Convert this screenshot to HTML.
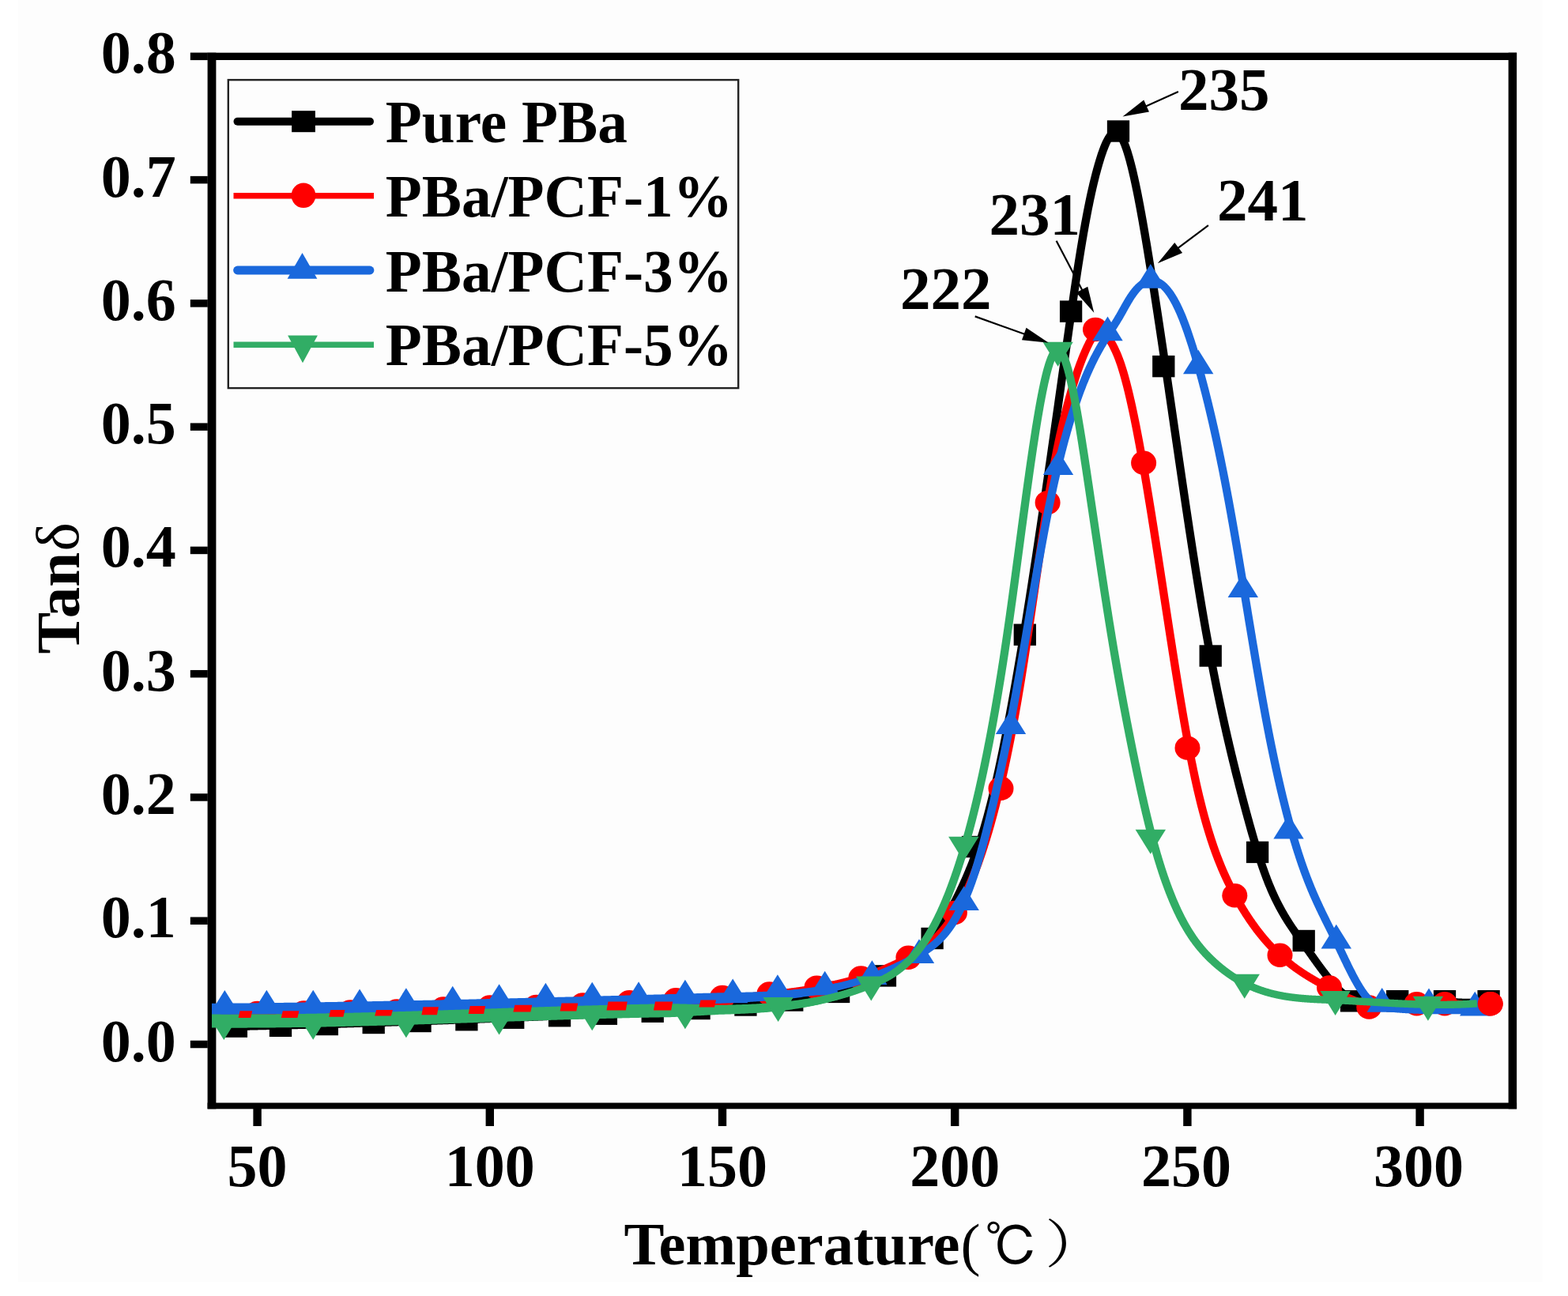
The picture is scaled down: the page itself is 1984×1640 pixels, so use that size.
<!DOCTYPE html>
<html><head><meta charset="utf-8"><style>
html,body{margin:0;padding:0;background:#fff;width:1984px;height:1640px;overflow:hidden}
svg{display:block}
text{font-family:"Liberation Serif",serif;font-weight:bold;fill:#000}
.tk text{font-size:76px}
.b{font-size:75.3px}
.a{font-size:77px}
.t{font-size:76.5px}
.n{font-weight:normal}
</style></head><body>
<svg width="1984" height="1640" viewBox="0 0 1984 1640">
<rect width="1984" height="1640" fill="#fff"/>
<rect x="23" y="0" width="1929" height="1622" fill="#fdfdfd"/>
<rect x="262.6" y="66.7" width="1656.5" height="9.3" fill="#000"/><rect x="262.6" y="1395.5" width="1656.5" height="7.8" fill="#000"/><rect x="262.6" y="66.7" width="10.8" height="1336.6" fill="#000"/><rect x="1908.6" y="66.7" width="10.5" height="1336.6" fill="#000"/>
<defs><clipPath id="pc"><rect x="268" y="71.4" width="1645.8" height="1328.1"/></clipPath></defs>
<g id="plot" clip-path="url(#pc)">
<g transform="scale(1.1,1)"><path d="M259.09,1299.59 L259.55,1299.58 L260.00,1299.57 L260.45,1299.56 L260.91,1299.55 L261.36,1299.53 L261.82,1299.52 L262.27,1299.51 L262.73,1299.50 L263.18,1299.49 L263.64,1299.48 L264.09,1299.47 L264.55,1299.46 L265.00,1299.45 L265.45,1299.44 L265.91,1299.43 L266.36,1299.42 L266.82,1299.41 L267.27,1299.40 L267.73,1299.39 L268.18,1299.38 L268.64,1299.37 L269.09,1299.35 L269.55,1299.34 L270.00,1299.33 L270.45,1299.32 L270.91,1299.31 L271.36,1299.30 L271.82,1299.29 L272.27,1299.28 L272.73,1299.27 L273.18,1299.26 L273.64,1299.25 L274.09,1299.24 L274.55,1299.22 L275.00,1299.21 L275.45,1299.20 L275.91,1299.19 L276.36,1299.18 L276.82,1299.17 L277.27,1299.16 L277.73,1299.15 L278.18,1299.14 L278.64,1299.13 L279.09,1299.12 L279.55,1299.10 L280.00,1299.09 L280.45,1299.08 L280.91,1299.07 L281.36,1299.06 L281.82,1299.05 L282.27,1299.04 L282.73,1299.03 L283.18,1299.02 L283.64,1299.00 L284.09,1298.99 L284.55,1298.98 L285.00,1298.97 L285.45,1298.96 L285.91,1298.95 L286.36,1298.94 L286.82,1298.93 L287.27,1298.91 L287.73,1298.90 L288.18,1298.89 L288.64,1298.88 L289.09,1298.87 L289.55,1298.86 L290.00,1298.85 L290.45,1298.83 L290.91,1298.82 L291.36,1298.81 L291.82,1298.80 L292.27,1298.79 L292.73,1298.78 L293.18,1298.77 L293.64,1298.75 L294.09,1298.74 L294.55,1298.73 L295.00,1298.72 L295.45,1298.71 L295.91,1298.70 L296.36,1298.68 L296.82,1298.67 L297.27,1298.66 L297.73,1298.65 L298.18,1298.64 L298.64,1298.63 L299.09,1298.61 L299.55,1298.60 L300.00,1298.59 L300.45,1298.58 L300.91,1298.57 L301.36,1298.56 L301.82,1298.54 L302.27,1298.53 L302.73,1298.52 L303.18,1298.51 L303.64,1298.50 L304.09,1298.49 L304.55,1298.47 L305.00,1298.46 L305.45,1298.45 L305.91,1298.44 L306.36,1298.43 L306.82,1298.41 L307.27,1298.40 L307.73,1298.39 L308.18,1298.38 L308.64,1298.37 L309.09,1298.35 L309.55,1298.34 L310.00,1298.33 L310.45,1298.32 L310.91,1298.31 L311.36,1298.29 L311.82,1298.28 L312.27,1298.27 L312.73,1298.26 L313.18,1298.25 L313.64,1298.23 L314.09,1298.22 L314.55,1298.21 L315.00,1298.20 L315.45,1298.18 L315.91,1298.17 L316.36,1298.16 L316.82,1298.15 L317.27,1298.14 L317.73,1298.12 L318.18,1298.11 L318.64,1298.10 L319.09,1298.09 L319.55,1298.07 L320.00,1298.06 L320.45,1298.05 L320.91,1298.04 L321.36,1298.02 L321.82,1298.01 L322.27,1298.00 L322.73,1297.99 L323.18,1297.97 L323.64,1297.96 L324.09,1297.95 L324.55,1297.94 L325.00,1297.92 L325.45,1297.91 L325.91,1297.90 L326.36,1297.89 L326.82,1297.87 L327.27,1297.86 L327.73,1297.85 L328.18,1297.84 L328.64,1297.82 L329.09,1297.81 L329.55,1297.80 L330.00,1297.79 L330.45,1297.77 L330.91,1297.76 L331.36,1297.75 L331.82,1297.73 L332.27,1297.72 L332.73,1297.71 L333.18,1297.70 L333.64,1297.68 L334.09,1297.67 L334.55,1297.66 L335.00,1297.64 L335.45,1297.63 L335.91,1297.62 L336.36,1297.61 L336.82,1297.59 L337.27,1297.58 L337.73,1297.57 L338.18,1297.55 L338.64,1297.54 L339.09,1297.53 L339.55,1297.52 L340.00,1297.50 L340.45,1297.49 L340.91,1297.48 L341.36,1297.46 L341.82,1297.45 L342.27,1297.44 L342.73,1297.42 L343.18,1297.41 L343.64,1297.40 L344.09,1297.38 L344.55,1297.37 L345.00,1297.36 L345.45,1297.35 L345.91,1297.33 L346.36,1297.32 L346.82,1297.31 L347.27,1297.29 L347.73,1297.28 L348.18,1297.27 L348.64,1297.25 L349.09,1297.24 L349.55,1297.23 L350.00,1297.21 L350.45,1297.20 L350.91,1297.19 L351.36,1297.17 L351.82,1297.16 L352.27,1297.15 L352.73,1297.13 L353.18,1297.12 L353.64,1297.11 L354.09,1297.09 L354.55,1297.08 L355.00,1297.06 L355.45,1297.05 L355.91,1297.04 L356.36,1297.02 L356.82,1297.01 L357.27,1297.00 L357.73,1296.98 L358.18,1296.97 L358.64,1296.96 L359.09,1296.94 L359.55,1296.93 L360.00,1296.92 L360.45,1296.90 L360.91,1296.89 L361.36,1296.87 L361.82,1296.86 L362.27,1296.85 L362.73,1296.83 L363.18,1296.82 L363.64,1296.81 L364.09,1296.79 L364.55,1296.78 L365.00,1296.76 L365.45,1296.75 L365.91,1296.74 L366.36,1296.72 L366.82,1296.71 L367.27,1296.70 L367.73,1296.68 L368.18,1296.67 L368.64,1296.65 L369.09,1296.64 L369.55,1296.63 L370.00,1296.61 L370.45,1296.60 L370.91,1296.58 L371.36,1296.57 L371.82,1296.56 L372.27,1296.54 L372.73,1296.53 L373.18,1296.51 L373.64,1296.50 L374.09,1296.49 L374.55,1296.47 L375.00,1296.46 L375.45,1296.44 L375.91,1296.43 L376.36,1296.41 L376.82,1296.40 L377.27,1296.39 L377.73,1296.37 L378.18,1296.36 L378.64,1296.34 L379.09,1296.33 L379.55,1296.32 L380.00,1296.30 L380.45,1296.29 L380.91,1296.27 L381.36,1296.26 L381.82,1296.24 L382.27,1296.23 L382.73,1296.22 L383.18,1296.20 L383.64,1296.19 L384.09,1296.17 L384.55,1296.16 L385.00,1296.14 L385.45,1296.13 L385.91,1296.11 L386.36,1296.10 L386.82,1296.09 L387.27,1296.07 L387.73,1296.06 L388.18,1296.04 L388.64,1296.03 L389.09,1296.01 L389.55,1296.00 L390.00,1295.98 L390.45,1295.97 L390.91,1295.95 L391.36,1295.94 L391.82,1295.92 L392.27,1295.91 L392.73,1295.90 L393.18,1295.88 L393.64,1295.87 L394.09,1295.85 L394.55,1295.84 L395.00,1295.82 L395.45,1295.81 L395.91,1295.79 L396.36,1295.78 L396.82,1295.76 L397.27,1295.75 L397.73,1295.73 L398.18,1295.72 L398.64,1295.70 L399.09,1295.69 L399.55,1295.67 L400.00,1295.66 L400.45,1295.64 L400.91,1295.63 L401.36,1295.61 L401.82,1295.60 L402.27,1295.58 L402.73,1295.57 L403.18,1295.55 L403.64,1295.54 L404.09,1295.52 L404.55,1295.51 L405.00,1295.49 L405.45,1295.48 L405.91,1295.46 L406.36,1295.45 L406.82,1295.43 L407.27,1295.42 L407.73,1295.40 L408.18,1295.39 L408.64,1295.37 L409.09,1295.36 L409.55,1295.34 L410.00,1295.33 L410.45,1295.31 L410.91,1295.30 L411.36,1295.28 L411.82,1295.27 L412.27,1295.25 L412.73,1295.24 L413.18,1295.22 L413.64,1295.21 L414.09,1295.19 L414.55,1295.17 L415.00,1295.16 L415.45,1295.14 L415.91,1295.13 L416.36,1295.11 L416.82,1295.10 L417.27,1295.08 L417.73,1295.07 L418.18,1295.05 L418.64,1295.04 L419.09,1295.02 L419.55,1295.01 L420.00,1294.99 L420.45,1294.97 L420.91,1294.96 L421.36,1294.94 L421.82,1294.93 L422.27,1294.91 L422.73,1294.90 L423.18,1294.88 L423.64,1294.87 L424.09,1294.85 L424.55,1294.83 L425.00,1294.82 L425.45,1294.80 L425.91,1294.79 L426.36,1294.77 L426.82,1294.76 L427.27,1294.74 L427.73,1294.72 L428.18,1294.71 L428.64,1294.69 L429.09,1294.68 L429.55,1294.66 L430.00,1294.65 L430.45,1294.63 L430.91,1294.61 L431.36,1294.60 L431.82,1294.58 L432.27,1294.57 L432.73,1294.55 L433.18,1294.53 L433.64,1294.52 L434.09,1294.50 L434.55,1294.49 L435.00,1294.47 L435.45,1294.45 L435.91,1294.44 L436.36,1294.42 L436.82,1294.41 L437.27,1294.39 L437.73,1294.37 L438.18,1294.36 L438.64,1294.34 L439.09,1294.33 L439.55,1294.31 L440.00,1294.29 L440.45,1294.28 L440.91,1294.26 L441.36,1294.25 L441.82,1294.23 L442.27,1294.21 L442.73,1294.20 L443.18,1294.18 L443.64,1294.16 L444.09,1294.15 L444.55,1294.13 L445.00,1294.12 L445.45,1294.10 L445.91,1294.08 L446.36,1294.07 L446.82,1294.05 L447.27,1294.03 L447.73,1294.02 L448.18,1294.00 L448.64,1293.98 L449.09,1293.97 L449.55,1293.95 L450.00,1293.94 L450.45,1293.92 L450.91,1293.90 L451.36,1293.89 L451.82,1293.87 L452.27,1293.85 L452.73,1293.84 L453.18,1293.82 L453.64,1293.80 L454.09,1293.79 L454.55,1293.77 L455.00,1293.75 L455.45,1293.74 L455.91,1293.72 L456.36,1293.70 L456.82,1293.69 L457.27,1293.67 L457.73,1293.65 L458.18,1293.64 L458.64,1293.62 L459.09,1293.60 L459.55,1293.59 L460.00,1293.57 L460.45,1293.55 L460.91,1293.54 L461.36,1293.52 L461.82,1293.50 L462.27,1293.49 L462.73,1293.47 L463.18,1293.45 L463.64,1293.44 L464.09,1293.42 L464.55,1293.40 L465.00,1293.39 L465.45,1293.37 L465.91,1293.35 L466.36,1293.34 L466.82,1293.32 L467.27,1293.30 L467.73,1293.28 L468.18,1293.27 L468.64,1293.25 L469.09,1293.23 L469.55,1293.22 L470.00,1293.20 L470.45,1293.18 L470.91,1293.17 L471.36,1293.15 L471.82,1293.13 L472.27,1293.11 L472.73,1293.10 L473.18,1293.08 L473.64,1293.06 L474.09,1293.05 L474.55,1293.03 L475.00,1293.01 L475.45,1292.99 L475.91,1292.98 L476.36,1292.96 L476.82,1292.94 L477.27,1292.93 L477.73,1292.91 L478.18,1292.89 L478.64,1292.87 L479.09,1292.86 L479.55,1292.84 L480.00,1292.82 L480.45,1292.80 L480.91,1292.79 L481.36,1292.77 L481.82,1292.75 L482.27,1292.74 L482.73,1292.72 L483.18,1292.70 L483.64,1292.68 L484.09,1292.67 L484.55,1292.65 L485.00,1292.63 L485.45,1292.61 L485.91,1292.60 L486.36,1292.58 L486.82,1292.56 L487.27,1292.54 L487.73,1292.53 L488.18,1292.51 L488.64,1292.49 L489.09,1292.47 L489.55,1292.46 L490.00,1292.44 L490.45,1292.42 L490.91,1292.40 L491.36,1292.38 L491.82,1292.37 L492.27,1292.35 L492.73,1292.33 L493.18,1292.31 L493.64,1292.30 L494.09,1292.28 L494.55,1292.26 L495.00,1292.24 L495.45,1292.23 L495.91,1292.21 L496.36,1292.19 L496.82,1292.17 L497.27,1292.15 L497.73,1292.14 L498.18,1292.12 L498.64,1292.10 L499.09,1292.08 L499.55,1292.06 L500.00,1292.05 L500.45,1292.03 L500.91,1292.01 L501.36,1291.99 L501.82,1291.98 L502.27,1291.96 L502.73,1291.94 L503.18,1291.92 L503.64,1291.90 L504.09,1291.89 L504.55,1291.87 L505.00,1291.85 L505.45,1291.83 L505.91,1291.81 L506.36,1291.79 L506.82,1291.78 L507.27,1291.76 L507.73,1291.74 L508.18,1291.72 L508.64,1291.70 L509.09,1291.69 L509.55,1291.67 L510.00,1291.65 L510.45,1291.63 L510.91,1291.61 L511.36,1291.60 L511.82,1291.58 L512.27,1291.56 L512.73,1291.54 L513.18,1291.52 L513.64,1291.50 L514.09,1291.49 L514.55,1291.47 L515.00,1291.45 L515.45,1291.43 L515.91,1291.41 L516.36,1291.39 L516.82,1291.38 L517.27,1291.36 L517.73,1291.34 L518.18,1291.32 L518.64,1291.30 L519.09,1291.28 L519.55,1291.26 L520.00,1291.25 L520.45,1291.23 L520.91,1291.21 L521.36,1291.19 L521.82,1291.17 L522.27,1291.15 L522.73,1291.14 L523.18,1291.12 L523.64,1291.10 L524.09,1291.08 L524.55,1291.06 L525.00,1291.04 L525.45,1291.02 L525.91,1291.00 L526.36,1290.99 L526.82,1290.97 L527.27,1290.95 L527.73,1290.93 L528.18,1290.91 L528.64,1290.89 L529.09,1290.87 L529.55,1290.86 L530.00,1290.84 L530.45,1290.82 L530.91,1290.80 L531.36,1290.78 L531.82,1290.76 L532.27,1290.74 L532.73,1290.72 L533.18,1290.70 L533.64,1290.69 L534.09,1290.67 L534.55,1290.65 L535.00,1290.63 L535.45,1290.61 L535.91,1290.59 L536.36,1290.57 L536.82,1290.55 L537.27,1290.53 L537.73,1290.52 L538.18,1290.50 L538.64,1290.48 L539.09,1290.46 L539.55,1290.44 L540.00,1290.42 L540.45,1290.40 L540.91,1290.38 L541.36,1290.36 L541.82,1290.34 L542.27,1290.32 L542.73,1290.31 L543.18,1290.29 L543.64,1290.27 L544.09,1290.25 L544.55,1290.23 L545.00,1290.21 L545.45,1290.19 L545.91,1290.17 L546.36,1290.15 L546.82,1290.13 L547.27,1290.11 L547.73,1290.09 L548.18,1290.07 L548.64,1290.06 L549.09,1290.04 L549.55,1290.02 L550.00,1290.00 L550.45,1289.98 L550.91,1289.96 L551.36,1289.94 L551.82,1289.92 L552.27,1289.90 L552.73,1289.88 L553.18,1289.86 L553.64,1289.84 L554.09,1289.82 L554.55,1289.80 L555.00,1289.78 L555.45,1289.76 L555.91,1289.75 L556.36,1289.73 L556.82,1289.71 L557.27,1289.69 L557.73,1289.67 L558.18,1289.65 L558.64,1289.63 L559.09,1289.61 L559.55,1289.59 L560.00,1289.57 L560.45,1289.55 L560.91,1289.53 L561.36,1289.51 L561.82,1289.49 L562.27,1289.47 L562.73,1289.45 L563.18,1289.43 L563.64,1289.41 L564.09,1289.39 L564.55,1289.37 L565.00,1289.35 L565.45,1289.33 L565.91,1289.31 L566.36,1289.29 L566.82,1289.27 L567.27,1289.25 L567.73,1289.23 L568.18,1289.21 L568.64,1289.19 L569.09,1289.17 L569.55,1289.15 L570.00,1289.13 L570.45,1289.11 L570.91,1289.09 L571.36,1289.07 L571.82,1289.05 L572.27,1289.03 L572.73,1289.01 L573.18,1288.99 L573.64,1288.97 L574.09,1288.95 L574.55,1288.93 L575.00,1288.91 L575.45,1288.89 L575.91,1288.87 L576.36,1288.85 L576.82,1288.83 L577.27,1288.81 L577.73,1288.79 L578.18,1288.77 L578.64,1288.75 L579.09,1288.73 L579.55,1288.71 L580.00,1288.69 L580.45,1288.67 L580.91,1288.65 L581.36,1288.63 L581.82,1288.61 L582.27,1288.59 L582.73,1288.57 L583.18,1288.55 L583.64,1288.53 L584.09,1288.51 L584.55,1288.49 L585.00,1288.47 L585.45,1288.45 L585.91,1288.43 L586.36,1288.41 L586.82,1288.39 L587.27,1288.37 L587.73,1288.35 L588.18,1288.33 L588.64,1288.31 L589.09,1288.29 L589.55,1288.27 L590.00,1288.25 L590.45,1288.23 L590.91,1288.20 L591.36,1288.18 L591.82,1288.16 L592.27,1288.14 L592.73,1288.12 L593.18,1288.10 L593.64,1288.08 L594.09,1288.06 L594.55,1288.04 L595.00,1288.02 L595.45,1288.00 L595.91,1287.98 L596.36,1287.96 L596.82,1287.94 L597.27,1287.92 L597.73,1287.90 L598.18,1287.88 L598.64,1287.85 L599.09,1287.83 L599.55,1287.81 L600.00,1287.79 L600.45,1287.77 L600.91,1287.75 L601.36,1287.73 L601.82,1287.71 L602.27,1287.69 L602.73,1287.67 L603.18,1287.65 L603.64,1287.63 L604.09,1287.61 L604.55,1287.58 L605.00,1287.56 L605.45,1287.54 L605.91,1287.52 L606.36,1287.50 L606.82,1287.48 L607.27,1287.46 L607.73,1287.44 L608.18,1287.42 L608.64,1287.40 L609.09,1287.37 L609.55,1287.35 L610.00,1287.33 L610.45,1287.31 L610.91,1287.29 L611.36,1287.27 L611.82,1287.25 L612.27,1287.23 L612.73,1287.21 L613.18,1287.19 L613.64,1287.16 L614.09,1287.14 L614.55,1287.12 L615.00,1287.10 L615.45,1287.08 L615.91,1287.06 L616.36,1287.04 L616.82,1287.02 L617.27,1286.99 L617.73,1286.97 L618.18,1286.95 L618.64,1286.93 L619.09,1286.91 L619.55,1286.89 L620.00,1286.87 L620.45,1286.85 L620.91,1286.82 L621.36,1286.80 L621.82,1286.78 L622.27,1286.76 L622.73,1286.74 L623.18,1286.72 L623.64,1286.70 L624.09,1286.68 L624.55,1286.65 L625.00,1286.63 L625.45,1286.61 L625.91,1286.59 L626.36,1286.57 L626.82,1286.55 L627.27,1286.53 L627.73,1286.50 L628.18,1286.48 L628.64,1286.46 L629.09,1286.44 L629.55,1286.42 L630.00,1286.40 L630.45,1286.37 L630.91,1286.35 L631.36,1286.33 L631.82,1286.31 L632.27,1286.29 L632.73,1286.27 L633.18,1286.24 L633.64,1286.22 L634.09,1286.20 L634.55,1286.18 L635.00,1286.16 L635.45,1286.14 L635.91,1286.11 L636.36,1286.09 L636.82,1286.07 L637.27,1286.05 L637.73,1286.03 L638.18,1286.01 L638.64,1285.98 L639.09,1285.96 L639.55,1285.94 L640.00,1285.92 L640.45,1285.90 L640.91,1285.87 L641.36,1285.85 L641.82,1285.83 L642.27,1285.81 L642.73,1285.79 L643.18,1285.77 L643.64,1285.74 L644.09,1285.72 L644.55,1285.70 L645.00,1285.68 L645.45,1285.66 L645.91,1285.63 L646.36,1285.61 L646.82,1285.59 L647.27,1285.57 L647.73,1285.55 L648.18,1285.52 L648.64,1285.50 L649.09,1285.48 L649.55,1285.46 L650.00,1285.44 L650.45,1285.41 L650.91,1285.39 L651.36,1285.37 L651.82,1285.35 L652.27,1285.32 L652.73,1285.30 L653.18,1285.28 L653.64,1285.26 L654.09,1285.24 L654.55,1285.21 L655.00,1285.19 L655.45,1285.17 L655.91,1285.15 L656.36,1285.12 L656.82,1285.10 L657.27,1285.08 L657.73,1285.06 L658.18,1285.04 L658.64,1285.01 L659.09,1284.99 L659.55,1284.97 L660.00,1284.95 L660.45,1284.92 L660.91,1284.90 L661.36,1284.88 L661.82,1284.86 L662.27,1284.83 L662.73,1284.81 L663.18,1284.79 L663.64,1284.77 L664.09,1284.74 L664.55,1284.72 L665.00,1284.70 L665.45,1284.68 L665.91,1284.65 L666.36,1284.63 L666.82,1284.61 L667.27,1284.59 L667.73,1284.56 L668.18,1284.54 L668.64,1284.52 L669.09,1284.50 L669.55,1284.47 L670.00,1284.45 L670.45,1284.43 L670.91,1284.41 L671.36,1284.38 L671.82,1284.36 L672.27,1284.34 L672.73,1284.32 L673.18,1284.29 L673.64,1284.27 L674.09,1284.25 L674.55,1284.22 L675.00,1284.20 L675.45,1284.18 L675.91,1284.16 L676.36,1284.13 L676.82,1284.11 L677.27,1284.09 L677.73,1284.06 L678.18,1284.04 L678.64,1284.02 L679.09,1284.00 L679.55,1283.97 L680.00,1283.95 L680.45,1283.93 L680.91,1283.90 L681.36,1283.88 L681.82,1283.86 L682.27,1283.84 L682.73,1283.81 L683.18,1283.79 L683.64,1283.77 L684.09,1283.74 L684.55,1283.72 L685.00,1283.70 L685.45,1283.67 L685.91,1283.65 L686.36,1283.63 L686.82,1283.61 L687.27,1283.58 L687.73,1283.56 L688.18,1283.54 L688.64,1283.51 L689.09,1283.49 L689.55,1283.47 L690.00,1283.44 L690.45,1283.42 L690.91,1283.40 L691.36,1283.37 L691.82,1283.35 L692.27,1283.33 L692.73,1283.30 L693.18,1283.28 L693.64,1283.26 L694.09,1283.23 L694.55,1283.21 L695.00,1283.19 L695.45,1283.16 L695.91,1283.14 L696.36,1283.12 L696.82,1283.09 L697.27,1283.07 L697.73,1283.05 L698.18,1283.02 L698.64,1283.00 L699.09,1282.98 L699.55,1282.95 L700.00,1282.93 L700.45,1282.91 L700.91,1282.88 L701.36,1282.86 L701.82,1282.84 L702.27,1282.81 L702.73,1282.79 L703.18,1282.77 L703.64,1282.74 L704.09,1282.72 L704.55,1282.70 L705.00,1282.67 L705.45,1282.65 L705.91,1282.63 L706.36,1282.60 L706.82,1282.58 L707.27,1282.55 L707.73,1282.53 L708.18,1282.51 L708.64,1282.48 L709.09,1282.46 L709.55,1282.44 L710.00,1282.41 L710.45,1282.39 L710.91,1282.36 L711.36,1282.34 L711.82,1282.32 L712.27,1282.29 L712.73,1282.27 L713.18,1282.25 L713.64,1282.22 L714.09,1282.20 L714.55,1282.17 L715.00,1282.15 L715.45,1282.13 L715.91,1282.10 L716.36,1282.08 L716.82,1282.05 L717.27,1282.03 L717.73,1282.00 L718.18,1281.98 L718.64,1281.96 L719.09,1281.93 L719.55,1281.91 L720.00,1281.88 L720.45,1281.86 L720.91,1281.83 L721.36,1281.81 L721.82,1281.79 L722.27,1281.76 L722.73,1281.74 L723.18,1281.71 L723.64,1281.69 L724.09,1281.66 L724.55,1281.64 L725.00,1281.61 L725.45,1281.59 L725.91,1281.57 L726.36,1281.54 L726.82,1281.52 L727.27,1281.49 L727.73,1281.47 L728.18,1281.44 L728.64,1281.42 L729.09,1281.39 L729.55,1281.37 L730.00,1281.34 L730.45,1281.32 L730.91,1281.29 L731.36,1281.27 L731.82,1281.24 L732.27,1281.22 L732.73,1281.19 L733.18,1281.17 L733.64,1281.14 L734.09,1281.12 L734.55,1281.09 L735.00,1281.07 L735.45,1281.04 L735.91,1281.01 L736.36,1280.99 L736.82,1280.96 L737.27,1280.94 L737.73,1280.91 L738.18,1280.89 L738.64,1280.86 L739.09,1280.84 L739.55,1280.81 L740.00,1280.78 L740.45,1280.76 L740.91,1280.73 L741.36,1280.71 L741.82,1280.68 L742.27,1280.66 L742.73,1280.63 L743.18,1280.60 L743.64,1280.58 L744.09,1280.55 L744.55,1280.52 L745.00,1280.50 L745.45,1280.47 L745.91,1280.45 L746.36,1280.42 L746.82,1280.39 L747.27,1280.37 L747.73,1280.34 L748.18,1280.31 L748.64,1280.29 L749.09,1280.26 L749.55,1280.23 L750.00,1280.21 L750.45,1280.18 L750.91,1280.15 L751.36,1280.13 L751.82,1280.10 L752.27,1280.07 L752.73,1280.05 L753.18,1280.02 L753.64,1279.99 L754.09,1279.97 L754.55,1279.94 L755.00,1279.91 L755.45,1279.88 L755.91,1279.86 L756.36,1279.83 L756.82,1279.80 L757.27,1279.77 L757.73,1279.75 L758.18,1279.72 L758.64,1279.69 L759.09,1279.66 L759.55,1279.64 L760.00,1279.61 L760.45,1279.58 L760.91,1279.55 L761.36,1279.53 L761.82,1279.50 L762.27,1279.47 L762.73,1279.44 L763.18,1279.41 L763.64,1279.39 L764.09,1279.36 L764.55,1279.33 L765.00,1279.30 L765.45,1279.27 L765.91,1279.24 L766.36,1279.22 L766.82,1279.19 L767.27,1279.16 L767.73,1279.13 L768.18,1279.10 L768.64,1279.07 L769.09,1279.04 L769.55,1279.01 L770.00,1278.99 L770.45,1278.96 L770.91,1278.93 L771.36,1278.90 L771.82,1278.87 L772.27,1278.84 L772.73,1278.81 L773.18,1278.78 L773.64,1278.75 L774.09,1278.72 L774.55,1278.69 L775.00,1278.66 L775.45,1278.63 L775.91,1278.60 L776.36,1278.57 L776.82,1278.54 L777.27,1278.51 L777.73,1278.48 L778.18,1278.45 L778.64,1278.42 L779.09,1278.39 L779.55,1278.36 L780.00,1278.33 L780.45,1278.30 L780.91,1278.27 L781.36,1278.24 L781.82,1278.21 L782.27,1278.18 L782.73,1278.15 L783.18,1278.12 L783.64,1278.09 L784.09,1278.06 L784.55,1278.03 L785.00,1278.00 L785.45,1277.96 L785.91,1277.93 L786.36,1277.90 L786.82,1277.87 L787.27,1277.84 L787.73,1277.81 L788.18,1277.78 L788.64,1277.75 L789.09,1277.71 L789.55,1277.68 L790.00,1277.65 L790.45,1277.62 L790.91,1277.59 L791.36,1277.55 L791.82,1277.52 L792.27,1277.49 L792.73,1277.46 L793.18,1277.43 L793.64,1277.39 L794.09,1277.36 L794.55,1277.33 L795.00,1277.30 L795.45,1277.26 L795.91,1277.23 L796.36,1277.20 L796.82,1277.16 L797.27,1277.13 L797.73,1277.10 L798.18,1277.07 L798.64,1277.03 L799.09,1277.00 L799.55,1276.97 L800.00,1276.93 L800.45,1276.90 L800.91,1276.87 L801.36,1276.83 L801.82,1276.80 L802.27,1276.76 L802.73,1276.73 L803.18,1276.70 L803.64,1276.66 L804.09,1276.63 L804.55,1276.59 L805.00,1276.56 L805.45,1276.52 L805.91,1276.49 L806.36,1276.46 L806.82,1276.42 L807.27,1276.39 L807.73,1276.35 L808.18,1276.32 L808.64,1276.28 L809.09,1276.25 L809.55,1276.21 L810.00,1276.18 L810.45,1276.14 L810.91,1276.11 L811.36,1276.07 L811.82,1276.03 L812.27,1276.00 L812.73,1275.96 L813.18,1275.93 L813.64,1275.89 L814.09,1275.86 L814.55,1275.82 L815.00,1275.78 L815.45,1275.75 L815.91,1275.71 L816.36,1275.67 L816.82,1275.64 L817.27,1275.60 L817.73,1275.57 L818.18,1275.53 L818.64,1275.49 L819.09,1275.45 L819.55,1275.42 L820.00,1275.38 L820.45,1275.34 L820.91,1275.31 L821.36,1275.27 L821.82,1275.23 L822.27,1275.19 L822.73,1275.16 L823.18,1275.12 L823.64,1275.08 L824.09,1275.04 L824.55,1275.00 L825.00,1274.97 L825.45,1274.93 L825.91,1274.89 L826.36,1274.85 L826.82,1274.81 L827.27,1274.77 L827.73,1274.74 L828.18,1274.70 L828.64,1274.66 L829.09,1274.62 L829.55,1274.58 L830.00,1274.54 L830.45,1274.50 L830.91,1274.46 L831.36,1274.42 L831.82,1274.38 L832.27,1274.34 L832.73,1274.30 L833.18,1274.26 L833.64,1274.22 L834.09,1274.18 L834.55,1274.14 L835.00,1274.10 L835.45,1274.06 L835.91,1274.02 L836.36,1273.98 L836.82,1273.94 L837.27,1273.90 L837.73,1273.86 L838.18,1273.82 L838.64,1273.78 L839.09,1273.74 L839.55,1273.69 L840.00,1273.65 L840.45,1273.61 L840.91,1273.57 L841.36,1273.53 L841.82,1273.49 L842.27,1273.44 L842.73,1273.40 L843.18,1273.36 L843.64,1273.32 L844.09,1273.28 L844.55,1273.23 L845.00,1273.19 L845.45,1273.15 L845.91,1273.11 L846.36,1273.06 L846.82,1273.02 L847.27,1272.98 L847.73,1272.93 L848.18,1272.89 L848.64,1272.85 L849.09,1272.80 L849.55,1272.76 L850.00,1272.72 L850.45,1272.67 L850.91,1272.63 L851.36,1272.58 L851.82,1272.54 L852.27,1272.50 L852.73,1272.45 L853.18,1272.41 L853.64,1272.36 L854.09,1272.32 L854.55,1272.27 L855.00,1272.23 L855.45,1272.18 L855.91,1272.14 L856.36,1272.09 L856.82,1272.05 L857.27,1272.00 L857.73,1271.96 L858.18,1271.91 L858.64,1271.86 L859.09,1271.82 L859.55,1271.77 L860.00,1271.73 L860.45,1271.68 L860.91,1271.63 L861.36,1271.59 L861.82,1271.54 L862.27,1271.49 L862.73,1271.45 L863.18,1271.40 L863.64,1271.35 L864.09,1271.31 L864.55,1271.26 L865.00,1271.21 L865.45,1271.16 L865.91,1271.12 L866.36,1271.07 L866.82,1271.02 L867.27,1270.97 L867.73,1270.92 L868.18,1270.87 L868.64,1270.83 L869.09,1270.78 L869.55,1270.73 L870.00,1270.68 L870.45,1270.63 L870.91,1270.58 L871.36,1270.53 L871.82,1270.48 L872.27,1270.43 L872.73,1270.38 L873.18,1270.33 L873.64,1270.28 L874.09,1270.24 L874.55,1270.18 L875.00,1270.13 L875.45,1270.08 L875.91,1270.03 L876.36,1269.98 L876.82,1269.93 L877.27,1269.88 L877.73,1269.83 L878.18,1269.78 L878.64,1269.73 L879.09,1269.68 L879.55,1269.63 L880.00,1269.57 L880.45,1269.52 L880.91,1269.47 L881.36,1269.42 L881.82,1269.37 L882.27,1269.31 L882.73,1269.26 L883.18,1269.21 L883.64,1269.16 L884.09,1269.10 L884.55,1269.05 L885.00,1269.00 L885.45,1268.95 L885.91,1268.89 L886.36,1268.84 L886.82,1268.78 L887.27,1268.73 L887.73,1268.68 L888.18,1268.62 L888.64,1268.57 L889.09,1268.52 L889.55,1268.46 L890.00,1268.41 L890.45,1268.35 L890.91,1268.30 L891.36,1268.24 L891.82,1268.19 L892.27,1268.13 L892.73,1268.08 L893.18,1268.02 L893.64,1267.97 L894.09,1267.91 L894.55,1267.85 L895.00,1267.80 L895.45,1267.74 L895.91,1267.69 L896.36,1267.63 L896.82,1267.57 L897.27,1267.52 L897.73,1267.46 L898.18,1267.40 L898.64,1267.34 L899.09,1267.29 L899.55,1267.23 L900.00,1267.17 L900.45,1267.12 L900.91,1267.06 L901.36,1267.00 L901.82,1266.94 L902.27,1266.88 L902.73,1266.82 L903.18,1266.77 L903.64,1266.71 L904.09,1266.65 L904.55,1266.59 L905.00,1266.53 L905.45,1266.47 L905.91,1266.41 L906.36,1266.35 L906.82,1266.29 L907.27,1266.23 L907.73,1266.17 L908.18,1266.11 L908.64,1266.05 L909.09,1265.99 L909.55,1265.93 L910.00,1265.87 L910.45,1265.81 L910.91,1265.75 L911.36,1265.69 L911.82,1265.63 L912.27,1265.56 L912.73,1265.50 L913.18,1265.44 L913.64,1265.38 L914.09,1265.32 L914.55,1265.25 L915.00,1265.19 L915.45,1265.13 L915.91,1265.07 L916.36,1265.00 L916.82,1264.94 L917.27,1264.88 L917.73,1264.81 L918.18,1264.75 L918.64,1264.68 L919.09,1264.62 L919.55,1264.56 L920.00,1264.49 L920.45,1264.42 L920.91,1264.36 L921.36,1264.29 L921.82,1264.23 L922.27,1264.16 L922.73,1264.09 L923.18,1264.03 L923.64,1263.96 L924.09,1263.89 L924.55,1263.82 L925.00,1263.76 L925.45,1263.69 L925.91,1263.62 L926.36,1263.55 L926.82,1263.48 L927.27,1263.41 L927.73,1263.34 L928.18,1263.27 L928.64,1263.20 L929.09,1263.13 L929.55,1263.06 L930.00,1262.98 L930.45,1262.91 L930.91,1262.84 L931.36,1262.76 L931.82,1262.69 L932.27,1262.62 L932.73,1262.54 L933.18,1262.47 L933.64,1262.39 L934.09,1262.32 L934.55,1262.24 L935.00,1262.16 L935.45,1262.09 L935.91,1262.01 L936.36,1261.93 L936.82,1261.85 L937.27,1261.77 L937.73,1261.69 L938.18,1261.61 L938.64,1261.53 L939.09,1261.45 L939.55,1261.37 L940.00,1261.29 L940.45,1261.21 L940.91,1261.12 L941.36,1261.04 L941.82,1260.96 L942.27,1260.87 L942.73,1260.79 L943.18,1260.70 L943.64,1260.62 L944.09,1260.53 L944.55,1260.44 L945.00,1260.35 L945.45,1260.27 L945.91,1260.18 L946.36,1260.09 L946.82,1260.00 L947.27,1259.91 L947.73,1259.81 L948.18,1259.72 L948.64,1259.63 L949.09,1259.54 L949.55,1259.44 L950.00,1259.35 L950.45,1259.25 L950.91,1259.16 L951.36,1259.06 L951.82,1258.96 L952.27,1258.87 L952.73,1258.77 L953.18,1258.67 L953.64,1258.57 L954.09,1258.47 L954.55,1258.37 L955.00,1258.27 L955.45,1258.16 L955.91,1258.06 L956.36,1257.96 L956.82,1257.85 L957.27,1257.75 L957.73,1257.64 L958.18,1257.53 L958.64,1257.43 L959.09,1257.32 L959.55,1257.21 L960.00,1257.10 L960.45,1256.99 L960.91,1256.88 L961.36,1256.76 L961.82,1256.65 L962.27,1256.54 L962.73,1256.42 L963.18,1256.31 L963.64,1256.19 L964.09,1256.08 L964.55,1255.96 L965.00,1255.84 L965.45,1255.72 L965.91,1255.60 L966.36,1255.48 L966.82,1255.36 L967.27,1255.23 L967.73,1255.11 L968.18,1254.99 L968.64,1254.86 L969.09,1254.73 L969.55,1254.61 L970.00,1254.48 L970.45,1254.35 L970.91,1254.22 L971.36,1254.09 L971.82,1253.96 L972.27,1253.83 L972.73,1253.69 L973.18,1253.56 L973.64,1253.42 L974.09,1253.29 L974.55,1253.15 L975.00,1253.01 L975.45,1252.87 L975.91,1252.73 L976.36,1252.59 L976.82,1252.45 L977.27,1252.31 L977.73,1252.16 L978.18,1252.02 L978.64,1251.87 L979.09,1251.73 L979.55,1251.58 L980.00,1251.43 L980.45,1251.28 L980.91,1251.13 L981.36,1250.98 L981.82,1250.82 L982.27,1250.67 L982.73,1250.52 L983.18,1250.36 L983.64,1250.20 L984.09,1250.04 L984.55,1249.88 L985.00,1249.72 L985.45,1249.56 L985.91,1249.40 L986.36,1249.24 L986.82,1249.07 L987.27,1248.91 L987.73,1248.74 L988.18,1248.57 L988.64,1248.40 L989.09,1248.23 L989.55,1248.06 L990.00,1247.89 L990.45,1247.71 L990.91,1247.54 L991.36,1247.36 L991.82,1247.19 L992.27,1247.01 L992.73,1246.83 L993.18,1246.65 L993.64,1246.47 L994.09,1246.28 L994.55,1246.10 L995.00,1245.91 L995.45,1245.73 L995.91,1245.54 L996.36,1245.35 L996.82,1245.16 L997.27,1244.97 L997.73,1244.78 L998.18,1244.58 L998.64,1244.39 L999.09,1244.19 L999.55,1243.99 L1000.00,1243.80 L1000.45,1243.60 L1000.91,1243.39 L1001.36,1243.19 L1001.82,1242.99 L1002.27,1242.78 L1002.73,1242.58 L1003.18,1242.37 L1003.64,1242.16 L1004.09,1241.95 L1004.55,1241.74 L1005.00,1241.52 L1005.45,1241.31 L1005.91,1241.09 L1006.36,1240.88 L1006.82,1240.66 L1007.27,1240.44 L1007.73,1240.22 L1008.18,1239.99 L1008.64,1239.77 L1009.09,1239.54 L1009.55,1239.32 L1010.00,1239.09 L1010.45,1238.86 L1010.91,1238.63 L1011.36,1238.40 L1011.82,1238.16 L1012.27,1237.93 L1012.73,1237.69 L1013.18,1237.45 L1013.64,1237.21 L1014.09,1236.97 L1014.55,1236.73 L1015.00,1236.49 L1015.45,1236.24 L1015.91,1236.00 L1016.36,1235.75 L1016.82,1235.50 L1017.27,1235.25 L1017.73,1234.99 L1018.18,1234.74 L1018.64,1234.48 L1019.09,1234.23 L1019.55,1233.97 L1020.00,1233.71 L1020.45,1233.45 L1020.91,1233.18 L1021.36,1232.92 L1021.82,1232.65 L1022.27,1232.38 L1022.73,1232.11 L1023.18,1231.84 L1023.64,1231.57 L1024.09,1231.29 L1024.55,1231.01 L1025.00,1230.73 L1025.45,1230.45 L1025.91,1230.17 L1026.36,1229.88 L1026.82,1229.60 L1027.27,1229.31 L1027.73,1229.02 L1028.18,1228.72 L1028.64,1228.43 L1029.09,1228.13 L1029.55,1227.83 L1030.00,1227.53 L1030.45,1227.22 L1030.91,1226.92 L1031.36,1226.61 L1031.82,1226.30 L1032.27,1225.98 L1032.73,1225.67 L1033.18,1225.35 L1033.64,1225.03 L1034.09,1224.71 L1034.55,1224.38 L1035.00,1224.05 L1035.45,1223.72 L1035.91,1223.39 L1036.36,1223.05 L1036.82,1222.71 L1037.27,1222.37 L1037.73,1222.03 L1038.18,1221.68 L1038.64,1221.33 L1039.09,1220.98 L1039.55,1220.63 L1040.00,1220.27 L1040.45,1219.91 L1040.91,1219.55 L1041.36,1219.18 L1041.82,1218.81 L1042.27,1218.44 L1042.73,1218.06 L1043.18,1217.69 L1043.64,1217.31 L1044.09,1216.92 L1044.55,1216.53 L1045.00,1216.14 L1045.45,1215.75 L1045.91,1215.35 L1046.36,1214.95 L1046.82,1214.55 L1047.27,1214.14 L1047.73,1213.74 L1048.18,1213.32 L1048.64,1212.91 L1049.09,1212.49 L1049.55,1212.06 L1050.00,1211.64 L1050.45,1211.21 L1050.91,1210.77 L1051.36,1210.34 L1051.82,1209.90 L1052.27,1209.45 L1052.73,1209.00 L1053.18,1208.55 L1053.64,1208.10 L1054.09,1207.64 L1054.55,1207.18 L1055.00,1206.71 L1055.45,1206.24 L1055.91,1205.77 L1056.36,1205.29 L1056.82,1204.81 L1057.27,1204.33 L1057.73,1203.84 L1058.18,1203.34 L1058.64,1202.85 L1059.09,1202.35 L1059.55,1201.84 L1060.00,1201.33 L1060.45,1200.82 L1060.91,1200.30 L1061.36,1199.78 L1061.82,1199.26 L1062.27,1198.73 L1062.73,1198.19 L1063.18,1197.65 L1063.64,1197.11 L1064.09,1196.56 L1064.55,1196.01 L1065.00,1195.46 L1065.45,1194.90 L1065.91,1194.34 L1066.36,1193.77 L1066.82,1193.19 L1067.27,1192.62 L1067.73,1192.03 L1068.18,1191.45 L1068.64,1190.86 L1069.09,1190.26 L1069.55,1189.66 L1070.00,1189.06 L1070.45,1188.45 L1070.91,1187.83 L1071.36,1187.21 L1071.82,1186.59 L1072.27,1185.96 L1072.73,1185.33 L1073.18,1184.69 L1073.64,1184.05 L1074.09,1183.40 L1074.55,1182.74 L1075.00,1182.09 L1075.45,1181.42 L1075.91,1180.75 L1076.36,1180.08 L1076.82,1179.40 L1077.27,1178.72 L1077.73,1178.03 L1078.18,1177.34 L1078.64,1176.64 L1079.09,1175.94 L1079.55,1175.23 L1080.00,1174.51 L1080.45,1173.79 L1080.91,1173.07 L1081.36,1172.34 L1081.82,1171.60 L1082.27,1170.86 L1082.73,1170.11 L1083.18,1169.36 L1083.64,1168.60 L1084.09,1167.84 L1084.55,1167.07 L1085.00,1166.30 L1085.45,1165.52 L1085.91,1164.73 L1086.36,1163.94 L1086.82,1163.14 L1087.27,1162.34 L1087.73,1161.53 L1088.18,1160.72 L1088.64,1159.90 L1089.09,1159.07 L1089.55,1158.24 L1090.00,1157.40 L1090.45,1156.56 L1090.91,1155.71 L1091.36,1154.85 L1091.82,1153.99 L1092.27,1153.12 L1092.73,1152.25 L1093.18,1151.37 L1093.64,1150.49 L1094.09,1149.59 L1094.55,1148.70 L1095.00,1147.79 L1095.45,1146.88 L1095.91,1145.96 L1096.36,1145.04 L1096.82,1144.11 L1097.27,1143.18 L1097.73,1142.23 L1098.18,1141.29 L1098.64,1140.33 L1099.09,1139.37 L1099.55,1138.40 L1100.00,1137.43 L1100.45,1136.45 L1100.91,1135.46 L1101.36,1134.47 L1101.82,1133.46 L1102.27,1132.46 L1102.73,1131.44 L1103.18,1130.42 L1103.64,1129.40 L1104.09,1128.36 L1104.55,1127.32 L1105.00,1126.27 L1105.45,1125.22 L1105.91,1124.16 L1106.36,1123.09 L1106.82,1122.01 L1107.27,1120.93 L1107.73,1119.84 L1108.18,1118.75 L1108.64,1117.64 L1109.09,1116.53 L1109.55,1115.42 L1110.00,1114.29 L1110.45,1113.16 L1110.91,1112.02 L1111.36,1110.88 L1111.82,1109.72 L1112.27,1108.56 L1112.73,1107.39 L1113.18,1106.22 L1113.64,1105.04 L1114.09,1103.85 L1114.55,1102.65 L1115.00,1101.44 L1115.45,1100.23 L1115.91,1099.01 L1116.36,1097.78 L1116.82,1096.53 L1117.27,1095.28 L1117.73,1094.03 L1118.18,1092.76 L1118.64,1091.48 L1119.09,1090.19 L1119.55,1088.89 L1120.00,1087.58 L1120.45,1086.26 L1120.91,1084.92 L1121.36,1083.58 L1121.82,1082.22 L1122.27,1080.85 L1122.73,1079.47 L1123.18,1078.08 L1123.64,1076.68 L1124.09,1075.26 L1124.55,1073.83 L1125.00,1072.38 L1125.45,1070.92 L1125.91,1069.45 L1126.36,1067.96 L1126.82,1066.46 L1127.27,1064.94 L1127.73,1063.41 L1128.18,1061.86 L1128.64,1060.30 L1129.09,1058.73 L1129.55,1057.13 L1130.00,1055.52 L1130.45,1053.89 L1130.91,1052.25 L1131.36,1050.59 L1131.82,1048.91 L1132.27,1047.22 L1132.73,1045.51 L1133.18,1043.78 L1133.64,1042.03 L1134.09,1040.27 L1134.55,1038.48 L1135.00,1036.68 L1135.45,1034.87 L1135.91,1033.03 L1136.36,1031.18 L1136.82,1029.31 L1137.27,1027.43 L1137.73,1025.53 L1138.18,1023.61 L1138.64,1021.68 L1139.09,1019.73 L1139.55,1017.76 L1140.00,1015.77 L1140.45,1013.77 L1140.91,1011.76 L1141.36,1009.73 L1141.82,1007.68 L1142.27,1005.61 L1142.73,1003.53 L1143.18,1001.44 L1143.64,999.33 L1144.09,997.20 L1144.55,995.06 L1145.00,992.90 L1145.45,990.73 L1145.91,988.54 L1146.36,986.33 L1146.82,984.11 L1147.27,981.88 L1147.73,979.63 L1148.18,977.37 L1148.64,975.09 L1149.09,972.80 L1149.55,970.49 L1150.00,968.17 L1150.45,965.83 L1150.91,963.48 L1151.36,961.12 L1151.82,958.74 L1152.27,956.35 L1152.73,953.94 L1153.18,951.52 L1153.64,949.09 L1154.09,946.64 L1154.55,944.18 L1155.00,941.70 L1155.45,939.21 L1155.91,936.71 L1156.36,934.20 L1156.82,931.67 L1157.27,929.13 L1157.73,926.57 L1158.18,924.01 L1158.64,921.43 L1159.09,918.83 L1159.55,916.23 L1160.00,913.61 L1160.45,910.98 L1160.91,908.34 L1161.36,905.68 L1161.82,903.01 L1162.27,900.33 L1162.73,897.64 L1163.18,894.94 L1163.64,892.22 L1164.09,889.49 L1164.55,886.75 L1165.00,884.00 L1165.45,881.24 L1165.91,878.47 L1166.36,875.68 L1166.82,872.88 L1167.27,870.08 L1167.73,867.26 L1168.18,864.43 L1168.64,861.59 L1169.09,858.73 L1169.55,855.87 L1170.00,853.00 L1170.45,850.11 L1170.91,847.22 L1171.36,844.31 L1171.82,841.40 L1172.27,838.47 L1172.73,835.53 L1173.18,832.59 L1173.64,829.63 L1174.09,826.66 L1174.55,823.69 L1175.00,820.70 L1175.45,817.71 L1175.91,814.70 L1176.36,811.69 L1176.82,808.66 L1177.27,805.63 L1177.73,802.59 L1178.18,799.53 L1178.64,796.47 L1179.09,793.40 L1179.55,790.32 L1180.00,787.24 L1180.45,784.14 L1180.91,781.03 L1181.36,777.92 L1181.82,774.80 L1182.27,771.67 L1182.73,768.53 L1183.18,765.38 L1183.64,762.22 L1184.09,759.06 L1184.55,755.89 L1185.00,752.71 L1185.45,749.52 L1185.91,746.32 L1186.36,743.12 L1186.82,739.91 L1187.27,736.69 L1187.73,733.47 L1188.18,730.23 L1188.64,726.99 L1189.09,723.75 L1189.55,720.49 L1190.00,717.23 L1190.45,713.96 L1190.91,710.69 L1191.36,707.41 L1191.82,704.12 L1192.27,700.82 L1192.73,697.52 L1193.18,694.21 L1193.64,690.90 L1194.09,687.58 L1194.55,684.25 L1195.00,680.92 L1195.45,677.58 L1195.91,674.24 L1196.36,670.89 L1196.82,667.53 L1197.27,664.17 L1197.73,660.80 L1198.18,657.43 L1198.64,654.05 L1199.09,650.67 L1199.55,647.28 L1200.00,643.89 L1200.45,640.49 L1200.91,637.09 L1201.36,633.68 L1201.82,630.27 L1202.27,626.85 L1202.73,623.43 L1203.18,620.00 L1203.64,616.57 L1204.09,613.13 L1204.55,609.69 L1205.00,606.25 L1205.45,602.80 L1205.91,599.35 L1206.36,595.89 L1206.82,592.43 L1207.27,588.97 L1207.73,585.50 L1208.18,582.03 L1208.64,578.56 L1209.09,575.08 L1209.55,571.60 L1210.00,568.12 L1210.45,564.63 L1210.91,561.14 L1211.36,557.64 L1211.82,554.15 L1212.27,550.65 L1212.73,547.15 L1213.18,543.64 L1213.64,540.13 L1214.09,536.63 L1214.55,533.11 L1215.00,529.60 L1215.45,526.08 L1215.91,522.56 L1216.36,519.04 L1216.82,515.52 L1217.27,512.00 L1217.73,508.47 L1218.18,504.94 L1218.64,501.41 L1219.09,497.88 L1219.55,494.35 L1220.00,490.81 L1220.45,487.28 L1220.91,483.74 L1221.36,480.20 L1221.82,476.67 L1222.27,473.13 L1222.73,469.59 L1223.18,466.04 L1223.64,462.50 L1224.09,458.96 L1224.55,455.42 L1225.00,451.87 L1225.45,448.33 L1225.91,444.78 L1226.36,441.24 L1226.82,437.70 L1227.27,434.15 L1227.73,430.61 L1228.18,427.07 L1228.64,423.53 L1229.09,419.99 L1229.55,416.46 L1230.00,412.93 L1230.45,409.41 L1230.91,405.89 L1231.36,402.38 L1231.82,398.87 L1232.27,395.38 L1232.73,391.89 L1233.18,388.42 L1233.64,384.95 L1234.09,381.49 L1234.55,378.05 L1235.00,374.62 L1235.45,371.20 L1235.91,367.80 L1236.36,364.41 L1236.82,361.04 L1237.27,357.68 L1237.73,354.34 L1238.18,351.02 L1238.64,347.72 L1239.09,344.44 L1239.55,341.18 L1240.00,337.94 L1240.45,334.72 L1240.91,331.52 L1241.36,328.35 L1241.82,325.20 L1242.27,322.07 L1242.73,318.97 L1243.18,315.90 L1243.64,312.85 L1244.09,309.83 L1244.55,306.84 L1245.00,303.87 L1245.45,300.93 L1245.91,298.02 L1246.36,295.13 L1246.82,292.27 L1247.27,289.44 L1247.73,286.64 L1248.18,283.87 L1248.64,281.13 L1249.09,278.42 L1249.55,275.74 L1250.00,273.09 L1250.45,270.46 L1250.91,267.87 L1251.36,265.31 L1251.82,262.78 L1252.27,260.29 L1252.73,257.82 L1253.18,255.39 L1253.64,252.99 L1254.09,250.62 L1254.55,248.28 L1255.00,245.98 L1255.45,243.71 L1255.91,241.48 L1256.36,239.27 L1256.82,237.10 L1257.27,234.96 L1257.73,232.85 L1258.18,230.77 L1258.64,228.72 L1259.09,226.70 L1259.55,224.71 L1260.00,222.75 L1260.45,220.81 L1260.91,218.91 L1261.36,217.04 L1261.82,215.19 L1262.27,213.37 L1262.73,211.58 L1263.18,209.81 L1263.64,208.07 L1264.09,206.36 L1264.55,204.68 L1265.00,203.02 L1265.45,201.40 L1265.91,199.81 L1266.36,198.24 L1266.82,196.71 L1267.27,195.21 L1267.73,193.74 L1268.18,192.30 L1268.64,190.90 L1269.09,189.53 L1269.55,188.20 L1270.00,186.90 L1270.45,185.64 L1270.91,184.41 L1271.36,183.23 L1271.82,182.08 L1272.27,180.96 L1272.73,179.89 L1273.18,178.86 L1273.64,177.86 L1274.09,176.91 L1274.55,176.00 L1275.00,175.13 L1275.45,174.31 L1275.91,173.52 L1276.36,172.78 L1276.82,172.09 L1277.27,171.44 L1277.73,170.84 L1278.18,170.28 L1278.64,169.77 L1279.09,169.30 L1279.55,168.89 L1280.00,168.52 L1280.45,168.20 L1280.91,167.93 L1281.36,167.72 L1281.82,167.55 L1282.27,167.43 L1282.73,167.37 L1283.18,167.36 L1283.64,167.41 L1284.09,167.50 L1284.55,167.66 L1285.00,167.86 L1285.45,168.13 L1285.91,168.45 L1286.36,168.82 L1286.82,169.26 L1287.27,169.75 L1287.73,170.30 L1288.18,170.90 L1288.64,171.56 L1289.09,172.27 L1289.55,173.04 L1290.00,173.86 L1290.45,174.74 L1290.91,175.66 L1291.36,176.64 L1291.82,177.67 L1292.27,178.75 L1292.73,179.88 L1293.18,181.06 L1293.64,182.28 L1294.09,183.56 L1294.55,184.88 L1295.00,186.25 L1295.45,187.67 L1295.91,189.13 L1296.36,190.64 L1296.82,192.19 L1297.27,193.79 L1297.73,195.43 L1298.18,197.11 L1298.64,198.83 L1299.09,200.60 L1299.55,202.40 L1300.00,204.25 L1300.45,206.13 L1300.91,208.06 L1301.36,210.02 L1301.82,212.03 L1302.27,214.07 L1302.73,216.14 L1303.18,218.25 L1303.64,220.40 L1304.09,222.58 L1304.55,224.80 L1305.00,227.05 L1305.45,229.34 L1305.91,231.65 L1306.36,234.00 L1306.82,236.38 L1307.27,238.79 L1307.73,241.23 L1308.18,243.70 L1308.64,246.20 L1309.09,248.73 L1309.55,251.28 L1310.00,253.87 L1310.45,256.48 L1310.91,259.11 L1311.36,261.77 L1311.82,264.46 L1312.27,267.17 L1312.73,269.90 L1313.18,272.66 L1313.64,275.44 L1314.09,278.24 L1314.55,281.06 L1315.00,283.90 L1315.45,286.76 L1315.91,289.65 L1316.36,292.55 L1316.82,295.46 L1317.27,298.40 L1317.73,301.36 L1318.18,304.33 L1318.64,307.31 L1319.09,310.31 L1319.55,313.33 L1320.00,316.36 L1320.45,319.40 L1320.91,322.46 L1321.36,325.53 L1321.82,328.61 L1322.27,331.70 L1322.73,334.80 L1323.18,337.91 L1323.64,341.04 L1324.09,344.18 L1324.55,347.32 L1325.00,350.48 L1325.45,353.65 L1325.91,356.82 L1326.36,360.01 L1326.82,363.21 L1327.27,366.41 L1327.73,369.63 L1328.18,372.85 L1328.64,376.09 L1329.09,379.33 L1329.55,382.58 L1330.00,385.84 L1330.45,389.11 L1330.91,392.38 L1331.36,395.67 L1331.82,398.96 L1332.27,402.26 L1332.73,405.56 L1333.18,408.88 L1333.64,412.20 L1334.09,415.52 L1334.55,418.85 L1335.00,422.19 L1335.45,425.54 L1335.91,428.89 L1336.36,432.25 L1336.82,435.61 L1337.27,438.98 L1337.73,442.35 L1338.18,445.73 L1338.64,449.11 L1339.09,452.50 L1339.55,455.89 L1340.00,459.29 L1340.45,462.69 L1340.91,466.09 L1341.36,469.50 L1341.82,472.91 L1342.27,476.32 L1342.73,479.74 L1343.18,483.16 L1343.64,486.59 L1344.09,490.01 L1344.55,493.44 L1345.00,496.87 L1345.45,500.30 L1345.91,503.74 L1346.36,507.17 L1346.82,510.61 L1347.27,514.05 L1347.73,517.49 L1348.18,520.93 L1348.64,524.37 L1349.09,527.81 L1349.55,531.25 L1350.00,534.69 L1350.45,538.14 L1350.91,541.58 L1351.36,545.02 L1351.82,548.46 L1352.27,551.90 L1352.73,555.34 L1353.18,558.78 L1353.64,562.21 L1354.09,565.65 L1354.55,569.08 L1355.00,572.51 L1355.45,575.94 L1355.91,579.37 L1356.36,582.79 L1356.82,586.21 L1357.27,589.63 L1357.73,593.05 L1358.18,596.46 L1358.64,599.87 L1359.09,603.27 L1359.55,606.67 L1360.00,610.07 L1360.45,613.46 L1360.91,616.85 L1361.36,620.24 L1361.82,623.62 L1362.27,626.99 L1362.73,630.36 L1363.18,633.72 L1363.64,637.08 L1364.09,640.43 L1364.55,643.78 L1365.00,647.12 L1365.45,650.46 L1365.91,653.78 L1366.36,657.11 L1366.82,660.42 L1367.27,663.73 L1367.73,667.03 L1368.18,670.32 L1368.64,673.61 L1369.09,676.89 L1369.55,680.16 L1370.00,683.42 L1370.45,686.67 L1370.91,689.92 L1371.36,693.15 L1371.82,696.38 L1372.27,699.60 L1372.73,702.81 L1373.18,706.01 L1373.64,709.20 L1374.09,712.38 L1374.55,715.55 L1375.00,718.71 L1375.45,721.86 L1375.91,725.00 L1376.36,728.12 L1376.82,731.24 L1377.27,734.35 L1377.73,737.44 L1378.18,740.53 L1378.64,743.60 L1379.09,746.66 L1379.55,749.71 L1380.00,752.74 L1380.45,755.76 L1380.91,758.77 L1381.36,761.77 L1381.82,764.76 L1382.27,767.73 L1382.73,770.69 L1383.18,773.63 L1383.64,776.56 L1384.09,779.48 L1384.55,782.38 L1385.00,785.27 L1385.45,788.14 L1385.91,791.00 L1386.36,793.85 L1386.82,796.68 L1387.27,799.49 L1387.73,802.29 L1388.18,805.08 L1388.64,807.85 L1389.09,810.61 L1389.55,813.35 L1390.00,816.08 L1390.45,818.80 L1390.91,821.50 L1391.36,824.19 L1391.82,826.86 L1392.27,829.52 L1392.73,832.17 L1393.18,834.80 L1393.64,837.43 L1394.09,840.03 L1394.55,842.63 L1395.00,845.21 L1395.45,847.78 L1395.91,850.34 L1396.36,852.88 L1396.82,855.41 L1397.27,857.93 L1397.73,860.44 L1398.18,862.93 L1398.64,865.42 L1399.09,867.89 L1399.55,870.35 L1400.00,872.79 L1400.45,875.23 L1400.91,877.65 L1401.36,880.06 L1401.82,882.46 L1402.27,884.85 L1402.73,887.23 L1403.18,889.60 L1403.64,891.96 L1404.09,894.30 L1404.55,896.64 L1405.00,898.96 L1405.45,901.27 L1405.91,903.58 L1406.36,905.87 L1406.82,908.15 L1407.27,910.42 L1407.73,912.69 L1408.18,914.94 L1408.64,917.18 L1409.09,919.41 L1409.55,921.64 L1410.00,923.85 L1410.45,926.05 L1410.91,928.25 L1411.36,930.43 L1411.82,932.61 L1412.27,934.78 L1412.73,936.93 L1413.18,939.08 L1413.64,941.22 L1414.09,943.36 L1414.55,945.48 L1415.00,947.59 L1415.45,949.70 L1415.91,951.80 L1416.36,953.89 L1416.82,955.97 L1417.27,958.05 L1417.73,960.11 L1418.18,962.17 L1418.64,964.22 L1419.09,966.26 L1419.55,968.30 L1420.00,970.33 L1420.45,972.35 L1420.91,974.37 L1421.36,976.37 L1421.82,978.37 L1422.27,980.37 L1422.73,982.35 L1423.18,984.33 L1423.64,986.31 L1424.09,988.27 L1424.55,990.24 L1425.00,992.19 L1425.45,994.14 L1425.91,996.08 L1426.36,998.02 L1426.82,999.95 L1427.27,1001.87 L1427.73,1003.79 L1428.18,1005.71 L1428.64,1007.62 L1429.09,1009.52 L1429.55,1011.42 L1430.00,1013.31 L1430.45,1015.20 L1430.91,1017.08 L1431.36,1018.96 L1431.82,1020.83 L1432.27,1022.70 L1432.73,1024.56 L1433.18,1026.42 L1433.64,1028.27 L1434.09,1030.11 L1434.55,1031.95 L1435.00,1033.79 L1435.45,1035.61 L1435.91,1037.43 L1436.36,1039.24 L1436.82,1041.05 L1437.27,1042.85 L1437.73,1044.64 L1438.18,1046.42 L1438.64,1048.20 L1439.09,1049.97 L1439.55,1051.73 L1440.00,1053.48 L1440.45,1055.22 L1440.91,1056.95 L1441.36,1058.68 L1441.82,1060.40 L1442.27,1062.10 L1442.73,1063.80 L1443.18,1065.49 L1443.64,1067.17 L1444.09,1068.84 L1444.55,1070.50 L1445.00,1072.15 L1445.45,1073.79 L1445.91,1075.42 L1446.36,1077.03 L1446.82,1078.64 L1447.27,1080.24 L1447.73,1081.82 L1448.18,1083.39 L1448.64,1084.96 L1449.09,1086.51 L1449.55,1088.04 L1450.00,1089.57 L1450.45,1091.08 L1450.91,1092.58 L1451.36,1094.07 L1451.82,1095.55 L1452.27,1097.01 L1452.73,1098.46 L1453.18,1099.90 L1453.64,1101.32 L1454.09,1102.73 L1454.55,1104.12 L1455.00,1105.50 L1455.45,1106.87 L1455.91,1108.22 L1456.36,1109.56 L1456.82,1110.89 L1457.27,1112.20 L1457.73,1113.49 L1458.18,1114.78 L1458.64,1116.04 L1459.09,1117.30 L1459.55,1118.54 L1460.00,1119.77 L1460.45,1120.99 L1460.91,1122.19 L1461.36,1123.38 L1461.82,1124.56 L1462.27,1125.73 L1462.73,1126.88 L1463.18,1128.02 L1463.64,1129.15 L1464.09,1130.27 L1464.55,1131.38 L1465.00,1132.47 L1465.45,1133.56 L1465.91,1134.63 L1466.36,1135.70 L1466.82,1136.75 L1467.27,1137.79 L1467.73,1138.82 L1468.18,1139.84 L1468.64,1140.85 L1469.09,1141.85 L1469.55,1142.84 L1470.00,1143.83 L1470.45,1144.80 L1470.91,1145.76 L1471.36,1146.71 L1471.82,1147.66 L1472.27,1148.60 L1472.73,1149.52 L1473.18,1150.44 L1473.64,1151.35 L1474.09,1152.26 L1474.55,1153.15 L1475.00,1154.04 L1475.45,1154.92 L1475.91,1155.79 L1476.36,1156.65 L1476.82,1157.51 L1477.27,1158.36 L1477.73,1159.20 L1478.18,1160.04 L1478.64,1160.87 L1479.09,1161.69 L1479.55,1162.51 L1480.00,1163.32 L1480.45,1164.12 L1480.91,1164.92 L1481.36,1165.72 L1481.82,1166.50 L1482.27,1167.29 L1482.73,1168.06 L1483.18,1168.84 L1483.64,1169.61 L1484.09,1170.37 L1484.55,1171.13 L1485.00,1171.88 L1485.45,1172.63 L1485.91,1173.38 L1486.36,1174.12 L1486.82,1174.86 L1487.27,1175.59 L1487.73,1176.33 L1488.18,1177.05 L1488.64,1177.78 L1489.09,1178.50 L1489.55,1179.22 L1490.00,1179.94 L1490.45,1180.65 L1490.91,1181.37 L1491.36,1182.08 L1491.82,1182.79 L1492.27,1183.49 L1492.73,1184.20 L1493.18,1184.90 L1493.64,1185.60 L1494.09,1186.30 L1494.55,1187.00 L1495.00,1187.70 L1495.45,1188.40 L1495.91,1189.10 L1496.36,1189.80 L1496.82,1190.49 L1497.27,1191.19 L1497.73,1191.89 L1498.18,1192.59 L1498.64,1193.28 L1499.09,1193.98 L1499.55,1194.68 L1500.00,1195.38 L1500.45,1196.08 L1500.91,1196.78 L1501.36,1197.49 L1501.82,1198.19 L1502.27,1198.90 L1502.73,1199.60 L1503.18,1200.30 L1503.64,1201.01 L1504.09,1201.72 L1504.55,1202.42 L1505.00,1203.13 L1505.45,1203.83 L1505.91,1204.54 L1506.36,1205.25 L1506.82,1205.95 L1507.27,1206.66 L1507.73,1207.37 L1508.18,1208.07 L1508.64,1208.78 L1509.09,1209.48 L1509.55,1210.18 L1510.00,1210.89 L1510.45,1211.59 L1510.91,1212.29 L1511.36,1212.99 L1511.82,1213.69 L1512.27,1214.39 L1512.73,1215.09 L1513.18,1215.79 L1513.64,1216.48 L1514.09,1217.18 L1514.55,1217.87 L1515.00,1218.56 L1515.45,1219.25 L1515.91,1219.94 L1516.36,1220.63 L1516.82,1221.31 L1517.27,1221.99 L1517.73,1222.68 L1518.18,1223.35 L1518.64,1224.03 L1519.09,1224.71 L1519.55,1225.38 L1520.00,1226.05 L1520.45,1226.72 L1520.91,1227.38 L1521.36,1228.05 L1521.82,1228.71 L1522.27,1229.37 L1522.73,1230.02 L1523.18,1230.68 L1523.64,1231.33 L1524.09,1231.97 L1524.55,1232.62 L1525.00,1233.26 L1525.45,1233.89 L1525.91,1234.53 L1526.36,1235.16 L1526.82,1235.79 L1527.27,1236.41 L1527.73,1237.03 L1528.18,1237.65 L1528.64,1238.26 L1529.09,1238.87 L1529.55,1239.48 L1530.00,1240.08 L1530.45,1240.68 L1530.91,1241.28 L1531.36,1241.87 L1531.82,1242.45 L1532.27,1243.03 L1532.73,1243.61 L1533.18,1244.18 L1533.64,1244.75 L1534.09,1245.32 L1534.55,1245.88 L1535.00,1246.43 L1535.45,1246.98 L1535.91,1247.52 L1536.36,1248.07 L1536.82,1248.60 L1537.27,1249.13 L1537.73,1249.65 L1538.18,1250.17 L1538.64,1250.69 L1539.09,1251.20 L1539.55,1251.70 L1540.00,1252.20 L1540.45,1252.69 L1540.91,1253.18 L1541.36,1253.66 L1541.82,1254.14 L1542.27,1254.60 L1542.73,1255.07 L1543.18,1255.53 L1543.64,1255.98 L1544.09,1256.42 L1544.55,1256.86 L1545.00,1257.29 L1545.45,1257.72 L1545.91,1258.14 L1546.36,1258.55 L1546.82,1258.96 L1547.27,1259.36 L1547.73,1259.75 L1548.18,1260.14 L1548.64,1260.52 L1549.09,1260.89 L1549.55,1261.25 L1550.00,1261.61 L1550.45,1261.96 L1550.91,1262.31 L1551.36,1262.64 L1551.82,1262.97 L1552.27,1263.29 L1552.73,1263.61 L1553.18,1263.91 L1553.64,1264.21 L1554.09,1264.50 L1554.55,1264.78 L1555.00,1265.06 L1555.45,1265.33 L1555.91,1265.58 L1556.36,1265.84 L1556.82,1266.08 L1557.27,1266.32 L1557.73,1266.55 L1558.18,1266.77 L1558.64,1266.98 L1559.09,1267.19 L1559.55,1267.39 L1560.00,1267.58 L1560.45,1267.77 L1560.91,1267.95 L1561.36,1268.12 L1561.82,1268.28 L1562.27,1268.44 L1562.73,1268.60 L1563.18,1268.74 L1563.64,1268.88 L1564.09,1269.02 L1564.55,1269.14 L1565.00,1269.26 L1565.45,1269.38 L1565.91,1269.49 L1566.36,1269.59 L1566.82,1269.69 L1567.27,1269.78 L1567.73,1269.87 L1568.18,1269.95 L1568.64,1270.03 L1569.09,1270.10 L1569.55,1270.16 L1570.00,1270.22 L1570.45,1270.28 L1570.91,1270.33 L1571.36,1270.38 L1571.82,1270.42 L1572.27,1270.45 L1572.73,1270.48 L1573.18,1270.51 L1573.64,1270.53 L1574.09,1270.55 L1574.55,1270.56 L1575.00,1270.57 L1575.45,1270.58 L1575.91,1270.58 L1576.36,1270.58 L1576.82,1270.57 L1577.27,1270.56 L1577.73,1270.55 L1578.18,1270.53 L1578.64,1270.51 L1579.09,1270.49 L1579.55,1270.46 L1580.00,1270.43 L1580.45,1270.39 L1580.91,1270.36 L1581.36,1270.32 L1581.82,1270.27 L1582.27,1270.23 L1582.73,1270.18 L1583.18,1270.13 L1583.64,1270.07 L1584.09,1270.02 L1584.55,1269.96 L1585.00,1269.90 L1585.45,1269.84 L1585.91,1269.77 L1586.36,1269.70 L1586.82,1269.63 L1587.27,1269.56 L1587.73,1269.49 L1588.18,1269.42 L1588.64,1269.34 L1589.09,1269.26 L1589.55,1269.18 L1590.00,1269.10 L1590.45,1269.02 L1590.91,1268.94 L1591.36,1268.85 L1591.82,1268.77 L1592.27,1268.68 L1592.73,1268.59 L1593.18,1268.51 L1593.64,1268.42 L1594.09,1268.33 L1594.55,1268.24 L1595.00,1268.15 L1595.45,1268.06 L1595.91,1267.97 L1596.36,1267.88 L1596.82,1267.79 L1597.27,1267.70 L1597.73,1267.61 L1598.18,1267.52 L1598.64,1267.42 L1599.09,1267.34 L1599.55,1267.25 L1600.00,1267.16 L1600.45,1267.07 L1600.91,1266.98 L1601.36,1266.89 L1601.82,1266.81 L1602.27,1266.72 L1602.73,1266.64 L1603.18,1266.56 L1603.64,1266.47 L1604.09,1266.39 L1604.55,1266.31 L1605.00,1266.24 L1605.45,1266.16 L1605.91,1266.09 L1606.36,1266.01 L1606.82,1265.94 L1607.27,1265.87 L1607.73,1265.81 L1608.18,1265.74 L1608.64,1265.68 L1609.09,1265.62 L1609.55,1265.56 L1610.00,1265.50 L1610.45,1265.45 L1610.91,1265.39 L1611.36,1265.34 L1611.82,1265.29 L1612.27,1265.24 L1612.73,1265.20 L1613.18,1265.15 L1613.64,1265.11 L1614.09,1265.07 L1614.55,1265.03 L1615.00,1264.99 L1615.45,1264.96 L1615.91,1264.92 L1616.36,1264.89 L1616.82,1264.86 L1617.27,1264.83 L1617.73,1264.80 L1618.18,1264.78 L1618.64,1264.75 L1619.09,1264.73 L1619.55,1264.71 L1620.00,1264.69 L1620.45,1264.67 L1620.91,1264.66 L1621.36,1264.64 L1621.82,1264.63 L1622.27,1264.62 L1622.73,1264.61 L1623.18,1264.60 L1623.64,1264.59 L1624.09,1264.58 L1624.55,1264.58 L1625.00,1264.57 L1625.45,1264.57 L1625.91,1264.57 L1626.36,1264.57 L1626.82,1264.57 L1627.27,1264.57 L1627.73,1264.57 L1628.18,1264.58 L1628.64,1264.58 L1629.09,1264.59 L1629.55,1264.60 L1630.00,1264.61 L1630.45,1264.62 L1630.91,1264.63 L1631.36,1264.64 L1631.82,1264.66 L1632.27,1264.67 L1632.73,1264.69 L1633.18,1264.70 L1633.64,1264.72 L1634.09,1264.74 L1634.55,1264.76 L1635.00,1264.78 L1635.45,1264.80 L1635.91,1264.82 L1636.36,1264.84 L1636.82,1264.87 L1637.27,1264.89 L1637.73,1264.92 L1638.18,1264.94 L1638.64,1264.97 L1639.09,1265.00 L1639.55,1265.03 L1640.00,1265.06 L1640.45,1265.09 L1640.91,1265.12 L1641.36,1265.15 L1641.82,1265.18 L1642.27,1265.21 L1642.73,1265.25 L1643.18,1265.28 L1643.64,1265.31 L1644.09,1265.35 L1644.55,1265.38 L1645.00,1265.42 L1645.45,1265.46 L1645.91,1265.49 L1646.36,1265.53 L1646.82,1265.57 L1647.27,1265.60 L1647.73,1265.64 L1648.18,1265.68 L1648.64,1265.72 L1649.09,1265.76 L1649.55,1265.80 L1650.00,1265.84 L1650.45,1265.88 L1650.91,1265.92 L1651.36,1265.96 L1651.82,1266.00 L1652.27,1266.05 L1652.73,1266.09 L1653.18,1266.13 L1653.64,1266.17 L1654.09,1266.21 L1654.55,1266.26 L1655.00,1266.30 L1655.45,1266.34 L1655.91,1266.38 L1656.36,1266.43 L1656.82,1266.47 L1657.27,1266.51 L1657.73,1266.55 L1658.18,1266.60 L1658.64,1266.64 L1659.09,1266.68 L1659.55,1266.72 L1660.00,1266.77 L1660.45,1266.81 L1660.91,1266.85 L1661.36,1266.89 L1661.82,1266.93 L1662.27,1266.98 L1662.73,1267.02 L1663.18,1267.06 L1663.64,1267.10 L1664.09,1267.14 L1664.55,1267.18 L1665.00,1267.22 L1665.45,1267.26 L1665.91,1267.30 L1666.36,1267.34 L1666.82,1267.38 L1667.27,1267.42 L1667.73,1267.45 L1668.18,1267.49 L1668.64,1267.53 L1669.09,1267.57 L1669.55,1267.60 L1670.00,1267.64 L1670.45,1267.67 L1670.91,1267.71 L1671.36,1267.74 L1671.82,1267.77 L1672.27,1267.81 L1672.73,1267.84 L1673.18,1267.87 L1673.64,1267.90 L1674.09,1267.93 L1674.55,1267.96 L1675.00,1267.99 L1675.45,1268.02 L1675.91,1268.05 L1676.36,1268.07 L1676.82,1268.10 L1677.27,1268.12 L1677.73,1268.15 L1678.18,1268.17 L1678.64,1268.20 L1679.09,1268.22 L1679.55,1268.24 L1680.00,1268.26 L1680.45,1268.28 L1680.91,1268.30 L1681.36,1268.31 L1681.82,1268.33 L1682.27,1268.34 L1682.73,1268.36 L1683.18,1268.37 L1683.64,1268.38 L1684.09,1268.40 L1684.55,1268.41 L1685.00,1268.41 L1685.45,1268.42 L1685.91,1268.43 L1686.36,1268.43 L1686.82,1268.44 L1687.27,1268.44 L1687.73,1268.44 L1688.18,1268.45 L1688.64,1268.44 L1689.09,1268.44 L1689.55,1268.44 L1690.00,1268.44 L1690.45,1268.43 L1690.91,1268.42 L1691.36,1268.41 L1691.82,1268.40 L1692.27,1268.39 L1692.73,1268.38 L1693.18,1268.37 L1693.64,1268.35 L1694.09,1268.33 L1694.55,1268.32 L1695.00,1268.30 L1695.45,1268.27 L1695.91,1268.25 L1696.36,1268.23 L1696.82,1268.20 L1697.27,1268.17 L1697.73,1268.14 L1698.18,1268.11 L1698.64,1268.08 L1699.09,1268.05 L1699.55,1268.01 L1700.00,1267.97 L1700.45,1267.93 L1700.91,1267.89 L1701.36,1267.85 L1701.82,1267.80 L1702.27,1267.76 L1702.73,1267.71 L1703.18,1267.66 L1703.64,1267.61 L1704.09,1267.55 L1704.55,1267.50 L1705.00,1267.44 L1705.45,1267.38 L1705.91,1267.32 L1706.36,1267.26 L1706.82,1267.19 L1707.27,1267.12 L1707.73,1267.05 L1708.18,1266.98 L1708.64,1266.91 L1709.09,1266.83 L1709.55,1266.75 L1710.00,1266.67 L1710.45,1266.59 L1710.91,1266.51 L1711.36,1266.42 L1711.82,1266.33 L1712.27,1266.24 L1712.73,1266.15" fill="none" stroke="#000000" stroke-width="9.4" stroke-linejoin="round" stroke-linecap="butt"/></g>
<rect x="284.75" y="1285.40" width="28.3" height="27.4" fill="#000"/>
<rect x="340.87" y="1284.60" width="28.3" height="27.4" fill="#000"/>
<rect x="399.71" y="1282.80" width="28.3" height="27.4" fill="#000"/>
<rect x="458.55" y="1280.80" width="28.3" height="27.4" fill="#000"/>
<rect x="517.39" y="1278.80" width="28.3" height="27.4" fill="#000"/>
<rect x="576.23" y="1277.00" width="28.3" height="27.4" fill="#000"/>
<rect x="635.07" y="1274.50" width="28.3" height="27.4" fill="#000"/>
<rect x="693.91" y="1272.00" width="28.3" height="27.4" fill="#000"/>
<rect x="752.75" y="1269.50" width="28.3" height="27.4" fill="#000"/>
<rect x="811.59" y="1266.50" width="28.3" height="27.4" fill="#000"/>
<rect x="870.43" y="1262.80" width="28.3" height="27.4" fill="#000"/>
<rect x="929.27" y="1258.30" width="28.3" height="27.4" fill="#000"/>
<rect x="988.11" y="1252.30" width="28.3" height="27.4" fill="#000"/>
<rect x="1046.95" y="1241.70" width="28.3" height="27.4" fill="#000"/>
<rect x="1105.79" y="1221.20" width="28.3" height="27.4" fill="#000"/>
<rect x="1165.45" y="1173.80" width="28.3" height="27.4" fill="#000"/>
<rect x="1216.85" y="1057.80" width="28.3" height="27.4" fill="#000"/>
<rect x="1282.65" y="789.50" width="28.3" height="27.4" fill="#000"/>
<rect x="1340.95" y="380.40" width="28.3" height="27.4" fill="#000"/>
<rect x="1400.85" y="152.30" width="28.3" height="27.4" fill="#000"/>
<rect x="1458.15" y="449.90" width="28.3" height="27.4" fill="#000"/>
<rect x="1517.55" y="816.30" width="28.3" height="27.4" fill="#000"/>
<rect x="1576.95" y="1064.70" width="28.3" height="27.4" fill="#000"/>
<rect x="1635.55" y="1176.80" width="28.3" height="27.4" fill="#000"/>
<rect x="1695.85" y="1253.10" width="28.3" height="27.4" fill="#000"/>
<rect x="1754.05" y="1253.00" width="28.3" height="27.4" fill="#000"/>
<rect x="1813.85" y="1253.00" width="28.3" height="27.4" fill="#000"/>
<rect x="1869.45" y="1253.00" width="28.3" height="27.4" fill="#000"/>
<g transform="scale(1.1,1)"><path d="M243.64,1285.04 L244.09,1285.03 L244.55,1285.02 L245.00,1285.01 L245.45,1285.00 L245.91,1284.99 L246.36,1284.98 L246.82,1284.97 L247.27,1284.96 L247.73,1284.95 L248.18,1284.95 L248.64,1284.94 L249.09,1284.93 L249.55,1284.92 L250.00,1284.91 L250.45,1284.90 L250.91,1284.89 L251.36,1284.88 L251.82,1284.87 L252.27,1284.86 L252.73,1284.85 L253.18,1284.84 L253.64,1284.83 L254.09,1284.82 L254.55,1284.81 L255.00,1284.80 L255.45,1284.79 L255.91,1284.79 L256.36,1284.78 L256.82,1284.77 L257.27,1284.76 L257.73,1284.75 L258.18,1284.74 L258.64,1284.73 L259.09,1284.72 L259.55,1284.71 L260.00,1284.70 L260.45,1284.69 L260.91,1284.68 L261.36,1284.68 L261.82,1284.67 L262.27,1284.66 L262.73,1284.65 L263.18,1284.64 L263.64,1284.63 L264.09,1284.62 L264.55,1284.61 L265.00,1284.60 L265.45,1284.59 L265.91,1284.59 L266.36,1284.58 L266.82,1284.57 L267.27,1284.56 L267.73,1284.55 L268.18,1284.54 L268.64,1284.53 L269.09,1284.52 L269.55,1284.51 L270.00,1284.51 L270.45,1284.50 L270.91,1284.49 L271.36,1284.48 L271.82,1284.47 L272.27,1284.46 L272.73,1284.45 L273.18,1284.44 L273.64,1284.44 L274.09,1284.43 L274.55,1284.42 L275.00,1284.41 L275.45,1284.40 L275.91,1284.39 L276.36,1284.38 L276.82,1284.37 L277.27,1284.37 L277.73,1284.36 L278.18,1284.35 L278.64,1284.34 L279.09,1284.33 L279.55,1284.32 L280.00,1284.31 L280.45,1284.31 L280.91,1284.30 L281.36,1284.29 L281.82,1284.28 L282.27,1284.27 L282.73,1284.26 L283.18,1284.26 L283.64,1284.25 L284.09,1284.24 L284.55,1284.23 L285.00,1284.22 L285.45,1284.21 L285.91,1284.21 L286.36,1284.20 L286.82,1284.19 L287.27,1284.18 L287.73,1284.17 L288.18,1284.16 L288.64,1284.16 L289.09,1284.15 L289.55,1284.14 L290.00,1284.13 L290.45,1284.12 L290.91,1284.11 L291.36,1284.11 L291.82,1284.10 L292.27,1284.09 L292.73,1284.08 L293.18,1284.07 L293.64,1284.06 L294.09,1284.06 L294.55,1284.05 L295.00,1284.04 L295.45,1284.03 L295.91,1284.02 L296.36,1284.02 L296.82,1284.01 L297.27,1284.00 L297.73,1283.99 L298.18,1283.98 L298.64,1283.98 L299.09,1283.97 L299.55,1283.96 L300.00,1283.95 L300.45,1283.94 L300.91,1283.94 L301.36,1283.93 L301.82,1283.92 L302.27,1283.91 L302.73,1283.90 L303.18,1283.90 L303.64,1283.89 L304.09,1283.88 L304.55,1283.87 L305.00,1283.86 L305.45,1283.86 L305.91,1283.85 L306.36,1283.84 L306.82,1283.83 L307.27,1283.82 L307.73,1283.82 L308.18,1283.81 L308.64,1283.80 L309.09,1283.79 L309.55,1283.79 L310.00,1283.78 L310.45,1283.77 L310.91,1283.76 L311.36,1283.75 L311.82,1283.75 L312.27,1283.74 L312.73,1283.73 L313.18,1283.72 L313.64,1283.71 L314.09,1283.71 L314.55,1283.70 L315.00,1283.69 L315.45,1283.68 L315.91,1283.68 L316.36,1283.67 L316.82,1283.66 L317.27,1283.65 L317.73,1283.65 L318.18,1283.64 L318.64,1283.63 L319.09,1283.62 L319.55,1283.61 L320.00,1283.61 L320.45,1283.60 L320.91,1283.59 L321.36,1283.58 L321.82,1283.58 L322.27,1283.57 L322.73,1283.56 L323.18,1283.55 L323.64,1283.55 L324.09,1283.54 L324.55,1283.53 L325.00,1283.52 L325.45,1283.52 L325.91,1283.51 L326.36,1283.50 L326.82,1283.49 L327.27,1283.49 L327.73,1283.48 L328.18,1283.47 L328.64,1283.46 L329.09,1283.46 L329.55,1283.45 L330.00,1283.44 L330.45,1283.43 L330.91,1283.43 L331.36,1283.42 L331.82,1283.41 L332.27,1283.40 L332.73,1283.40 L333.18,1283.39 L333.64,1283.38 L334.09,1283.37 L334.55,1283.37 L335.00,1283.36 L335.45,1283.35 L335.91,1283.34 L336.36,1283.34 L336.82,1283.33 L337.27,1283.32 L337.73,1283.31 L338.18,1283.31 L338.64,1283.30 L339.09,1283.29 L339.55,1283.28 L340.00,1283.28 L340.45,1283.27 L340.91,1283.26 L341.36,1283.25 L341.82,1283.25 L342.27,1283.24 L342.73,1283.23 L343.18,1283.22 L343.64,1283.22 L344.09,1283.21 L344.55,1283.20 L345.00,1283.19 L345.45,1283.19 L345.91,1283.18 L346.36,1283.17 L346.82,1283.17 L347.27,1283.16 L347.73,1283.15 L348.18,1283.14 L348.64,1283.14 L349.09,1283.13 L349.55,1283.12 L350.00,1283.11 L350.45,1283.11 L350.91,1283.10 L351.36,1283.09 L351.82,1283.08 L352.27,1283.08 L352.73,1283.07 L353.18,1283.06 L353.64,1283.06 L354.09,1283.05 L354.55,1283.04 L355.00,1283.03 L355.45,1283.03 L355.91,1283.02 L356.36,1283.01 L356.82,1283.00 L357.27,1283.00 L357.73,1282.99 L358.18,1282.98 L358.64,1282.97 L359.09,1282.97 L359.55,1282.96 L360.00,1282.95 L360.45,1282.95 L360.91,1282.94 L361.36,1282.93 L361.82,1282.92 L362.27,1282.92 L362.73,1282.91 L363.18,1282.90 L363.64,1282.89 L364.09,1282.89 L364.55,1282.88 L365.00,1282.87 L365.45,1282.87 L365.91,1282.86 L366.36,1282.85 L366.82,1282.84 L367.27,1282.84 L367.73,1282.83 L368.18,1282.82 L368.64,1282.81 L369.09,1282.81 L369.55,1282.80 L370.00,1282.79 L370.45,1282.79 L370.91,1282.78 L371.36,1282.77 L371.82,1282.76 L372.27,1282.76 L372.73,1282.75 L373.18,1282.74 L373.64,1282.73 L374.09,1282.73 L374.55,1282.72 L375.00,1282.71 L375.45,1282.71 L375.91,1282.70 L376.36,1282.69 L376.82,1282.68 L377.27,1282.68 L377.73,1282.67 L378.18,1282.66 L378.64,1282.65 L379.09,1282.65 L379.55,1282.64 L380.00,1282.63 L380.45,1282.63 L380.91,1282.62 L381.36,1282.61 L381.82,1282.60 L382.27,1282.60 L382.73,1282.59 L383.18,1282.58 L383.64,1282.57 L384.09,1282.57 L384.55,1282.56 L385.00,1282.55 L385.45,1282.55 L385.91,1282.54 L386.36,1282.53 L386.82,1282.52 L387.27,1282.52 L387.73,1282.51 L388.18,1282.50 L388.64,1282.49 L389.09,1282.49 L389.55,1282.48 L390.00,1282.47 L390.45,1282.46 L390.91,1282.46 L391.36,1282.45 L391.82,1282.44 L392.27,1282.44 L392.73,1282.43 L393.18,1282.42 L393.64,1282.41 L394.09,1282.41 L394.55,1282.40 L395.00,1282.39 L395.45,1282.38 L395.91,1282.38 L396.36,1282.37 L396.82,1282.36 L397.27,1282.35 L397.73,1282.35 L398.18,1282.34 L398.64,1282.33 L399.09,1282.32 L399.55,1282.32 L400.00,1282.31 L400.45,1282.30 L400.91,1282.29 L401.36,1282.29 L401.82,1282.28 L402.27,1282.27 L402.73,1282.27 L403.18,1282.26 L403.64,1282.25 L404.09,1282.24 L404.55,1282.24 L405.00,1282.23 L405.45,1282.22 L405.91,1282.21 L406.36,1282.21 L406.82,1282.20 L407.27,1282.19 L407.73,1282.18 L408.18,1282.18 L408.64,1282.17 L409.09,1282.16 L409.55,1282.15 L410.00,1282.15 L410.45,1282.14 L410.91,1282.13 L411.36,1282.12 L411.82,1282.12 L412.27,1282.11 L412.73,1282.10 L413.18,1282.09 L413.64,1282.09 L414.09,1282.08 L414.55,1282.07 L415.00,1282.06 L415.45,1282.05 L415.91,1282.05 L416.36,1282.04 L416.82,1282.03 L417.27,1282.02 L417.73,1282.02 L418.18,1282.01 L418.64,1282.00 L419.09,1281.99 L419.55,1281.99 L420.00,1281.98 L420.45,1281.97 L420.91,1281.96 L421.36,1281.96 L421.82,1281.95 L422.27,1281.94 L422.73,1281.93 L423.18,1281.92 L423.64,1281.92 L424.09,1281.91 L424.55,1281.90 L425.00,1281.89 L425.45,1281.89 L425.91,1281.88 L426.36,1281.87 L426.82,1281.86 L427.27,1281.86 L427.73,1281.85 L428.18,1281.84 L428.64,1281.83 L429.09,1281.82 L429.55,1281.82 L430.00,1281.81 L430.45,1281.80 L430.91,1281.79 L431.36,1281.78 L431.82,1281.78 L432.27,1281.77 L432.73,1281.76 L433.18,1281.75 L433.64,1281.75 L434.09,1281.74 L434.55,1281.73 L435.00,1281.72 L435.45,1281.71 L435.91,1281.71 L436.36,1281.70 L436.82,1281.69 L437.27,1281.68 L437.73,1281.67 L438.18,1281.67 L438.64,1281.66 L439.09,1281.65 L439.55,1281.64 L440.00,1281.63 L440.45,1281.63 L440.91,1281.62 L441.36,1281.61 L441.82,1281.60 L442.27,1281.59 L442.73,1281.59 L443.18,1281.58 L443.64,1281.57 L444.09,1281.56 L444.55,1281.55 L445.00,1281.55 L445.45,1281.54 L445.91,1281.53 L446.36,1281.52 L446.82,1281.51 L447.27,1281.50 L447.73,1281.50 L448.18,1281.49 L448.64,1281.48 L449.09,1281.47 L449.55,1281.46 L450.00,1281.46 L450.45,1281.45 L450.91,1281.44 L451.36,1281.43 L451.82,1281.42 L452.27,1281.41 L452.73,1281.41 L453.18,1281.40 L453.64,1281.39 L454.09,1281.38 L454.55,1281.37 L455.00,1281.36 L455.45,1281.36 L455.91,1281.35 L456.36,1281.34 L456.82,1281.33 L457.27,1281.32 L457.73,1281.31 L458.18,1281.30 L458.64,1281.30 L459.09,1281.29 L459.55,1281.28 L460.00,1281.27 L460.45,1281.26 L460.91,1281.25 L461.36,1281.24 L461.82,1281.24 L462.27,1281.23 L462.73,1281.22 L463.18,1281.21 L463.64,1281.20 L464.09,1281.19 L464.55,1281.18 L465.00,1281.18 L465.45,1281.17 L465.91,1281.16 L466.36,1281.15 L466.82,1281.14 L467.27,1281.13 L467.73,1281.12 L468.18,1281.12 L468.64,1281.11 L469.09,1281.10 L469.55,1281.09 L470.00,1281.08 L470.45,1281.07 L470.91,1281.06 L471.36,1281.05 L471.82,1281.04 L472.27,1281.04 L472.73,1281.03 L473.18,1281.02 L473.64,1281.01 L474.09,1281.00 L474.55,1280.99 L475.00,1280.98 L475.45,1280.97 L475.91,1280.96 L476.36,1280.96 L476.82,1280.95 L477.27,1280.94 L477.73,1280.93 L478.18,1280.92 L478.64,1280.91 L479.09,1280.90 L479.55,1280.89 L480.00,1280.88 L480.45,1280.87 L480.91,1280.86 L481.36,1280.86 L481.82,1280.85 L482.27,1280.84 L482.73,1280.83 L483.18,1280.82 L483.64,1280.81 L484.09,1280.80 L484.55,1280.79 L485.00,1280.78 L485.45,1280.77 L485.91,1280.76 L486.36,1280.75 L486.82,1280.74 L487.27,1280.73 L487.73,1280.73 L488.18,1280.72 L488.64,1280.71 L489.09,1280.70 L489.55,1280.69 L490.00,1280.68 L490.45,1280.67 L490.91,1280.66 L491.36,1280.65 L491.82,1280.64 L492.27,1280.63 L492.73,1280.62 L493.18,1280.61 L493.64,1280.60 L494.09,1280.59 L494.55,1280.58 L495.00,1280.57 L495.45,1280.56 L495.91,1280.55 L496.36,1280.54 L496.82,1280.53 L497.27,1280.52 L497.73,1280.51 L498.18,1280.50 L498.64,1280.49 L499.09,1280.49 L499.55,1280.48 L500.00,1280.47 L500.45,1280.46 L500.91,1280.45 L501.36,1280.44 L501.82,1280.43 L502.27,1280.42 L502.73,1280.41 L503.18,1280.40 L503.64,1280.39 L504.09,1280.38 L504.55,1280.37 L505.00,1280.36 L505.45,1280.35 L505.91,1280.34 L506.36,1280.33 L506.82,1280.32 L507.27,1280.31 L507.73,1280.29 L508.18,1280.28 L508.64,1280.27 L509.09,1280.26 L509.55,1280.25 L510.00,1280.24 L510.45,1280.23 L510.91,1280.22 L511.36,1280.21 L511.82,1280.20 L512.27,1280.19 L512.73,1280.18 L513.18,1280.17 L513.64,1280.16 L514.09,1280.15 L514.55,1280.14 L515.00,1280.13 L515.45,1280.12 L515.91,1280.11 L516.36,1280.10 L516.82,1280.09 L517.27,1280.08 L517.73,1280.07 L518.18,1280.06 L518.64,1280.04 L519.09,1280.03 L519.55,1280.02 L520.00,1280.01 L520.45,1280.00 L520.91,1279.99 L521.36,1279.98 L521.82,1279.97 L522.27,1279.96 L522.73,1279.95 L523.18,1279.94 L523.64,1279.93 L524.09,1279.92 L524.55,1279.90 L525.00,1279.89 L525.45,1279.88 L525.91,1279.87 L526.36,1279.86 L526.82,1279.85 L527.27,1279.84 L527.73,1279.83 L528.18,1279.82 L528.64,1279.81 L529.09,1279.79 L529.55,1279.78 L530.00,1279.77 L530.45,1279.76 L530.91,1279.75 L531.36,1279.74 L531.82,1279.73 L532.27,1279.72 L532.73,1279.70 L533.18,1279.69 L533.64,1279.68 L534.09,1279.67 L534.55,1279.66 L535.00,1279.65 L535.45,1279.64 L535.91,1279.62 L536.36,1279.61 L536.82,1279.60 L537.27,1279.59 L537.73,1279.58 L538.18,1279.57 L538.64,1279.55 L539.09,1279.54 L539.55,1279.53 L540.00,1279.52 L540.45,1279.51 L540.91,1279.50 L541.36,1279.48 L541.82,1279.47 L542.27,1279.46 L542.73,1279.45 L543.18,1279.44 L543.64,1279.43 L544.09,1279.41 L544.55,1279.40 L545.00,1279.39 L545.45,1279.38 L545.91,1279.37 L546.36,1279.35 L546.82,1279.34 L547.27,1279.33 L547.73,1279.32 L548.18,1279.30 L548.64,1279.29 L549.09,1279.28 L549.55,1279.27 L550.00,1279.26 L550.45,1279.24 L550.91,1279.23 L551.36,1279.22 L551.82,1279.21 L552.27,1279.19 L552.73,1279.18 L553.18,1279.17 L553.64,1279.16 L554.09,1279.14 L554.55,1279.13 L555.00,1279.12 L555.45,1279.11 L555.91,1279.09 L556.36,1279.08 L556.82,1279.07 L557.27,1279.06 L557.73,1279.04 L558.18,1279.03 L558.64,1279.02 L559.09,1279.01 L559.55,1278.99 L560.00,1278.98 L560.45,1278.97 L560.91,1278.95 L561.36,1278.94 L561.82,1278.93 L562.27,1278.92 L562.73,1278.90 L563.18,1278.89 L563.64,1278.88 L564.09,1278.86 L564.55,1278.85 L565.00,1278.84 L565.45,1278.82 L565.91,1278.81 L566.36,1278.80 L566.82,1278.79 L567.27,1278.77 L567.73,1278.76 L568.18,1278.75 L568.64,1278.73 L569.09,1278.72 L569.55,1278.71 L570.00,1278.69 L570.45,1278.68 L570.91,1278.67 L571.36,1278.65 L571.82,1278.64 L572.27,1278.62 L572.73,1278.61 L573.18,1278.60 L573.64,1278.58 L574.09,1278.57 L574.55,1278.56 L575.00,1278.54 L575.45,1278.53 L575.91,1278.52 L576.36,1278.50 L576.82,1278.49 L577.27,1278.47 L577.73,1278.46 L578.18,1278.45 L578.64,1278.43 L579.09,1278.42 L579.55,1278.40 L580.00,1278.39 L580.45,1278.38 L580.91,1278.36 L581.36,1278.35 L581.82,1278.33 L582.27,1278.32 L582.73,1278.31 L583.18,1278.29 L583.64,1278.28 L584.09,1278.26 L584.55,1278.25 L585.00,1278.23 L585.45,1278.22 L585.91,1278.21 L586.36,1278.19 L586.82,1278.18 L587.27,1278.16 L587.73,1278.15 L588.18,1278.13 L588.64,1278.12 L589.09,1278.10 L589.55,1278.09 L590.00,1278.07 L590.45,1278.06 L590.91,1278.04 L591.36,1278.03 L591.82,1278.02 L592.27,1278.00 L592.73,1277.99 L593.18,1277.97 L593.64,1277.96 L594.09,1277.94 L594.55,1277.93 L595.00,1277.91 L595.45,1277.90 L595.91,1277.88 L596.36,1277.87 L596.82,1277.85 L597.27,1277.84 L597.73,1277.82 L598.18,1277.80 L598.64,1277.79 L599.09,1277.77 L599.55,1277.76 L600.00,1277.74 L600.45,1277.73 L600.91,1277.71 L601.36,1277.70 L601.82,1277.68 L602.27,1277.67 L602.73,1277.65 L603.18,1277.63 L603.64,1277.62 L604.09,1277.60 L604.55,1277.59 L605.00,1277.57 L605.45,1277.56 L605.91,1277.54 L606.36,1277.52 L606.82,1277.51 L607.27,1277.49 L607.73,1277.48 L608.18,1277.46 L608.64,1277.45 L609.09,1277.43 L609.55,1277.41 L610.00,1277.40 L610.45,1277.38 L610.91,1277.36 L611.36,1277.35 L611.82,1277.33 L612.27,1277.32 L612.73,1277.30 L613.18,1277.28 L613.64,1277.27 L614.09,1277.25 L614.55,1277.23 L615.00,1277.22 L615.45,1277.20 L615.91,1277.18 L616.36,1277.17 L616.82,1277.15 L617.27,1277.13 L617.73,1277.12 L618.18,1277.10 L618.64,1277.08 L619.09,1277.07 L619.55,1277.05 L620.00,1277.03 L620.45,1277.02 L620.91,1277.00 L621.36,1276.98 L621.82,1276.97 L622.27,1276.95 L622.73,1276.93 L623.18,1276.92 L623.64,1276.90 L624.09,1276.88 L624.55,1276.86 L625.00,1276.85 L625.45,1276.83 L625.91,1276.81 L626.36,1276.79 L626.82,1276.78 L627.27,1276.76 L627.73,1276.74 L628.18,1276.73 L628.64,1276.71 L629.09,1276.69 L629.55,1276.67 L630.00,1276.65 L630.45,1276.64 L630.91,1276.62 L631.36,1276.60 L631.82,1276.58 L632.27,1276.57 L632.73,1276.55 L633.18,1276.53 L633.64,1276.51 L634.09,1276.49 L634.55,1276.48 L635.00,1276.46 L635.45,1276.44 L635.91,1276.42 L636.36,1276.40 L636.82,1276.39 L637.27,1276.37 L637.73,1276.35 L638.18,1276.33 L638.64,1276.31 L639.09,1276.29 L639.55,1276.28 L640.00,1276.26 L640.45,1276.24 L640.91,1276.22 L641.36,1276.20 L641.82,1276.18 L642.27,1276.17 L642.73,1276.15 L643.18,1276.13 L643.64,1276.11 L644.09,1276.09 L644.55,1276.07 L645.00,1276.05 L645.45,1276.03 L645.91,1276.01 L646.36,1276.00 L646.82,1275.98 L647.27,1275.96 L647.73,1275.94 L648.18,1275.92 L648.64,1275.90 L649.09,1275.88 L649.55,1275.86 L650.00,1275.84 L650.45,1275.82 L650.91,1275.80 L651.36,1275.78 L651.82,1275.77 L652.27,1275.75 L652.73,1275.73 L653.18,1275.71 L653.64,1275.69 L654.09,1275.67 L654.55,1275.65 L655.00,1275.63 L655.45,1275.61 L655.91,1275.59 L656.36,1275.57 L656.82,1275.55 L657.27,1275.53 L657.73,1275.51 L658.18,1275.49 L658.64,1275.47 L659.09,1275.45 L659.55,1275.43 L660.00,1275.41 L660.45,1275.39 L660.91,1275.37 L661.36,1275.35 L661.82,1275.33 L662.27,1275.31 L662.73,1275.29 L663.18,1275.27 L663.64,1275.25 L664.09,1275.23 L664.55,1275.20 L665.00,1275.18 L665.45,1275.16 L665.91,1275.14 L666.36,1275.12 L666.82,1275.10 L667.27,1275.08 L667.73,1275.06 L668.18,1275.04 L668.64,1275.02 L669.09,1275.00 L669.55,1274.98 L670.00,1274.95 L670.45,1274.93 L670.91,1274.91 L671.36,1274.89 L671.82,1274.87 L672.27,1274.85 L672.73,1274.83 L673.18,1274.81 L673.64,1274.78 L674.09,1274.76 L674.55,1274.74 L675.00,1274.72 L675.45,1274.70 L675.91,1274.68 L676.36,1274.66 L676.82,1274.63 L677.27,1274.61 L677.73,1274.59 L678.18,1274.57 L678.64,1274.55 L679.09,1274.52 L679.55,1274.50 L680.00,1274.48 L680.45,1274.46 L680.91,1274.44 L681.36,1274.41 L681.82,1274.39 L682.27,1274.37 L682.73,1274.35 L683.18,1274.33 L683.64,1274.30 L684.09,1274.28 L684.55,1274.26 L685.00,1274.24 L685.45,1274.21 L685.91,1274.19 L686.36,1274.17 L686.82,1274.15 L687.27,1274.12 L687.73,1274.10 L688.18,1274.08 L688.64,1274.05 L689.09,1274.03 L689.55,1274.01 L690.00,1273.99 L690.45,1273.96 L690.91,1273.94 L691.36,1273.92 L691.82,1273.89 L692.27,1273.87 L692.73,1273.85 L693.18,1273.82 L693.64,1273.80 L694.09,1273.78 L694.55,1273.75 L695.00,1273.73 L695.45,1273.71 L695.91,1273.68 L696.36,1273.66 L696.82,1273.64 L697.27,1273.61 L697.73,1273.59 L698.18,1273.56 L698.64,1273.54 L699.09,1273.52 L699.55,1273.49 L700.00,1273.47 L700.45,1273.45 L700.91,1273.42 L701.36,1273.40 L701.82,1273.37 L702.27,1273.35 L702.73,1273.32 L703.18,1273.30 L703.64,1273.28 L704.09,1273.25 L704.55,1273.23 L705.00,1273.20 L705.45,1273.18 L705.91,1273.15 L706.36,1273.13 L706.82,1273.10 L707.27,1273.08 L707.73,1273.05 L708.18,1273.03 L708.64,1273.01 L709.09,1272.98 L709.55,1272.96 L710.00,1272.93 L710.45,1272.91 L710.91,1272.88 L711.36,1272.86 L711.82,1272.83 L712.27,1272.80 L712.73,1272.78 L713.18,1272.75 L713.64,1272.73 L714.09,1272.70 L714.55,1272.68 L715.00,1272.65 L715.45,1272.63 L715.91,1272.60 L716.36,1272.58 L716.82,1272.55 L717.27,1272.52 L717.73,1272.50 L718.18,1272.47 L718.64,1272.45 L719.09,1272.42 L719.55,1272.39 L720.00,1272.37 L720.45,1272.34 L720.91,1272.32 L721.36,1272.29 L721.82,1272.26 L722.27,1272.24 L722.73,1272.21 L723.18,1272.19 L723.64,1272.16 L724.09,1272.13 L724.55,1272.11 L725.00,1272.08 L725.45,1272.05 L725.91,1272.03 L726.36,1272.00 L726.82,1271.97 L727.27,1271.95 L727.73,1271.92 L728.18,1271.89 L728.64,1271.86 L729.09,1271.84 L729.55,1271.81 L730.00,1271.78 L730.45,1271.76 L730.91,1271.73 L731.36,1271.70 L731.82,1271.67 L732.27,1271.65 L732.73,1271.62 L733.18,1271.59 L733.64,1271.56 L734.09,1271.54 L734.55,1271.51 L735.00,1271.48 L735.45,1271.45 L735.91,1271.43 L736.36,1271.40 L736.82,1271.37 L737.27,1271.34 L737.73,1271.31 L738.18,1271.29 L738.64,1271.26 L739.09,1271.23 L739.55,1271.20 L740.00,1271.17 L740.45,1271.15 L740.91,1271.12 L741.36,1271.09 L741.82,1271.06 L742.27,1271.03 L742.73,1271.00 L743.18,1270.97 L743.64,1270.95 L744.09,1270.92 L744.55,1270.89 L745.00,1270.86 L745.45,1270.83 L745.91,1270.80 L746.36,1270.77 L746.82,1270.74 L747.27,1270.71 L747.73,1270.68 L748.18,1270.65 L748.64,1270.63 L749.09,1270.60 L749.55,1270.57 L750.00,1270.54 L750.45,1270.51 L750.91,1270.48 L751.36,1270.45 L751.82,1270.42 L752.27,1270.39 L752.73,1270.36 L753.18,1270.33 L753.64,1270.30 L754.09,1270.27 L754.55,1270.24 L755.00,1270.21 L755.45,1270.18 L755.91,1270.15 L756.36,1270.12 L756.82,1270.09 L757.27,1270.06 L757.73,1270.03 L758.18,1270.00 L758.64,1269.96 L759.09,1269.93 L759.55,1269.90 L760.00,1269.87 L760.45,1269.84 L760.91,1269.81 L761.36,1269.78 L761.82,1269.75 L762.27,1269.72 L762.73,1269.69 L763.18,1269.65 L763.64,1269.62 L764.09,1269.59 L764.55,1269.56 L765.00,1269.53 L765.45,1269.50 L765.91,1269.47 L766.36,1269.43 L766.82,1269.40 L767.27,1269.37 L767.73,1269.34 L768.18,1269.31 L768.64,1269.27 L769.09,1269.24 L769.55,1269.21 L770.00,1269.18 L770.45,1269.14 L770.91,1269.11 L771.36,1269.08 L771.82,1269.05 L772.27,1269.01 L772.73,1268.98 L773.18,1268.95 L773.64,1268.92 L774.09,1268.88 L774.55,1268.85 L775.00,1268.82 L775.45,1268.78 L775.91,1268.75 L776.36,1268.72 L776.82,1268.68 L777.27,1268.65 L777.73,1268.62 L778.18,1268.58 L778.64,1268.55 L779.09,1268.52 L779.55,1268.48 L780.00,1268.45 L780.45,1268.42 L780.91,1268.38 L781.36,1268.35 L781.82,1268.31 L782.27,1268.28 L782.73,1268.25 L783.18,1268.21 L783.64,1268.18 L784.09,1268.14 L784.55,1268.11 L785.00,1268.07 L785.45,1268.04 L785.91,1268.00 L786.36,1267.97 L786.82,1267.93 L787.27,1267.90 L787.73,1267.86 L788.18,1267.83 L788.64,1267.79 L789.09,1267.76 L789.55,1267.72 L790.00,1267.69 L790.45,1267.65 L790.91,1267.62 L791.36,1267.58 L791.82,1267.55 L792.27,1267.51 L792.73,1267.47 L793.18,1267.44 L793.64,1267.40 L794.09,1267.37 L794.55,1267.33 L795.00,1267.29 L795.45,1267.26 L795.91,1267.22 L796.36,1267.19 L796.82,1267.15 L797.27,1267.11 L797.73,1267.08 L798.18,1267.04 L798.64,1267.00 L799.09,1266.97 L799.55,1266.93 L800.00,1266.89 L800.45,1266.85 L800.91,1266.82 L801.36,1266.78 L801.82,1266.74 L802.27,1266.71 L802.73,1266.67 L803.18,1266.63 L803.64,1266.59 L804.09,1266.55 L804.55,1266.52 L805.00,1266.48 L805.45,1266.44 L805.91,1266.40 L806.36,1266.37 L806.82,1266.33 L807.27,1266.29 L807.73,1266.25 L808.18,1266.21 L808.64,1266.17 L809.09,1266.13 L809.55,1266.10 L810.00,1266.06 L810.45,1266.02 L810.91,1265.98 L811.36,1265.94 L811.82,1265.90 L812.27,1265.86 L812.73,1265.82 L813.18,1265.78 L813.64,1265.74 L814.09,1265.70 L814.55,1265.66 L815.00,1265.63 L815.45,1265.59 L815.91,1265.55 L816.36,1265.51 L816.82,1265.47 L817.27,1265.43 L817.73,1265.39 L818.18,1265.34 L818.64,1265.30 L819.09,1265.26 L819.55,1265.22 L820.00,1265.18 L820.45,1265.14 L820.91,1265.10 L821.36,1265.06 L821.82,1265.02 L822.27,1264.98 L822.73,1264.94 L823.18,1264.90 L823.64,1264.85 L824.09,1264.81 L824.55,1264.77 L825.00,1264.73 L825.45,1264.69 L825.91,1264.65 L826.36,1264.61 L826.82,1264.56 L827.27,1264.52 L827.73,1264.48 L828.18,1264.44 L828.64,1264.39 L829.09,1264.35 L829.55,1264.31 L830.00,1264.27 L830.45,1264.22 L830.91,1264.18 L831.36,1264.14 L831.82,1264.10 L832.27,1264.05 L832.73,1264.01 L833.18,1263.97 L833.64,1263.92 L834.09,1263.88 L834.55,1263.84 L835.00,1263.79 L835.45,1263.75 L835.91,1263.71 L836.36,1263.66 L836.82,1263.62 L837.27,1263.57 L837.73,1263.53 L838.18,1263.49 L838.64,1263.44 L839.09,1263.40 L839.55,1263.35 L840.00,1263.31 L840.45,1263.26 L840.91,1263.22 L841.36,1263.17 L841.82,1263.13 L842.27,1263.08 L842.73,1263.04 L843.18,1262.99 L843.64,1262.95 L844.09,1262.90 L844.55,1262.86 L845.00,1262.81 L845.45,1262.77 L845.91,1262.72 L846.36,1262.67 L846.82,1262.63 L847.27,1262.58 L847.73,1262.54 L848.18,1262.49 L848.64,1262.44 L849.09,1262.40 L849.55,1262.35 L850.00,1262.30 L850.45,1262.26 L850.91,1262.21 L851.36,1262.16 L851.82,1262.12 L852.27,1262.07 L852.73,1262.02 L853.18,1261.98 L853.64,1261.93 L854.09,1261.88 L854.55,1261.83 L855.00,1261.78 L855.45,1261.74 L855.91,1261.69 L856.36,1261.64 L856.82,1261.59 L857.27,1261.54 L857.73,1261.50 L858.18,1261.45 L858.64,1261.40 L859.09,1261.35 L859.55,1261.30 L860.00,1261.25 L860.45,1261.20 L860.91,1261.16 L861.36,1261.11 L861.82,1261.06 L862.27,1261.01 L862.73,1260.96 L863.18,1260.91 L863.64,1260.86 L864.09,1260.81 L864.55,1260.76 L865.00,1260.71 L865.45,1260.66 L865.91,1260.61 L866.36,1260.56 L866.82,1260.51 L867.27,1260.46 L867.73,1260.41 L868.18,1260.36 L868.64,1260.31 L869.09,1260.26 L869.55,1260.20 L870.00,1260.15 L870.45,1260.10 L870.91,1260.05 L871.36,1260.00 L871.82,1259.95 L872.27,1259.90 L872.73,1259.84 L873.18,1259.79 L873.64,1259.74 L874.09,1259.69 L874.55,1259.64 L875.00,1259.58 L875.45,1259.53 L875.91,1259.48 L876.36,1259.43 L876.82,1259.37 L877.27,1259.32 L877.73,1259.27 L878.18,1259.22 L878.64,1259.16 L879.09,1259.11 L879.55,1259.06 L880.00,1259.00 L880.45,1258.95 L880.91,1258.90 L881.36,1258.84 L881.82,1258.79 L882.27,1258.73 L882.73,1258.68 L883.18,1258.63 L883.64,1258.57 L884.09,1258.52 L884.55,1258.46 L885.00,1258.41 L885.45,1258.35 L885.91,1258.30 L886.36,1258.24 L886.82,1258.19 L887.27,1258.13 L887.73,1258.08 L888.18,1258.02 L888.64,1257.97 L889.09,1257.91 L889.55,1257.85 L890.00,1257.80 L890.45,1257.74 L890.91,1257.69 L891.36,1257.63 L891.82,1257.57 L892.27,1257.52 L892.73,1257.46 L893.18,1257.40 L893.64,1257.35 L894.09,1257.29 L894.55,1257.23 L895.00,1257.17 L895.45,1257.11 L895.91,1257.06 L896.36,1257.00 L896.82,1256.94 L897.27,1256.88 L897.73,1256.82 L898.18,1256.76 L898.64,1256.70 L899.09,1256.64 L899.55,1256.59 L900.00,1256.53 L900.45,1256.47 L900.91,1256.41 L901.36,1256.34 L901.82,1256.28 L902.27,1256.22 L902.73,1256.16 L903.18,1256.10 L903.64,1256.04 L904.09,1255.98 L904.55,1255.92 L905.00,1255.85 L905.45,1255.79 L905.91,1255.73 L906.36,1255.67 L906.82,1255.60 L907.27,1255.54 L907.73,1255.48 L908.18,1255.41 L908.64,1255.35 L909.09,1255.28 L909.55,1255.22 L910.00,1255.15 L910.45,1255.09 L910.91,1255.02 L911.36,1254.96 L911.82,1254.89 L912.27,1254.82 L912.73,1254.76 L913.18,1254.69 L913.64,1254.62 L914.09,1254.56 L914.55,1254.49 L915.00,1254.42 L915.45,1254.35 L915.91,1254.28 L916.36,1254.21 L916.82,1254.14 L917.27,1254.07 L917.73,1254.00 L918.18,1253.93 L918.64,1253.86 L919.09,1253.79 L919.55,1253.72 L920.00,1253.65 L920.45,1253.58 L920.91,1253.51 L921.36,1253.43 L921.82,1253.36 L922.27,1253.29 L922.73,1253.21 L923.18,1253.14 L923.64,1253.07 L924.09,1252.99 L924.55,1252.92 L925.00,1252.84 L925.45,1252.76 L925.91,1252.69 L926.36,1252.61 L926.82,1252.54 L927.27,1252.46 L927.73,1252.38 L928.18,1252.30 L928.64,1252.22 L929.09,1252.15 L929.55,1252.07 L930.00,1251.99 L930.45,1251.91 L930.91,1251.83 L931.36,1251.75 L931.82,1251.67 L932.27,1251.58 L932.73,1251.50 L933.18,1251.42 L933.64,1251.34 L934.09,1251.25 L934.55,1251.17 L935.00,1251.09 L935.45,1251.00 L935.91,1250.92 L936.36,1250.83 L936.82,1250.75 L937.27,1250.66 L937.73,1250.57 L938.18,1250.49 L938.64,1250.40 L939.09,1250.31 L939.55,1250.22 L940.00,1250.13 L940.45,1250.04 L940.91,1249.95 L941.36,1249.86 L941.82,1249.77 L942.27,1249.68 L942.73,1249.59 L943.18,1249.50 L943.64,1249.41 L944.09,1249.31 L944.55,1249.22 L945.00,1249.12 L945.45,1249.03 L945.91,1248.94 L946.36,1248.84 L946.82,1248.74 L947.27,1248.65 L947.73,1248.55 L948.18,1248.45 L948.64,1248.35 L949.09,1248.26 L949.55,1248.16 L950.00,1248.06 L950.45,1247.96 L950.91,1247.86 L951.36,1247.76 L951.82,1247.65 L952.27,1247.55 L952.73,1247.45 L953.18,1247.35 L953.64,1247.24 L954.09,1247.14 L954.55,1247.03 L955.00,1246.93 L955.45,1246.82 L955.91,1246.71 L956.36,1246.61 L956.82,1246.50 L957.27,1246.39 L957.73,1246.28 L958.18,1246.17 L958.64,1246.06 L959.09,1245.95 L959.55,1245.84 L960.00,1245.73 L960.45,1245.62 L960.91,1245.50 L961.36,1245.39 L961.82,1245.28 L962.27,1245.16 L962.73,1245.05 L963.18,1244.93 L963.64,1244.81 L964.09,1244.70 L964.55,1244.58 L965.00,1244.46 L965.45,1244.34 L965.91,1244.22 L966.36,1244.10 L966.82,1243.98 L967.27,1243.86 L967.73,1243.74 L968.18,1243.62 L968.64,1243.49 L969.09,1243.37 L969.55,1243.24 L970.00,1243.12 L970.45,1242.99 L970.91,1242.87 L971.36,1242.74 L971.82,1242.61 L972.27,1242.48 L972.73,1242.35 L973.18,1242.22 L973.64,1242.09 L974.09,1241.96 L974.55,1241.83 L975.00,1241.70 L975.45,1241.57 L975.91,1241.43 L976.36,1241.30 L976.82,1241.16 L977.27,1241.03 L977.73,1240.89 L978.18,1240.75 L978.64,1240.61 L979.09,1240.48 L979.55,1240.34 L980.00,1240.20 L980.45,1240.06 L980.91,1239.91 L981.36,1239.77 L981.82,1239.63 L982.27,1239.48 L982.73,1239.34 L983.18,1239.20 L983.64,1239.05 L984.09,1238.90 L984.55,1238.76 L985.00,1238.61 L985.45,1238.46 L985.91,1238.31 L986.36,1238.16 L986.82,1238.01 L987.27,1237.86 L987.73,1237.70 L988.18,1237.55 L988.64,1237.40 L989.09,1237.24 L989.55,1237.09 L990.00,1236.93 L990.45,1236.77 L990.91,1236.61 L991.36,1236.45 L991.82,1236.30 L992.27,1236.14 L992.73,1235.97 L993.18,1235.81 L993.64,1235.65 L994.09,1235.49 L994.55,1235.32 L995.00,1235.16 L995.45,1234.99 L995.91,1234.82 L996.36,1234.66 L996.82,1234.49 L997.27,1234.32 L997.73,1234.15 L998.18,1233.98 L998.64,1233.81 L999.09,1233.63 L999.55,1233.46 L1000.00,1233.29 L1000.45,1233.11 L1000.91,1232.94 L1001.36,1232.76 L1001.82,1232.58 L1002.27,1232.40 L1002.73,1232.23 L1003.18,1232.05 L1003.64,1231.86 L1004.09,1231.68 L1004.55,1231.50 L1005.00,1231.32 L1005.45,1231.13 L1005.91,1230.95 L1006.36,1230.76 L1006.82,1230.57 L1007.27,1230.39 L1007.73,1230.20 L1008.18,1230.01 L1008.64,1229.82 L1009.09,1229.63 L1009.55,1229.43 L1010.00,1229.24 L1010.45,1229.05 L1010.91,1228.85 L1011.36,1228.66 L1011.82,1228.46 L1012.27,1228.26 L1012.73,1228.06 L1013.18,1227.86 L1013.64,1227.66 L1014.09,1227.46 L1014.55,1227.26 L1015.00,1227.06 L1015.45,1226.85 L1015.91,1226.65 L1016.36,1226.44 L1016.82,1226.23 L1017.27,1226.03 L1017.73,1225.82 L1018.18,1225.61 L1018.64,1225.40 L1019.09,1225.19 L1019.55,1224.97 L1020.00,1224.76 L1020.45,1224.54 L1020.91,1224.33 L1021.36,1224.11 L1021.82,1223.90 L1022.27,1223.68 L1022.73,1223.46 L1023.18,1223.24 L1023.64,1223.02 L1024.09,1222.79 L1024.55,1222.57 L1025.00,1222.35 L1025.45,1222.12 L1025.91,1221.89 L1026.36,1221.67 L1026.82,1221.44 L1027.27,1221.21 L1027.73,1220.98 L1028.18,1220.75 L1028.64,1220.52 L1029.09,1220.28 L1029.55,1220.05 L1030.00,1219.81 L1030.45,1219.58 L1030.91,1219.34 L1031.36,1219.10 L1031.82,1218.86 L1032.27,1218.62 L1032.73,1218.38 L1033.18,1218.14 L1033.64,1217.89 L1034.09,1217.65 L1034.55,1217.40 L1035.00,1217.15 L1035.45,1216.91 L1035.91,1216.66 L1036.36,1216.41 L1036.82,1216.16 L1037.27,1215.90 L1037.73,1215.65 L1038.18,1215.40 L1038.64,1215.14 L1039.09,1214.88 L1039.55,1214.63 L1040.00,1214.37 L1040.45,1214.11 L1040.91,1213.85 L1041.36,1213.59 L1041.82,1213.32 L1042.27,1213.06 L1042.73,1212.79 L1043.18,1212.53 L1043.64,1212.26 L1044.09,1211.99 L1044.55,1211.72 L1045.00,1211.45 L1045.45,1211.18 L1045.91,1210.91 L1046.36,1210.63 L1046.82,1210.36 L1047.27,1210.08 L1047.73,1209.80 L1048.18,1209.52 L1048.64,1209.24 L1049.09,1208.96 L1049.55,1208.67 L1050.00,1208.38 L1050.45,1208.10 L1050.91,1207.81 L1051.36,1207.51 L1051.82,1207.22 L1052.27,1206.92 L1052.73,1206.63 L1053.18,1206.33 L1053.64,1206.02 L1054.09,1205.72 L1054.55,1205.41 L1055.00,1205.10 L1055.45,1204.79 L1055.91,1204.48 L1056.36,1204.16 L1056.82,1203.84 L1057.27,1203.52 L1057.73,1203.19 L1058.18,1202.87 L1058.64,1202.54 L1059.09,1202.20 L1059.55,1201.87 L1060.00,1201.53 L1060.45,1201.18 L1060.91,1200.84 L1061.36,1200.49 L1061.82,1200.14 L1062.27,1199.78 L1062.73,1199.43 L1063.18,1199.06 L1063.64,1198.70 L1064.09,1198.33 L1064.55,1197.96 L1065.00,1197.58 L1065.45,1197.20 L1065.91,1196.82 L1066.36,1196.43 L1066.82,1196.04 L1067.27,1195.64 L1067.73,1195.24 L1068.18,1194.84 L1068.64,1194.43 L1069.09,1194.02 L1069.55,1193.60 L1070.00,1193.18 L1070.45,1192.76 L1070.91,1192.33 L1071.36,1191.89 L1071.82,1191.46 L1072.27,1191.01 L1072.73,1190.57 L1073.18,1190.11 L1073.64,1189.66 L1074.09,1189.19 L1074.55,1188.73 L1075.00,1188.26 L1075.45,1187.78 L1075.91,1187.30 L1076.36,1186.81 L1076.82,1186.32 L1077.27,1185.82 L1077.73,1185.32 L1078.18,1184.81 L1078.64,1184.30 L1079.09,1183.78 L1079.55,1183.25 L1080.00,1182.72 L1080.45,1182.19 L1080.91,1181.64 L1081.36,1181.10 L1081.82,1180.54 L1082.27,1179.98 L1082.73,1179.42 L1083.18,1178.85 L1083.64,1178.27 L1084.09,1177.69 L1084.55,1177.10 L1085.00,1176.50 L1085.45,1175.90 L1085.91,1175.29 L1086.36,1174.68 L1086.82,1174.06 L1087.27,1173.43 L1087.73,1172.79 L1088.18,1172.15 L1088.64,1171.50 L1089.09,1170.85 L1089.55,1170.19 L1090.00,1169.52 L1090.45,1168.84 L1090.91,1168.16 L1091.36,1167.47 L1091.82,1166.78 L1092.27,1166.07 L1092.73,1165.36 L1093.18,1164.64 L1093.64,1163.92 L1094.09,1163.18 L1094.55,1162.44 L1095.00,1161.69 L1095.45,1160.94 L1095.91,1160.18 L1096.36,1159.40 L1096.82,1158.63 L1097.27,1157.84 L1097.73,1157.04 L1098.18,1156.24 L1098.64,1155.43 L1099.09,1154.61 L1099.55,1153.78 L1100.00,1152.95 L1100.45,1152.11 L1100.91,1151.25 L1101.36,1150.39 L1101.82,1149.53 L1102.27,1148.65 L1102.73,1147.76 L1103.18,1146.87 L1103.64,1145.97 L1104.09,1145.05 L1104.55,1144.13 L1105.00,1143.20 L1105.45,1142.27 L1105.91,1141.32 L1106.36,1140.36 L1106.82,1139.40 L1107.27,1138.42 L1107.73,1137.44 L1108.18,1136.45 L1108.64,1135.45 L1109.09,1134.43 L1109.55,1133.41 L1110.00,1132.38 L1110.45,1131.34 L1110.91,1130.29 L1111.36,1129.23 L1111.82,1128.16 L1112.27,1127.09 L1112.73,1126.00 L1113.18,1124.90 L1113.64,1123.79 L1114.09,1122.67 L1114.55,1121.54 L1115.00,1120.40 L1115.45,1119.26 L1115.91,1118.10 L1116.36,1116.93 L1116.82,1115.75 L1117.27,1114.56 L1117.73,1113.36 L1118.18,1112.14 L1118.64,1110.92 L1119.09,1109.69 L1119.55,1108.45 L1120.00,1107.19 L1120.45,1105.93 L1120.91,1104.65 L1121.36,1103.37 L1121.82,1102.07 L1122.27,1100.76 L1122.73,1099.44 L1123.18,1098.11 L1123.64,1096.76 L1124.09,1095.41 L1124.55,1094.05 L1125.00,1092.67 L1125.45,1091.28 L1125.91,1089.88 L1126.36,1088.47 L1126.82,1087.05 L1127.27,1085.61 L1127.73,1084.17 L1128.18,1082.71 L1128.64,1081.24 L1129.09,1079.75 L1129.55,1078.26 L1130.00,1076.75 L1130.45,1075.24 L1130.91,1073.70 L1131.36,1072.16 L1131.82,1070.61 L1132.27,1069.04 L1132.73,1067.46 L1133.18,1065.87 L1133.64,1064.26 L1134.09,1062.64 L1134.55,1061.01 L1135.00,1059.37 L1135.45,1057.71 L1135.91,1056.04 L1136.36,1054.36 L1136.82,1052.67 L1137.27,1050.96 L1137.73,1049.24 L1138.18,1047.51 L1138.64,1045.76 L1139.09,1044.00 L1139.55,1042.22 L1140.00,1040.44 L1140.45,1038.64 L1140.91,1036.82 L1141.36,1035.00 L1141.82,1033.15 L1142.27,1031.30 L1142.73,1029.43 L1143.18,1027.55 L1143.64,1025.65 L1144.09,1023.74 L1144.55,1021.82 L1145.00,1019.88 L1145.45,1017.93 L1145.91,1015.96 L1146.36,1013.98 L1146.82,1011.99 L1147.27,1009.98 L1147.73,1007.95 L1148.18,1005.92 L1148.64,1003.86 L1149.09,1001.80 L1149.55,999.71 L1150.00,997.62 L1150.45,995.51 L1150.91,993.38 L1151.36,991.24 L1151.82,989.08 L1152.27,986.91 L1152.73,984.73 L1153.18,982.53 L1153.64,980.31 L1154.09,978.08 L1154.55,975.83 L1155.00,973.57 L1155.45,971.29 L1155.91,968.99 L1156.36,966.68 L1156.82,964.35 L1157.27,962.00 L1157.73,959.64 L1158.18,957.26 L1158.64,954.87 L1159.09,952.46 L1159.55,950.02 L1160.00,947.58 L1160.45,945.11 L1160.91,942.63 L1161.36,940.13 L1161.82,937.61 L1162.27,935.07 L1162.73,932.52 L1163.18,929.95 L1163.64,927.35 L1164.09,924.74 L1164.55,922.12 L1165.00,919.47 L1165.45,916.80 L1165.91,914.12 L1166.36,911.41 L1166.82,908.68 L1167.27,905.94 L1167.73,903.18 L1168.18,900.39 L1168.64,897.59 L1169.09,894.76 L1169.55,891.92 L1170.00,889.05 L1170.45,886.17 L1170.91,883.26 L1171.36,880.34 L1171.82,877.39 L1172.27,874.42 L1172.73,871.43 L1173.18,868.42 L1173.64,865.38 L1174.09,862.33 L1174.55,859.26 L1175.00,856.16 L1175.45,853.05 L1175.91,849.92 L1176.36,846.77 L1176.82,843.60 L1177.27,840.42 L1177.73,837.22 L1178.18,834.00 L1178.64,830.77 L1179.09,827.52 L1179.55,824.26 L1180.00,820.99 L1180.45,817.70 L1180.91,814.40 L1181.36,811.09 L1181.82,807.77 L1182.27,804.44 L1182.73,801.10 L1183.18,797.74 L1183.64,794.38 L1184.09,791.02 L1184.55,787.64 L1185.00,784.26 L1185.45,780.87 L1185.91,777.47 L1186.36,774.07 L1186.82,770.66 L1187.27,767.25 L1187.73,763.84 L1188.18,760.42 L1188.64,757.00 L1189.09,753.58 L1189.55,750.16 L1190.00,746.74 L1190.45,743.31 L1190.91,739.89 L1191.36,736.47 L1191.82,733.05 L1192.27,729.63 L1192.73,726.22 L1193.18,722.80 L1193.64,719.40 L1194.09,715.99 L1194.55,712.59 L1195.00,709.20 L1195.45,705.81 L1195.91,702.43 L1196.36,699.06 L1196.82,695.70 L1197.27,692.34 L1197.73,688.99 L1198.18,685.65 L1198.64,682.33 L1199.09,679.01 L1199.55,675.70 L1200.00,672.41 L1200.45,669.13 L1200.91,665.86 L1201.36,662.61 L1201.82,659.37 L1202.27,656.14 L1202.73,652.94 L1203.18,649.74 L1203.64,646.57 L1204.09,643.41 L1204.55,640.26 L1205.00,637.14 L1205.45,634.04 L1205.91,630.95 L1206.36,627.89 L1206.82,624.84 L1207.27,621.82 L1207.73,618.82 L1208.18,615.84 L1208.64,612.88 L1209.09,609.95 L1209.55,607.04 L1210.00,604.16 L1210.45,601.30 L1210.91,598.46 L1211.36,595.66 L1211.82,592.88 L1212.27,590.13 L1212.73,587.40 L1213.18,584.71 L1213.64,582.04 L1214.09,579.41 L1214.55,576.80 L1215.00,574.23 L1215.45,571.68 L1215.91,569.17 L1216.36,566.69 L1216.82,564.25 L1217.27,561.84 L1217.73,559.46 L1218.18,557.12 L1218.64,554.80 L1219.09,552.52 L1219.55,550.26 L1220.00,548.03 L1220.45,545.83 L1220.91,543.65 L1221.36,541.49 L1221.82,539.35 L1222.27,537.23 L1222.73,535.13 L1223.18,533.05 L1223.64,530.98 L1224.09,528.94 L1224.55,526.91 L1225.00,524.90 L1225.45,522.90 L1225.91,520.93 L1226.36,518.97 L1226.82,517.03 L1227.27,515.10 L1227.73,513.20 L1228.18,511.31 L1228.64,509.44 L1229.09,507.58 L1229.55,505.75 L1230.00,503.93 L1230.45,502.13 L1230.91,500.34 L1231.36,498.57 L1231.82,496.82 L1232.27,495.09 L1232.73,493.37 L1233.18,491.67 L1233.64,489.99 L1234.09,488.33 L1234.55,486.68 L1235.00,485.05 L1235.45,483.43 L1235.91,481.84 L1236.36,480.26 L1236.82,478.69 L1237.27,477.15 L1237.73,475.62 L1238.18,474.10 L1238.64,472.61 L1239.09,471.13 L1239.55,469.66 L1240.00,468.21 L1240.45,466.78 L1240.91,465.37 L1241.36,463.97 L1241.82,462.59 L1242.27,461.23 L1242.73,459.88 L1243.18,458.55 L1243.64,457.23 L1244.09,455.93 L1244.55,454.65 L1245.00,453.38 L1245.45,452.13 L1245.91,450.90 L1246.36,449.68 L1246.82,448.48 L1247.27,447.29 L1247.73,446.12 L1248.18,444.97 L1248.64,443.83 L1249.09,442.71 L1249.55,441.60 L1250.00,440.51 L1250.45,439.44 L1250.91,438.38 L1251.36,437.34 L1251.82,436.31 L1252.27,435.30 L1252.73,434.31 L1253.18,433.34 L1253.64,432.40 L1254.09,431.47 L1254.55,430.58 L1255.00,429.70 L1255.45,428.86 L1255.91,428.05 L1256.36,427.26 L1256.82,426.51 L1257.27,425.80 L1257.73,425.11 L1258.18,424.47 L1258.64,423.86 L1259.09,423.30 L1259.55,422.77 L1260.00,422.29 L1260.45,421.85 L1260.91,421.45 L1261.36,421.10 L1261.82,420.79 L1262.27,420.52 L1262.73,420.29 L1263.18,420.11 L1263.64,419.96 L1264.09,419.85 L1264.55,419.79 L1265.00,419.76 L1265.45,419.77 L1265.91,419.81 L1266.36,419.90 L1266.82,420.02 L1267.27,420.17 L1267.73,420.36 L1268.18,420.59 L1268.64,420.85 L1269.09,421.14 L1269.55,421.47 L1270.00,421.83 L1270.45,422.22 L1270.91,422.64 L1271.36,423.09 L1271.82,423.58 L1272.27,424.09 L1272.73,424.63 L1273.18,425.20 L1273.64,425.80 L1274.09,426.43 L1274.55,427.08 L1275.00,427.76 L1275.45,428.47 L1275.91,429.20 L1276.36,429.96 L1276.82,430.74 L1277.27,431.54 L1277.73,432.37 L1278.18,433.22 L1278.64,434.09 L1279.09,434.99 L1279.55,435.90 L1280.00,436.84 L1280.45,437.79 L1280.91,438.77 L1281.36,439.76 L1281.82,440.78 L1282.27,441.81 L1282.73,442.87 L1283.18,443.95 L1283.64,445.05 L1284.09,446.17 L1284.55,447.33 L1285.00,448.51 L1285.45,449.71 L1285.91,450.95 L1286.36,452.21 L1286.82,453.50 L1287.27,454.83 L1287.73,456.18 L1288.18,457.57 L1288.64,459.00 L1289.09,460.45 L1289.55,461.94 L1290.00,463.47 L1290.45,465.02 L1290.91,466.61 L1291.36,468.22 L1291.82,469.87 L1292.27,471.55 L1292.73,473.27 L1293.18,475.01 L1293.64,476.78 L1294.09,478.58 L1294.55,480.41 L1295.00,482.27 L1295.45,484.16 L1295.91,486.08 L1296.36,488.03 L1296.82,490.00 L1297.27,492.01 L1297.73,494.04 L1298.18,496.09 L1298.64,498.18 L1299.09,500.29 L1299.55,502.43 L1300.00,504.59 L1300.45,506.78 L1300.91,508.99 L1301.36,511.23 L1301.82,513.49 L1302.27,515.78 L1302.73,518.10 L1303.18,520.43 L1303.64,522.79 L1304.09,525.17 L1304.55,527.58 L1305.00,530.01 L1305.45,532.46 L1305.91,534.93 L1306.36,537.43 L1306.82,539.94 L1307.27,542.48 L1307.73,545.04 L1308.18,547.62 L1308.64,550.22 L1309.09,552.83 L1309.55,555.47 L1310.00,558.13 L1310.45,560.81 L1310.91,563.50 L1311.36,566.22 L1311.82,568.95 L1312.27,571.70 L1312.73,574.46 L1313.18,577.25 L1313.64,580.05 L1314.09,582.87 L1314.55,585.70 L1315.00,588.55 L1315.45,591.42 L1315.91,594.30 L1316.36,597.19 L1316.82,600.10 L1317.27,603.03 L1317.73,605.97 L1318.18,608.92 L1318.64,611.89 L1319.09,614.87 L1319.55,617.86 L1320.00,620.87 L1320.45,623.89 L1320.91,626.92 L1321.36,629.96 L1321.82,633.01 L1322.27,636.08 L1322.73,639.15 L1323.18,642.24 L1323.64,645.34 L1324.09,648.44 L1324.55,651.56 L1325.00,654.68 L1325.45,657.82 L1325.91,660.96 L1326.36,664.11 L1326.82,667.27 L1327.27,670.44 L1327.73,673.61 L1328.18,676.79 L1328.64,679.98 L1329.09,683.18 L1329.55,686.38 L1330.00,689.59 L1330.45,692.80 L1330.91,696.02 L1331.36,699.25 L1331.82,702.47 L1332.27,705.71 L1332.73,708.95 L1333.18,712.19 L1333.64,715.43 L1334.09,718.68 L1334.55,721.93 L1335.00,725.19 L1335.45,728.44 L1335.91,731.70 L1336.36,734.96 L1336.82,738.22 L1337.27,741.49 L1337.73,744.75 L1338.18,748.01 L1338.64,751.28 L1339.09,754.54 L1339.55,757.81 L1340.00,761.07 L1340.45,764.34 L1340.91,767.60 L1341.36,770.86 L1341.82,774.11 L1342.27,777.37 L1342.73,780.62 L1343.18,783.87 L1343.64,787.12 L1344.09,790.37 L1344.55,793.61 L1345.00,796.84 L1345.45,800.08 L1345.91,803.30 L1346.36,806.53 L1346.82,809.75 L1347.27,812.96 L1347.73,816.16 L1348.18,819.37 L1348.64,822.56 L1349.09,825.75 L1349.55,828.93 L1350.00,832.10 L1350.45,835.27 L1350.91,838.42 L1351.36,841.57 L1351.82,844.71 L1352.27,847.85 L1352.73,850.97 L1353.18,854.08 L1353.64,857.19 L1354.09,860.28 L1354.55,863.37 L1355.00,866.44 L1355.45,869.50 L1355.91,872.55 L1356.36,875.59 L1356.82,878.62 L1357.27,881.63 L1357.73,884.64 L1358.18,887.63 L1358.64,890.61 L1359.09,893.57 L1359.55,896.52 L1360.00,899.46 L1360.45,902.38 L1360.91,905.29 L1361.36,908.18 L1361.82,911.06 L1362.27,913.92 L1362.73,916.77 L1363.18,919.60 L1363.64,922.41 L1364.09,925.21 L1364.55,927.99 L1365.00,930.75 L1365.45,933.50 L1365.91,936.23 L1366.36,938.93 L1366.82,941.63 L1367.27,944.30 L1367.73,946.95 L1368.18,949.59 L1368.64,952.20 L1369.09,954.79 L1369.55,957.37 L1370.00,959.92 L1370.45,962.45 L1370.91,964.97 L1371.36,967.46 L1371.82,969.92 L1372.27,972.37 L1372.73,974.79 L1373.18,977.19 L1373.64,979.57 L1374.09,981.93 L1374.55,984.26 L1375.00,986.57 L1375.45,988.86 L1375.91,991.12 L1376.36,993.36 L1376.82,995.58 L1377.27,997.78 L1377.73,999.96 L1378.18,1002.12 L1378.64,1004.25 L1379.09,1006.36 L1379.55,1008.45 L1380.00,1010.53 L1380.45,1012.58 L1380.91,1014.61 L1381.36,1016.62 L1381.82,1018.61 L1382.27,1020.58 L1382.73,1022.53 L1383.18,1024.46 L1383.64,1026.37 L1384.09,1028.26 L1384.55,1030.14 L1385.00,1031.99 L1385.45,1033.83 L1385.91,1035.65 L1386.36,1037.45 L1386.82,1039.23 L1387.27,1040.99 L1387.73,1042.73 L1388.18,1044.46 L1388.64,1046.17 L1389.09,1047.87 L1389.55,1049.54 L1390.00,1051.20 L1390.45,1052.84 L1390.91,1054.47 L1391.36,1056.08 L1391.82,1057.67 L1392.27,1059.25 L1392.73,1060.81 L1393.18,1062.35 L1393.64,1063.88 L1394.09,1065.40 L1394.55,1066.89 L1395.00,1068.38 L1395.45,1069.85 L1395.91,1071.30 L1396.36,1072.74 L1396.82,1074.17 L1397.27,1075.58 L1397.73,1076.98 L1398.18,1078.36 L1398.64,1079.73 L1399.09,1081.09 L1399.55,1082.43 L1400.00,1083.76 L1400.45,1085.08 L1400.91,1086.38 L1401.36,1087.67 L1401.82,1088.95 L1402.27,1090.22 L1402.73,1091.48 L1403.18,1092.72 L1403.64,1093.95 L1404.09,1095.17 L1404.55,1096.38 L1405.00,1097.58 L1405.45,1098.76 L1405.91,1099.94 L1406.36,1101.10 L1406.82,1102.26 L1407.27,1103.40 L1407.73,1104.53 L1408.18,1105.66 L1408.64,1106.77 L1409.09,1107.88 L1409.55,1108.97 L1410.00,1110.06 L1410.45,1111.13 L1410.91,1112.20 L1411.36,1113.26 L1411.82,1114.31 L1412.27,1115.35 L1412.73,1116.38 L1413.18,1117.41 L1413.64,1118.43 L1414.09,1119.44 L1414.55,1120.44 L1415.00,1121.43 L1415.45,1122.42 L1415.91,1123.40 L1416.36,1124.38 L1416.82,1125.34 L1417.27,1126.30 L1417.73,1127.26 L1418.18,1128.21 L1418.64,1129.15 L1419.09,1130.08 L1419.55,1131.01 L1420.00,1131.94 L1420.45,1132.86 L1420.91,1133.77 L1421.36,1134.68 L1421.82,1135.59 L1422.27,1136.49 L1422.73,1137.38 L1423.18,1138.27 L1423.64,1139.15 L1424.09,1140.03 L1424.55,1140.91 L1425.00,1141.78 L1425.45,1142.64 L1425.91,1143.50 L1426.36,1144.35 L1426.82,1145.20 L1427.27,1146.04 L1427.73,1146.88 L1428.18,1147.72 L1428.64,1148.55 L1429.09,1149.37 L1429.55,1150.19 L1430.00,1151.01 L1430.45,1151.82 L1430.91,1152.62 L1431.36,1153.42 L1431.82,1154.22 L1432.27,1155.01 L1432.73,1155.80 L1433.18,1156.58 L1433.64,1157.36 L1434.09,1158.13 L1434.55,1158.90 L1435.00,1159.67 L1435.45,1160.42 L1435.91,1161.18 L1436.36,1161.93 L1436.82,1162.68 L1437.27,1163.42 L1437.73,1164.15 L1438.18,1164.89 L1438.64,1165.62 L1439.09,1166.34 L1439.55,1167.06 L1440.00,1167.77 L1440.45,1168.49 L1440.91,1169.19 L1441.36,1169.89 L1441.82,1170.59 L1442.27,1171.29 L1442.73,1171.98 L1443.18,1172.66 L1443.64,1173.34 L1444.09,1174.02 L1444.55,1174.69 L1445.00,1175.36 L1445.45,1176.03 L1445.91,1176.69 L1446.36,1177.35 L1446.82,1178.00 L1447.27,1178.65 L1447.73,1179.29 L1448.18,1179.93 L1448.64,1180.57 L1449.09,1181.20 L1449.55,1181.83 L1450.00,1182.46 L1450.45,1183.08 L1450.91,1183.70 L1451.36,1184.31 L1451.82,1184.92 L1452.27,1185.53 L1452.73,1186.13 L1453.18,1186.73 L1453.64,1187.32 L1454.09,1187.92 L1454.55,1188.50 L1455.00,1189.09 L1455.45,1189.67 L1455.91,1190.24 L1456.36,1190.82 L1456.82,1191.39 L1457.27,1191.95 L1457.73,1192.52 L1458.18,1193.07 L1458.64,1193.63 L1459.09,1194.18 L1459.55,1194.73 L1460.00,1195.28 L1460.45,1195.82 L1460.91,1196.36 L1461.36,1196.89 L1461.82,1197.42 L1462.27,1197.95 L1462.73,1198.48 L1463.18,1199.00 L1463.64,1199.52 L1464.09,1200.03 L1464.55,1200.55 L1465.00,1201.05 L1465.45,1201.56 L1465.91,1202.06 L1466.36,1202.56 L1466.82,1203.06 L1467.27,1203.55 L1467.73,1204.04 L1468.18,1204.53 L1468.64,1205.01 L1469.09,1205.49 L1469.55,1205.97 L1470.00,1206.45 L1470.45,1206.92 L1470.91,1207.39 L1471.36,1207.86 L1471.82,1208.32 L1472.27,1208.78 L1472.73,1209.24 L1473.18,1209.69 L1473.64,1210.14 L1474.09,1210.59 L1474.55,1211.04 L1475.00,1211.48 L1475.45,1211.92 L1475.91,1212.36 L1476.36,1212.80 L1476.82,1213.23 L1477.27,1213.66 L1477.73,1214.09 L1478.18,1214.51 L1478.64,1214.94 L1479.09,1215.36 L1479.55,1215.77 L1480.00,1216.19 L1480.45,1216.60 L1480.91,1217.01 L1481.36,1217.42 L1481.82,1217.82 L1482.27,1218.23 L1482.73,1218.63 L1483.18,1219.02 L1483.64,1219.42 L1484.09,1219.81 L1484.55,1220.20 L1485.00,1220.59 L1485.45,1220.98 L1485.91,1221.36 L1486.36,1221.74 L1486.82,1222.12 L1487.27,1222.50 L1487.73,1222.88 L1488.18,1223.25 L1488.64,1223.62 L1489.09,1223.99 L1489.55,1224.36 L1490.00,1224.72 L1490.45,1225.08 L1490.91,1225.44 L1491.36,1225.80 L1491.82,1226.16 L1492.27,1226.51 L1492.73,1226.87 L1493.18,1227.22 L1493.64,1227.56 L1494.09,1227.91 L1494.55,1228.26 L1495.00,1228.60 L1495.45,1228.94 L1495.91,1229.28 L1496.36,1229.62 L1496.82,1229.95 L1497.27,1230.29 L1497.73,1230.62 L1498.18,1230.95 L1498.64,1231.28 L1499.09,1231.61 L1499.55,1231.93 L1500.00,1232.26 L1500.45,1232.58 L1500.91,1232.90 L1501.36,1233.22 L1501.82,1233.54 L1502.27,1233.86 L1502.73,1234.17 L1503.18,1234.48 L1503.64,1234.80 L1504.09,1235.11 L1504.55,1235.42 L1505.00,1235.72 L1505.45,1236.03 L1505.91,1236.33 L1506.36,1236.64 L1506.82,1236.94 L1507.27,1237.24 L1507.73,1237.54 L1508.18,1237.84 L1508.64,1238.14 L1509.09,1238.43 L1509.55,1238.73 L1510.00,1239.02 L1510.45,1239.31 L1510.91,1239.61 L1511.36,1239.90 L1511.82,1240.18 L1512.27,1240.47 L1512.73,1240.76 L1513.18,1241.05 L1513.64,1241.33 L1514.09,1241.62 L1514.55,1241.90 L1515.00,1242.18 L1515.45,1242.46 L1515.91,1242.74 L1516.36,1243.02 L1516.82,1243.30 L1517.27,1243.58 L1517.73,1243.85 L1518.18,1244.13 L1518.64,1244.41 L1519.09,1244.68 L1519.55,1244.95 L1520.00,1245.23 L1520.45,1245.50 L1520.91,1245.77 L1521.36,1246.04 L1521.82,1246.31 L1522.27,1246.58 L1522.73,1246.85 L1523.18,1247.12 L1523.64,1247.39 L1524.09,1247.66 L1524.55,1247.92 L1525.00,1248.19 L1525.45,1248.46 L1525.91,1248.72 L1526.36,1248.99 L1526.82,1249.25 L1527.27,1249.52 L1527.73,1249.78 L1528.18,1250.04 L1528.64,1250.31 L1529.09,1250.57 L1529.55,1250.83 L1530.00,1251.10 L1530.45,1251.36 L1530.91,1251.62 L1531.36,1251.88 L1531.82,1252.14 L1532.27,1252.40 L1532.73,1252.66 L1533.18,1252.92 L1533.64,1253.18 L1534.09,1253.44 L1534.55,1253.70 L1535.00,1253.96 L1535.45,1254.21 L1535.91,1254.47 L1536.36,1254.73 L1536.82,1254.98 L1537.27,1255.24 L1537.73,1255.49 L1538.18,1255.74 L1538.64,1256.00 L1539.09,1256.25 L1539.55,1256.50 L1540.00,1256.75 L1540.45,1257.00 L1540.91,1257.25 L1541.36,1257.50 L1541.82,1257.74 L1542.27,1257.99 L1542.73,1258.24 L1543.18,1258.48 L1543.64,1258.72 L1544.09,1258.97 L1544.55,1259.21 L1545.00,1259.45 L1545.45,1259.69 L1545.91,1259.93 L1546.36,1260.17 L1546.82,1260.40 L1547.27,1260.64 L1547.73,1260.87 L1548.18,1261.11 L1548.64,1261.34 L1549.09,1261.57 L1549.55,1261.80 L1550.00,1262.03 L1550.45,1262.26 L1550.91,1262.48 L1551.36,1262.71 L1551.82,1262.93 L1552.27,1263.15 L1552.73,1263.37 L1553.18,1263.59 L1553.64,1263.81 L1554.09,1264.03 L1554.55,1264.25 L1555.00,1264.46 L1555.45,1264.67 L1555.91,1264.88 L1556.36,1265.09 L1556.82,1265.30 L1557.27,1265.51 L1557.73,1265.71 L1558.18,1265.92 L1558.64,1266.12 L1559.09,1266.32 L1559.55,1266.52 L1560.00,1266.72 L1560.45,1266.91 L1560.91,1267.11 L1561.36,1267.30 L1561.82,1267.49 L1562.27,1267.68 L1562.73,1267.86 L1563.18,1268.05 L1563.64,1268.23 L1564.09,1268.41 L1564.55,1268.59 L1565.00,1268.77 L1565.45,1268.95 L1565.91,1269.12 L1566.36,1269.29 L1566.82,1269.46 L1567.27,1269.63 L1567.73,1269.80 L1568.18,1269.96 L1568.64,1270.12 L1569.09,1270.28 L1569.55,1270.44 L1570.00,1270.60 L1570.45,1270.75 L1570.91,1270.90 L1571.36,1271.05 L1571.82,1271.20 L1572.27,1271.34 L1572.73,1271.49 L1573.18,1271.63 L1573.64,1271.77 L1574.09,1271.90 L1574.55,1272.04 L1575.00,1272.17 L1575.45,1272.30 L1575.91,1272.42 L1576.36,1272.55 L1576.82,1272.67 L1577.27,1272.79 L1577.73,1272.91 L1578.18,1273.02 L1578.64,1273.13 L1579.09,1273.24 L1579.55,1273.35 L1580.00,1273.46 L1580.45,1273.56 L1580.91,1273.66 L1581.36,1273.76 L1581.82,1273.85 L1582.27,1273.94 L1582.73,1274.03 L1583.18,1274.12 L1583.64,1274.20 L1584.09,1274.28 L1584.55,1274.36 L1585.00,1274.44 L1585.45,1274.51 L1585.91,1274.58 L1586.36,1274.65 L1586.82,1274.71 L1587.27,1274.77 L1587.73,1274.83 L1588.18,1274.89 L1588.64,1274.94 L1589.09,1274.99 L1589.55,1275.04 L1590.00,1275.08 L1590.45,1275.12 L1590.91,1275.16 L1591.36,1275.19 L1591.82,1275.22 L1592.27,1275.25 L1592.73,1275.28 L1593.18,1275.30 L1593.64,1275.32 L1594.09,1275.34 L1594.55,1275.35 L1595.00,1275.36 L1595.45,1275.37 L1595.91,1275.37 L1596.36,1275.37 L1596.82,1275.37 L1597.27,1275.36 L1597.73,1275.35 L1598.18,1275.34 L1598.64,1275.32 L1599.09,1275.30 L1599.55,1275.28 L1600.00,1275.25 L1600.45,1275.22 L1600.91,1275.19 L1601.36,1275.15 L1601.82,1275.11 L1602.27,1275.07 L1602.73,1275.02 L1603.18,1274.97 L1603.64,1274.92 L1604.09,1274.86 L1604.55,1274.81 L1605.00,1274.75 L1605.45,1274.68 L1605.91,1274.62 L1606.36,1274.55 L1606.82,1274.48 L1607.27,1274.41 L1607.73,1274.34 L1608.18,1274.26 L1608.64,1274.18 L1609.09,1274.10 L1609.55,1274.02 L1610.00,1273.94 L1610.45,1273.86 L1610.91,1273.77 L1611.36,1273.68 L1611.82,1273.59 L1612.27,1273.51 L1612.73,1273.41 L1613.18,1273.32 L1613.64,1273.23 L1614.09,1273.14 L1614.55,1273.04 L1615.00,1272.95 L1615.45,1272.85 L1615.91,1272.76 L1616.36,1272.66 L1616.82,1272.56 L1617.27,1272.47 L1617.73,1272.37 L1618.18,1272.27 L1618.64,1272.17 L1619.09,1272.08 L1619.55,1271.98 L1620.00,1271.88 L1620.45,1271.79 L1620.91,1271.69 L1621.36,1271.60 L1621.82,1271.50 L1622.27,1271.41 L1622.73,1271.31 L1623.18,1271.22 L1623.64,1271.13 L1624.09,1271.04 L1624.55,1270.95 L1625.00,1270.86 L1625.45,1270.77 L1625.91,1270.69 L1626.36,1270.61 L1626.82,1270.52 L1627.27,1270.44 L1627.73,1270.36 L1628.18,1270.29 L1628.64,1270.21 L1629.09,1270.14 L1629.55,1270.07 L1630.00,1270.00 L1630.45,1269.93 L1630.91,1269.87 L1631.36,1269.80 L1631.82,1269.74 L1632.27,1269.68 L1632.73,1269.63 L1633.18,1269.57 L1633.64,1269.52 L1634.09,1269.47 L1634.55,1269.42 L1635.00,1269.38 L1635.45,1269.33 L1635.91,1269.29 L1636.36,1269.25 L1636.82,1269.21 L1637.27,1269.17 L1637.73,1269.14 L1638.18,1269.10 L1638.64,1269.07 L1639.09,1269.04 L1639.55,1269.01 L1640.00,1268.99 L1640.45,1268.96 L1640.91,1268.94 L1641.36,1268.92 L1641.82,1268.90 L1642.27,1268.88 L1642.73,1268.86 L1643.18,1268.85 L1643.64,1268.83 L1644.09,1268.82 L1644.55,1268.81 L1645.00,1268.80 L1645.45,1268.79 L1645.91,1268.78 L1646.36,1268.78 L1646.82,1268.77 L1647.27,1268.77 L1647.73,1268.77 L1648.18,1268.77 L1648.64,1268.77 L1649.09,1268.77 L1649.55,1268.78 L1650.00,1268.78 L1650.45,1268.79 L1650.91,1268.79 L1651.36,1268.80 L1651.82,1268.81 L1652.27,1268.82 L1652.73,1268.83 L1653.18,1268.84 L1653.64,1268.85 L1654.09,1268.87 L1654.55,1268.88 L1655.00,1268.90 L1655.45,1268.92 L1655.91,1268.93 L1656.36,1268.95 L1656.82,1268.97 L1657.27,1268.99 L1657.73,1269.01 L1658.18,1269.03 L1658.64,1269.05 L1659.09,1269.08 L1659.55,1269.10 L1660.00,1269.12 L1660.45,1269.15 L1660.91,1269.18 L1661.36,1269.20 L1661.82,1269.23 L1662.27,1269.25 L1662.73,1269.28 L1663.18,1269.31 L1663.64,1269.34 L1664.09,1269.37 L1664.55,1269.40 L1665.00,1269.43 L1665.45,1269.46 L1665.91,1269.49 L1666.36,1269.52 L1666.82,1269.55 L1667.27,1269.58 L1667.73,1269.61 L1668.18,1269.65 L1668.64,1269.68 L1669.09,1269.71 L1669.55,1269.74 L1670.00,1269.78 L1670.45,1269.81 L1670.91,1269.84 L1671.36,1269.87 L1671.82,1269.91 L1672.27,1269.94 L1672.73,1269.97 L1673.18,1270.01 L1673.64,1270.04 L1674.09,1270.07 L1674.55,1270.10 L1675.00,1270.14 L1675.45,1270.17 L1675.91,1270.20 L1676.36,1270.23 L1676.82,1270.27 L1677.27,1270.30 L1677.73,1270.33 L1678.18,1270.36 L1678.64,1270.39 L1679.09,1270.42 L1679.55,1270.45 L1680.00,1270.48 L1680.45,1270.51 L1680.91,1270.54 L1681.36,1270.57 L1681.82,1270.60 L1682.27,1270.63 L1682.73,1270.65 L1683.18,1270.68 L1683.64,1270.71 L1684.09,1270.73 L1684.55,1270.76 L1685.00,1270.78 L1685.45,1270.80 L1685.91,1270.83 L1686.36,1270.85 L1686.82,1270.87 L1687.27,1270.89 L1687.73,1270.91 L1688.18,1270.93 L1688.64,1270.95 L1689.09,1270.97 L1689.55,1270.98 L1690.00,1271.00 L1690.45,1271.02 L1690.91,1271.03 L1691.36,1271.04 L1691.82,1271.05 L1692.27,1271.07 L1692.73,1271.08 L1693.18,1271.08 L1693.64,1271.09 L1694.09,1271.10 L1694.55,1271.10 L1695.00,1271.11 L1695.45,1271.11 L1695.91,1271.12 L1696.36,1271.12 L1696.82,1271.12 L1697.27,1271.11 L1697.73,1271.11 L1698.18,1271.11 L1698.64,1271.10 L1699.09,1271.10 L1699.55,1271.09 L1700.00,1271.08 L1700.45,1271.07 L1700.91,1271.06 L1701.36,1271.04 L1701.82,1271.03 L1702.27,1271.01 L1702.73,1270.99 L1703.18,1270.97 L1703.64,1270.95 L1704.09,1270.93 L1704.55,1270.90 L1705.00,1270.88 L1705.45,1270.85 L1705.91,1270.82 L1706.36,1270.79 L1706.82,1270.75 L1707.27,1270.72 L1707.73,1270.68 L1708.18,1270.64 L1708.64,1270.60 L1709.09,1270.56 L1709.55,1270.52 L1710.00,1270.47 L1710.45,1270.42 L1710.91,1270.37 L1711.36,1270.32 L1711.82,1270.27 L1712.27,1270.21 L1712.73,1270.15 L1713.18,1270.09 L1713.64,1270.03 L1714.09,1269.97 L1714.55,1269.90" fill="none" stroke="#FF0000" stroke-width="9.4" stroke-linejoin="round" stroke-linecap="butt"/></g>
<ellipse cx="325.60" cy="1282.00" rx="16" ry="15.2" fill="#FF0000"/>
<ellipse cx="384.44" cy="1281.50" rx="16" ry="15.2" fill="#FF0000"/>
<ellipse cx="443.28" cy="1280.50" rx="16" ry="15.2" fill="#FF0000"/>
<ellipse cx="502.12" cy="1279.50" rx="16" ry="15.2" fill="#FF0000"/>
<ellipse cx="560.96" cy="1276.50" rx="16" ry="15.2" fill="#FF0000"/>
<ellipse cx="619.80" cy="1274.40" rx="16" ry="15.2" fill="#FF0000"/>
<ellipse cx="678.64" cy="1274.00" rx="16" ry="15.2" fill="#FF0000"/>
<ellipse cx="737.48" cy="1271.40" rx="16" ry="15.2" fill="#FF0000"/>
<ellipse cx="796.32" cy="1268.30" rx="16" ry="15.2" fill="#FF0000"/>
<ellipse cx="855.16" cy="1265.30" rx="16" ry="15.2" fill="#FF0000"/>
<ellipse cx="914.00" cy="1262.00" rx="16" ry="15.2" fill="#FF0000"/>
<ellipse cx="973.50" cy="1257.40" rx="16" ry="15.2" fill="#FF0000"/>
<ellipse cx="1033.50" cy="1249.60" rx="16" ry="15.2" fill="#FF0000"/>
<ellipse cx="1089.40" cy="1237.50" rx="16" ry="15.2" fill="#FF0000"/>
<ellipse cx="1149.40" cy="1211.70" rx="16" ry="15.2" fill="#FF0000"/>
<ellipse cx="1207.90" cy="1155.00" rx="16" ry="15.2" fill="#FF0000"/>
<ellipse cx="1266.50" cy="997.70" rx="16" ry="15.2" fill="#FF0000"/>
<ellipse cx="1325.60" cy="636.10" rx="16" ry="15.2" fill="#FF0000"/>
<ellipse cx="1386.00" cy="417.00" rx="16" ry="15.2" fill="#FF0000"/>
<ellipse cx="1447.10" cy="585.70" rx="16" ry="15.2" fill="#FF0000"/>
<ellipse cx="1502.50" cy="946.60" rx="16" ry="15.2" fill="#FF0000"/>
<ellipse cx="1562.30" cy="1133.30" rx="16" ry="15.2" fill="#FF0000"/>
<ellipse cx="1619.50" cy="1208.80" rx="16" ry="15.2" fill="#FF0000"/>
<ellipse cx="1682.00" cy="1249.50" rx="16" ry="15.2" fill="#FF0000"/>
<ellipse cx="1732.30" cy="1274.50" rx="16" ry="15.2" fill="#FF0000"/>
<ellipse cx="1792.60" cy="1270.20" rx="16" ry="15.2" fill="#FF0000"/>
<ellipse cx="1828.00" cy="1270.20" rx="16" ry="15.2" fill="#FF0000"/>
<ellipse cx="1885.70" cy="1270.20" rx="16" ry="15.2" fill="#FF0000"/>
<g transform="scale(1.1,1)"><path d="M243.64,1276.86 L244.09,1276.85 L244.55,1276.85 L245.00,1276.84 L245.45,1276.84 L245.91,1276.84 L246.36,1276.83 L246.82,1276.83 L247.27,1276.82 L247.73,1276.82 L248.18,1276.81 L248.64,1276.81 L249.09,1276.81 L249.55,1276.80 L250.00,1276.80 L250.45,1276.79 L250.91,1276.79 L251.36,1276.78 L251.82,1276.78 L252.27,1276.77 L252.73,1276.77 L253.18,1276.77 L253.64,1276.76 L254.09,1276.76 L254.55,1276.75 L255.00,1276.75 L255.45,1276.74 L255.91,1276.74 L256.36,1276.73 L256.82,1276.73 L257.27,1276.73 L257.73,1276.72 L258.18,1276.72 L258.64,1276.71 L259.09,1276.71 L259.55,1276.70 L260.00,1276.70 L260.45,1276.69 L260.91,1276.69 L261.36,1276.68 L261.82,1276.68 L262.27,1276.67 L262.73,1276.67 L263.18,1276.67 L263.64,1276.66 L264.09,1276.66 L264.55,1276.65 L265.00,1276.65 L265.45,1276.64 L265.91,1276.64 L266.36,1276.63 L266.82,1276.63 L267.27,1276.62 L267.73,1276.62 L268.18,1276.61 L268.64,1276.61 L269.09,1276.60 L269.55,1276.60 L270.00,1276.59 L270.45,1276.59 L270.91,1276.58 L271.36,1276.58 L271.82,1276.57 L272.27,1276.57 L272.73,1276.56 L273.18,1276.56 L273.64,1276.55 L274.09,1276.55 L274.55,1276.54 L275.00,1276.54 L275.45,1276.53 L275.91,1276.53 L276.36,1276.52 L276.82,1276.52 L277.27,1276.51 L277.73,1276.51 L278.18,1276.50 L278.64,1276.50 L279.09,1276.49 L279.55,1276.49 L280.00,1276.48 L280.45,1276.48 L280.91,1276.47 L281.36,1276.47 L281.82,1276.46 L282.27,1276.45 L282.73,1276.45 L283.18,1276.44 L283.64,1276.44 L284.09,1276.43 L284.55,1276.43 L285.00,1276.42 L285.45,1276.42 L285.91,1276.41 L286.36,1276.41 L286.82,1276.40 L287.27,1276.40 L287.73,1276.39 L288.18,1276.38 L288.64,1276.38 L289.09,1276.37 L289.55,1276.37 L290.00,1276.36 L290.45,1276.36 L290.91,1276.35 L291.36,1276.35 L291.82,1276.34 L292.27,1276.33 L292.73,1276.33 L293.18,1276.32 L293.64,1276.32 L294.09,1276.31 L294.55,1276.31 L295.00,1276.30 L295.45,1276.30 L295.91,1276.29 L296.36,1276.28 L296.82,1276.28 L297.27,1276.27 L297.73,1276.27 L298.18,1276.26 L298.64,1276.26 L299.09,1276.25 L299.55,1276.24 L300.00,1276.24 L300.45,1276.23 L300.91,1276.23 L301.36,1276.22 L301.82,1276.21 L302.27,1276.21 L302.73,1276.20 L303.18,1276.20 L303.64,1276.19 L304.09,1276.19 L304.55,1276.18 L305.00,1276.17 L305.45,1276.17 L305.91,1276.16 L306.36,1276.16 L306.82,1276.15 L307.27,1276.14 L307.73,1276.14 L308.18,1276.13 L308.64,1276.13 L309.09,1276.12 L309.55,1276.11 L310.00,1276.11 L310.45,1276.10 L310.91,1276.10 L311.36,1276.09 L311.82,1276.08 L312.27,1276.08 L312.73,1276.07 L313.18,1276.06 L313.64,1276.06 L314.09,1276.05 L314.55,1276.05 L315.00,1276.04 L315.45,1276.03 L315.91,1276.03 L316.36,1276.02 L316.82,1276.01 L317.27,1276.01 L317.73,1276.00 L318.18,1276.00 L318.64,1275.99 L319.09,1275.98 L319.55,1275.98 L320.00,1275.97 L320.45,1275.96 L320.91,1275.96 L321.36,1275.95 L321.82,1275.94 L322.27,1275.94 L322.73,1275.93 L323.18,1275.93 L323.64,1275.92 L324.09,1275.91 L324.55,1275.91 L325.00,1275.90 L325.45,1275.89 L325.91,1275.89 L326.36,1275.88 L326.82,1275.87 L327.27,1275.87 L327.73,1275.86 L328.18,1275.85 L328.64,1275.85 L329.09,1275.84 L329.55,1275.83 L330.00,1275.83 L330.45,1275.82 L330.91,1275.81 L331.36,1275.81 L331.82,1275.80 L332.27,1275.79 L332.73,1275.79 L333.18,1275.78 L333.64,1275.77 L334.09,1275.77 L334.55,1275.76 L335.00,1275.75 L335.45,1275.75 L335.91,1275.74 L336.36,1275.73 L336.82,1275.73 L337.27,1275.72 L337.73,1275.71 L338.18,1275.71 L338.64,1275.70 L339.09,1275.69 L339.55,1275.69 L340.00,1275.68 L340.45,1275.67 L340.91,1275.66 L341.36,1275.66 L341.82,1275.65 L342.27,1275.64 L342.73,1275.64 L343.18,1275.63 L343.64,1275.62 L344.09,1275.62 L344.55,1275.61 L345.00,1275.60 L345.45,1275.60 L345.91,1275.59 L346.36,1275.58 L346.82,1275.57 L347.27,1275.57 L347.73,1275.56 L348.18,1275.55 L348.64,1275.55 L349.09,1275.54 L349.55,1275.53 L350.00,1275.52 L350.45,1275.52 L350.91,1275.51 L351.36,1275.50 L351.82,1275.50 L352.27,1275.49 L352.73,1275.48 L353.18,1275.47 L353.64,1275.47 L354.09,1275.46 L354.55,1275.45 L355.00,1275.44 L355.45,1275.44 L355.91,1275.43 L356.36,1275.42 L356.82,1275.42 L357.27,1275.41 L357.73,1275.40 L358.18,1275.39 L358.64,1275.39 L359.09,1275.38 L359.55,1275.37 L360.00,1275.36 L360.45,1275.36 L360.91,1275.35 L361.36,1275.34 L361.82,1275.33 L362.27,1275.33 L362.73,1275.32 L363.18,1275.31 L363.64,1275.30 L364.09,1275.30 L364.55,1275.29 L365.00,1275.28 L365.45,1275.27 L365.91,1275.27 L366.36,1275.26 L366.82,1275.25 L367.27,1275.24 L367.73,1275.24 L368.18,1275.23 L368.64,1275.22 L369.09,1275.21 L369.55,1275.21 L370.00,1275.20 L370.45,1275.19 L370.91,1275.18 L371.36,1275.17 L371.82,1275.17 L372.27,1275.16 L372.73,1275.15 L373.18,1275.14 L373.64,1275.14 L374.09,1275.13 L374.55,1275.12 L375.00,1275.11 L375.45,1275.10 L375.91,1275.10 L376.36,1275.09 L376.82,1275.08 L377.27,1275.07 L377.73,1275.07 L378.18,1275.06 L378.64,1275.05 L379.09,1275.04 L379.55,1275.03 L380.00,1275.03 L380.45,1275.02 L380.91,1275.01 L381.36,1275.00 L381.82,1274.99 L382.27,1274.99 L382.73,1274.98 L383.18,1274.97 L383.64,1274.96 L384.09,1274.95 L384.55,1274.95 L385.00,1274.94 L385.45,1274.93 L385.91,1274.92 L386.36,1274.91 L386.82,1274.91 L387.27,1274.90 L387.73,1274.89 L388.18,1274.88 L388.64,1274.87 L389.09,1274.86 L389.55,1274.86 L390.00,1274.85 L390.45,1274.84 L390.91,1274.83 L391.36,1274.82 L391.82,1274.82 L392.27,1274.81 L392.73,1274.80 L393.18,1274.79 L393.64,1274.78 L394.09,1274.77 L394.55,1274.77 L395.00,1274.76 L395.45,1274.75 L395.91,1274.74 L396.36,1274.73 L396.82,1274.72 L397.27,1274.72 L397.73,1274.71 L398.18,1274.70 L398.64,1274.69 L399.09,1274.68 L399.55,1274.67 L400.00,1274.67 L400.45,1274.66 L400.91,1274.65 L401.36,1274.64 L401.82,1274.63 L402.27,1274.62 L402.73,1274.62 L403.18,1274.61 L403.64,1274.60 L404.09,1274.59 L404.55,1274.58 L405.00,1274.57 L405.45,1274.56 L405.91,1274.56 L406.36,1274.55 L406.82,1274.54 L407.27,1274.53 L407.73,1274.52 L408.18,1274.51 L408.64,1274.50 L409.09,1274.50 L409.55,1274.49 L410.00,1274.48 L410.45,1274.47 L410.91,1274.46 L411.36,1274.45 L411.82,1274.44 L412.27,1274.43 L412.73,1274.43 L413.18,1274.42 L413.64,1274.41 L414.09,1274.40 L414.55,1274.39 L415.00,1274.38 L415.45,1274.37 L415.91,1274.36 L416.36,1274.36 L416.82,1274.35 L417.27,1274.34 L417.73,1274.33 L418.18,1274.32 L418.64,1274.31 L419.09,1274.30 L419.55,1274.29 L420.00,1274.28 L420.45,1274.28 L420.91,1274.27 L421.36,1274.26 L421.82,1274.25 L422.27,1274.24 L422.73,1274.23 L423.18,1274.22 L423.64,1274.21 L424.09,1274.20 L424.55,1274.20 L425.00,1274.19 L425.45,1274.18 L425.91,1274.17 L426.36,1274.16 L426.82,1274.15 L427.27,1274.14 L427.73,1274.13 L428.18,1274.12 L428.64,1274.11 L429.09,1274.10 L429.55,1274.10 L430.00,1274.09 L430.45,1274.08 L430.91,1274.07 L431.36,1274.06 L431.82,1274.05 L432.27,1274.04 L432.73,1274.03 L433.18,1274.02 L433.64,1274.01 L434.09,1274.00 L434.55,1273.99 L435.00,1273.99 L435.45,1273.98 L435.91,1273.97 L436.36,1273.96 L436.82,1273.95 L437.27,1273.94 L437.73,1273.93 L438.18,1273.92 L438.64,1273.91 L439.09,1273.90 L439.55,1273.89 L440.00,1273.88 L440.45,1273.87 L440.91,1273.86 L441.36,1273.86 L441.82,1273.85 L442.27,1273.84 L442.73,1273.83 L443.18,1273.82 L443.64,1273.81 L444.09,1273.80 L444.55,1273.79 L445.00,1273.78 L445.45,1273.77 L445.91,1273.76 L446.36,1273.75 L446.82,1273.74 L447.27,1273.73 L447.73,1273.72 L448.18,1273.71 L448.64,1273.70 L449.09,1273.69 L449.55,1273.68 L450.00,1273.67 L450.45,1273.67 L450.91,1273.66 L451.36,1273.65 L451.82,1273.64 L452.27,1273.63 L452.73,1273.62 L453.18,1273.61 L453.64,1273.60 L454.09,1273.59 L454.55,1273.58 L455.00,1273.57 L455.45,1273.56 L455.91,1273.55 L456.36,1273.54 L456.82,1273.53 L457.27,1273.52 L457.73,1273.51 L458.18,1273.50 L458.64,1273.49 L459.09,1273.48 L459.55,1273.47 L460.00,1273.46 L460.45,1273.45 L460.91,1273.44 L461.36,1273.43 L461.82,1273.42 L462.27,1273.41 L462.73,1273.40 L463.18,1273.39 L463.64,1273.38 L464.09,1273.37 L464.55,1273.36 L465.00,1273.35 L465.45,1273.34 L465.91,1273.33 L466.36,1273.32 L466.82,1273.31 L467.27,1273.30 L467.73,1273.29 L468.18,1273.28 L468.64,1273.27 L469.09,1273.26 L469.55,1273.25 L470.00,1273.24 L470.45,1273.23 L470.91,1273.22 L471.36,1273.21 L471.82,1273.20 L472.27,1273.19 L472.73,1273.18 L473.18,1273.17 L473.64,1273.16 L474.09,1273.15 L474.55,1273.14 L475.00,1273.13 L475.45,1273.12 L475.91,1273.11 L476.36,1273.10 L476.82,1273.09 L477.27,1273.08 L477.73,1273.07 L478.18,1273.06 L478.64,1273.05 L479.09,1273.04 L479.55,1273.03 L480.00,1273.02 L480.45,1273.01 L480.91,1273.00 L481.36,1272.99 L481.82,1272.98 L482.27,1272.97 L482.73,1272.96 L483.18,1272.95 L483.64,1272.94 L484.09,1272.93 L484.55,1272.92 L485.00,1272.91 L485.45,1272.90 L485.91,1272.89 L486.36,1272.88 L486.82,1272.87 L487.27,1272.86 L487.73,1272.85 L488.18,1272.84 L488.64,1272.83 L489.09,1272.81 L489.55,1272.80 L490.00,1272.79 L490.45,1272.78 L490.91,1272.77 L491.36,1272.76 L491.82,1272.75 L492.27,1272.74 L492.73,1272.73 L493.18,1272.72 L493.64,1272.71 L494.09,1272.70 L494.55,1272.69 L495.00,1272.68 L495.45,1272.67 L495.91,1272.66 L496.36,1272.65 L496.82,1272.64 L497.27,1272.63 L497.73,1272.62 L498.18,1272.60 L498.64,1272.59 L499.09,1272.58 L499.55,1272.57 L500.00,1272.56 L500.45,1272.55 L500.91,1272.54 L501.36,1272.53 L501.82,1272.52 L502.27,1272.51 L502.73,1272.50 L503.18,1272.49 L503.64,1272.48 L504.09,1272.47 L504.55,1272.46 L505.00,1272.44 L505.45,1272.43 L505.91,1272.42 L506.36,1272.41 L506.82,1272.40 L507.27,1272.39 L507.73,1272.38 L508.18,1272.37 L508.64,1272.36 L509.09,1272.35 L509.55,1272.34 L510.00,1272.33 L510.45,1272.31 L510.91,1272.30 L511.36,1272.29 L511.82,1272.28 L512.27,1272.27 L512.73,1272.26 L513.18,1272.25 L513.64,1272.24 L514.09,1272.23 L514.55,1272.22 L515.00,1272.21 L515.45,1272.20 L515.91,1272.18 L516.36,1272.17 L516.82,1272.16 L517.27,1272.15 L517.73,1272.14 L518.18,1272.13 L518.64,1272.12 L519.09,1272.11 L519.55,1272.10 L520.00,1272.09 L520.45,1272.07 L520.91,1272.06 L521.36,1272.05 L521.82,1272.04 L522.27,1272.03 L522.73,1272.02 L523.18,1272.01 L523.64,1272.00 L524.09,1271.99 L524.55,1271.97 L525.00,1271.96 L525.45,1271.95 L525.91,1271.94 L526.36,1271.93 L526.82,1271.92 L527.27,1271.91 L527.73,1271.90 L528.18,1271.89 L528.64,1271.87 L529.09,1271.86 L529.55,1271.85 L530.00,1271.84 L530.45,1271.83 L530.91,1271.82 L531.36,1271.81 L531.82,1271.80 L532.27,1271.78 L532.73,1271.77 L533.18,1271.76 L533.64,1271.75 L534.09,1271.74 L534.55,1271.73 L535.00,1271.72 L535.45,1271.70 L535.91,1271.69 L536.36,1271.68 L536.82,1271.67 L537.27,1271.66 L537.73,1271.65 L538.18,1271.64 L538.64,1271.63 L539.09,1271.61 L539.55,1271.60 L540.00,1271.59 L540.45,1271.58 L540.91,1271.57 L541.36,1271.56 L541.82,1271.55 L542.27,1271.53 L542.73,1271.52 L543.18,1271.51 L543.64,1271.50 L544.09,1271.49 L544.55,1271.48 L545.00,1271.47 L545.45,1271.45 L545.91,1271.44 L546.36,1271.43 L546.82,1271.42 L547.27,1271.41 L547.73,1271.40 L548.18,1271.38 L548.64,1271.37 L549.09,1271.36 L549.55,1271.35 L550.00,1271.34 L550.45,1271.33 L550.91,1271.32 L551.36,1271.30 L551.82,1271.29 L552.27,1271.28 L552.73,1271.27 L553.18,1271.26 L553.64,1271.25 L554.09,1271.23 L554.55,1271.22 L555.00,1271.21 L555.45,1271.20 L555.91,1271.19 L556.36,1271.18 L556.82,1271.16 L557.27,1271.15 L557.73,1271.14 L558.18,1271.13 L558.64,1271.12 L559.09,1271.10 L559.55,1271.09 L560.00,1271.08 L560.45,1271.07 L560.91,1271.06 L561.36,1271.05 L561.82,1271.03 L562.27,1271.02 L562.73,1271.01 L563.18,1271.00 L563.64,1270.99 L564.09,1270.97 L564.55,1270.96 L565.00,1270.95 L565.45,1270.94 L565.91,1270.93 L566.36,1270.92 L566.82,1270.90 L567.27,1270.89 L567.73,1270.88 L568.18,1270.87 L568.64,1270.86 L569.09,1270.84 L569.55,1270.83 L570.00,1270.82 L570.45,1270.81 L570.91,1270.80 L571.36,1270.78 L571.82,1270.77 L572.27,1270.76 L572.73,1270.75 L573.18,1270.74 L573.64,1270.72 L574.09,1270.71 L574.55,1270.70 L575.00,1270.69 L575.45,1270.68 L575.91,1270.66 L576.36,1270.65 L576.82,1270.64 L577.27,1270.63 L577.73,1270.62 L578.18,1270.60 L578.64,1270.59 L579.09,1270.58 L579.55,1270.57 L580.00,1270.56 L580.45,1270.54 L580.91,1270.53 L581.36,1270.52 L581.82,1270.51 L582.27,1270.49 L582.73,1270.48 L583.18,1270.47 L583.64,1270.46 L584.09,1270.45 L584.55,1270.43 L585.00,1270.42 L585.45,1270.41 L585.91,1270.40 L586.36,1270.38 L586.82,1270.37 L587.27,1270.36 L587.73,1270.35 L588.18,1270.34 L588.64,1270.32 L589.09,1270.31 L589.55,1270.30 L590.00,1270.29 L590.45,1270.27 L590.91,1270.26 L591.36,1270.25 L591.82,1270.24 L592.27,1270.23 L592.73,1270.21 L593.18,1270.20 L593.64,1270.19 L594.09,1270.18 L594.55,1270.16 L595.00,1270.15 L595.45,1270.14 L595.91,1270.13 L596.36,1270.11 L596.82,1270.10 L597.27,1270.09 L597.73,1270.08 L598.18,1270.06 L598.64,1270.05 L599.09,1270.04 L599.55,1270.03 L600.00,1270.01 L600.45,1270.00 L600.91,1269.99 L601.36,1269.98 L601.82,1269.96 L602.27,1269.95 L602.73,1269.94 L603.18,1269.93 L603.64,1269.91 L604.09,1269.90 L604.55,1269.89 L605.00,1269.88 L605.45,1269.86 L605.91,1269.85 L606.36,1269.84 L606.82,1269.83 L607.27,1269.81 L607.73,1269.80 L608.18,1269.79 L608.64,1269.78 L609.09,1269.76 L609.55,1269.75 L610.00,1269.74 L610.45,1269.73 L610.91,1269.71 L611.36,1269.70 L611.82,1269.69 L612.27,1269.68 L612.73,1269.66 L613.18,1269.65 L613.64,1269.64 L614.09,1269.63 L614.55,1269.61 L615.00,1269.60 L615.45,1269.59 L615.91,1269.57 L616.36,1269.56 L616.82,1269.55 L617.27,1269.54 L617.73,1269.52 L618.18,1269.51 L618.64,1269.50 L619.09,1269.49 L619.55,1269.47 L620.00,1269.46 L620.45,1269.45 L620.91,1269.43 L621.36,1269.42 L621.82,1269.41 L622.27,1269.40 L622.73,1269.38 L623.18,1269.37 L623.64,1269.36 L624.09,1269.34 L624.55,1269.33 L625.00,1269.32 L625.45,1269.31 L625.91,1269.29 L626.36,1269.28 L626.82,1269.27 L627.27,1269.25 L627.73,1269.24 L628.18,1269.23 L628.64,1269.22 L629.09,1269.20 L629.55,1269.19 L630.00,1269.18 L630.45,1269.16 L630.91,1269.15 L631.36,1269.14 L631.82,1269.13 L632.27,1269.11 L632.73,1269.10 L633.18,1269.09 L633.64,1269.07 L634.09,1269.06 L634.55,1269.05 L635.00,1269.04 L635.45,1269.02 L635.91,1269.01 L636.36,1269.00 L636.82,1268.98 L637.27,1268.97 L637.73,1268.96 L638.18,1268.94 L638.64,1268.93 L639.09,1268.92 L639.55,1268.90 L640.00,1268.89 L640.45,1268.88 L640.91,1268.87 L641.36,1268.85 L641.82,1268.84 L642.27,1268.83 L642.73,1268.81 L643.18,1268.80 L643.64,1268.79 L644.09,1268.77 L644.55,1268.76 L645.00,1268.75 L645.45,1268.73 L645.91,1268.72 L646.36,1268.71 L646.82,1268.70 L647.27,1268.68 L647.73,1268.67 L648.18,1268.66 L648.64,1268.64 L649.09,1268.63 L649.55,1268.62 L650.00,1268.60 L650.45,1268.59 L650.91,1268.58 L651.36,1268.56 L651.82,1268.55 L652.27,1268.54 L652.73,1268.52 L653.18,1268.51 L653.64,1268.50 L654.09,1268.48 L654.55,1268.47 L655.00,1268.46 L655.45,1268.44 L655.91,1268.43 L656.36,1268.42 L656.82,1268.40 L657.27,1268.39 L657.73,1268.38 L658.18,1268.36 L658.64,1268.35 L659.09,1268.34 L659.55,1268.32 L660.00,1268.31 L660.45,1268.30 L660.91,1268.28 L661.36,1268.27 L661.82,1268.26 L662.27,1268.24 L662.73,1268.23 L663.18,1268.22 L663.64,1268.20 L664.09,1268.19 L664.55,1268.18 L665.00,1268.16 L665.45,1268.15 L665.91,1268.14 L666.36,1268.12 L666.82,1268.11 L667.27,1268.10 L667.73,1268.08 L668.18,1268.07 L668.64,1268.06 L669.09,1268.04 L669.55,1268.03 L670.00,1268.02 L670.45,1268.00 L670.91,1267.99 L671.36,1267.98 L671.82,1267.96 L672.27,1267.95 L672.73,1267.93 L673.18,1267.92 L673.64,1267.91 L674.09,1267.89 L674.55,1267.88 L675.00,1267.87 L675.45,1267.85 L675.91,1267.84 L676.36,1267.83 L676.82,1267.81 L677.27,1267.80 L677.73,1267.79 L678.18,1267.77 L678.64,1267.76 L679.09,1267.74 L679.55,1267.73 L680.00,1267.72 L680.45,1267.70 L680.91,1267.69 L681.36,1267.68 L681.82,1267.66 L682.27,1267.65 L682.73,1267.64 L683.18,1267.62 L683.64,1267.61 L684.09,1267.59 L684.55,1267.58 L685.00,1267.57 L685.45,1267.55 L685.91,1267.54 L686.36,1267.53 L686.82,1267.51 L687.27,1267.50 L687.73,1267.49 L688.18,1267.47 L688.64,1267.46 L689.09,1267.44 L689.55,1267.43 L690.00,1267.42 L690.45,1267.40 L690.91,1267.39 L691.36,1267.38 L691.82,1267.36 L692.27,1267.35 L692.73,1267.33 L693.18,1267.32 L693.64,1267.31 L694.09,1267.29 L694.55,1267.28 L695.00,1267.27 L695.45,1267.25 L695.91,1267.24 L696.36,1267.22 L696.82,1267.21 L697.27,1267.20 L697.73,1267.18 L698.18,1267.17 L698.64,1267.15 L699.09,1267.14 L699.55,1267.13 L700.00,1267.11 L700.45,1267.10 L700.91,1267.09 L701.36,1267.07 L701.82,1267.06 L702.27,1267.04 L702.73,1267.03 L703.18,1267.02 L703.64,1267.00 L704.09,1266.99 L704.55,1266.97 L705.00,1266.96 L705.45,1266.95 L705.91,1266.93 L706.36,1266.92 L706.82,1266.90 L707.27,1266.89 L707.73,1266.88 L708.18,1266.86 L708.64,1266.85 L709.09,1266.84 L709.55,1266.82 L710.00,1266.81 L710.45,1266.79 L710.91,1266.78 L711.36,1266.77 L711.82,1266.75 L712.27,1266.74 L712.73,1266.72 L713.18,1266.71 L713.64,1266.70 L714.09,1266.68 L714.55,1266.67 L715.00,1266.65 L715.45,1266.64 L715.91,1266.62 L716.36,1266.61 L716.82,1266.60 L717.27,1266.58 L717.73,1266.57 L718.18,1266.55 L718.64,1266.54 L719.09,1266.53 L719.55,1266.51 L720.00,1266.50 L720.45,1266.48 L720.91,1266.47 L721.36,1266.46 L721.82,1266.44 L722.27,1266.43 L722.73,1266.41 L723.18,1266.40 L723.64,1266.39 L724.09,1266.37 L724.55,1266.36 L725.00,1266.34 L725.45,1266.33 L725.91,1266.31 L726.36,1266.30 L726.82,1266.29 L727.27,1266.27 L727.73,1266.26 L728.18,1266.24 L728.64,1266.23 L729.09,1266.22 L729.55,1266.20 L730.00,1266.19 L730.45,1266.17 L730.91,1266.16 L731.36,1266.14 L731.82,1266.13 L732.27,1266.12 L732.73,1266.10 L733.18,1266.09 L733.64,1266.07 L734.09,1266.06 L734.55,1266.04 L735.00,1266.03 L735.45,1266.02 L735.91,1266.00 L736.36,1265.99 L736.82,1265.97 L737.27,1265.96 L737.73,1265.94 L738.18,1265.93 L738.64,1265.92 L739.09,1265.90 L739.55,1265.89 L740.00,1265.87 L740.45,1265.86 L740.91,1265.84 L741.36,1265.83 L741.82,1265.82 L742.27,1265.80 L742.73,1265.79 L743.18,1265.77 L743.64,1265.76 L744.09,1265.74 L744.55,1265.73 L745.00,1265.72 L745.45,1265.70 L745.91,1265.69 L746.36,1265.67 L746.82,1265.66 L747.27,1265.64 L747.73,1265.63 L748.18,1265.62 L748.64,1265.60 L749.09,1265.59 L749.55,1265.57 L750.00,1265.56 L750.45,1265.54 L750.91,1265.53 L751.36,1265.51 L751.82,1265.50 L752.27,1265.49 L752.73,1265.47 L753.18,1265.46 L753.64,1265.44 L754.09,1265.43 L754.55,1265.41 L755.00,1265.40 L755.45,1265.38 L755.91,1265.37 L756.36,1265.36 L756.82,1265.34 L757.27,1265.33 L757.73,1265.31 L758.18,1265.30 L758.64,1265.28 L759.09,1265.27 L759.55,1265.25 L760.00,1265.24 L760.45,1265.22 L760.91,1265.21 L761.36,1265.20 L761.82,1265.18 L762.27,1265.17 L762.73,1265.15 L763.18,1265.14 L763.64,1265.12 L764.09,1265.11 L764.55,1265.09 L765.00,1265.08 L765.45,1265.06 L765.91,1265.05 L766.36,1265.04 L766.82,1265.02 L767.27,1265.01 L767.73,1264.99 L768.18,1264.98 L768.64,1264.96 L769.09,1264.95 L769.55,1264.93 L770.00,1264.92 L770.45,1264.90 L770.91,1264.89 L771.36,1264.88 L771.82,1264.86 L772.27,1264.85 L772.73,1264.83 L773.18,1264.82 L773.64,1264.80 L774.09,1264.79 L774.55,1264.77 L775.00,1264.76 L775.45,1264.74 L775.91,1264.73 L776.36,1264.71 L776.82,1264.70 L777.27,1264.68 L777.73,1264.67 L778.18,1264.66 L778.64,1264.64 L779.09,1264.63 L779.55,1264.61 L780.00,1264.60 L780.45,1264.58 L780.91,1264.57 L781.36,1264.55 L781.82,1264.54 L782.27,1264.52 L782.73,1264.51 L783.18,1264.49 L783.64,1264.48 L784.09,1264.46 L784.55,1264.45 L785.00,1264.43 L785.45,1264.42 L785.91,1264.41 L786.36,1264.39 L786.82,1264.38 L787.27,1264.36 L787.73,1264.35 L788.18,1264.33 L788.64,1264.32 L789.09,1264.30 L789.55,1264.29 L790.00,1264.27 L790.45,1264.26 L790.91,1264.24 L791.36,1264.23 L791.82,1264.21 L792.27,1264.20 L792.73,1264.18 L793.18,1264.17 L793.64,1264.15 L794.09,1264.14 L794.55,1264.12 L795.00,1264.11 L795.45,1264.09 L795.91,1264.08 L796.36,1264.07 L796.82,1264.05 L797.27,1264.04 L797.73,1264.02 L798.18,1264.01 L798.64,1263.99 L799.09,1263.98 L799.55,1263.96 L800.00,1263.95 L800.45,1263.93 L800.91,1263.92 L801.36,1263.90 L801.82,1263.89 L802.27,1263.87 L802.73,1263.86 L803.18,1263.84 L803.64,1263.83 L804.09,1263.81 L804.55,1263.80 L805.00,1263.78 L805.45,1263.77 L805.91,1263.75 L806.36,1263.74 L806.82,1263.72 L807.27,1263.71 L807.73,1263.69 L808.18,1263.68 L808.64,1263.66 L809.09,1263.65 L809.55,1263.63 L810.00,1263.62 L810.45,1263.60 L810.91,1263.59 L811.36,1263.57 L811.82,1263.56 L812.27,1263.54 L812.73,1263.53 L813.18,1263.51 L813.64,1263.50 L814.09,1263.48 L814.55,1263.47 L815.00,1263.45 L815.45,1263.44 L815.91,1263.42 L816.36,1263.41 L816.82,1263.39 L817.27,1263.38 L817.73,1263.36 L818.18,1263.35 L818.64,1263.33 L819.09,1263.32 L819.55,1263.30 L820.00,1263.29 L820.45,1263.27 L820.91,1263.26 L821.36,1263.24 L821.82,1263.23 L822.27,1263.21 L822.73,1263.20 L823.18,1263.18 L823.64,1263.17 L824.09,1263.15 L824.55,1263.14 L825.00,1263.12 L825.45,1263.11 L825.91,1263.09 L826.36,1263.08 L826.82,1263.06 L827.27,1263.05 L827.73,1263.03 L828.18,1263.02 L828.64,1263.00 L829.09,1262.99 L829.55,1262.97 L830.00,1262.96 L830.45,1262.94 L830.91,1262.93 L831.36,1262.91 L831.82,1262.90 L832.27,1262.88 L832.73,1262.87 L833.18,1262.85 L833.64,1262.84 L834.09,1262.82 L834.55,1262.81 L835.00,1262.79 L835.45,1262.77 L835.91,1262.76 L836.36,1262.74 L836.82,1262.73 L837.27,1262.71 L837.73,1262.70 L838.18,1262.68 L838.64,1262.66 L839.09,1262.65 L839.55,1262.63 L840.00,1262.62 L840.45,1262.60 L840.91,1262.59 L841.36,1262.57 L841.82,1262.55 L842.27,1262.54 L842.73,1262.52 L843.18,1262.50 L843.64,1262.49 L844.09,1262.47 L844.55,1262.45 L845.00,1262.44 L845.45,1262.42 L845.91,1262.40 L846.36,1262.39 L846.82,1262.37 L847.27,1262.35 L847.73,1262.33 L848.18,1262.32 L848.64,1262.30 L849.09,1262.28 L849.55,1262.26 L850.00,1262.25 L850.45,1262.23 L850.91,1262.21 L851.36,1262.19 L851.82,1262.17 L852.27,1262.15 L852.73,1262.14 L853.18,1262.12 L853.64,1262.10 L854.09,1262.08 L854.55,1262.06 L855.00,1262.04 L855.45,1262.02 L855.91,1262.00 L856.36,1261.98 L856.82,1261.96 L857.27,1261.94 L857.73,1261.92 L858.18,1261.90 L858.64,1261.88 L859.09,1261.86 L859.55,1261.84 L860.00,1261.82 L860.45,1261.80 L860.91,1261.78 L861.36,1261.76 L861.82,1261.74 L862.27,1261.71 L862.73,1261.69 L863.18,1261.67 L863.64,1261.65 L864.09,1261.62 L864.55,1261.60 L865.00,1261.58 L865.45,1261.56 L865.91,1261.53 L866.36,1261.51 L866.82,1261.49 L867.27,1261.46 L867.73,1261.44 L868.18,1261.42 L868.64,1261.39 L869.09,1261.37 L869.55,1261.34 L870.00,1261.32 L870.45,1261.29 L870.91,1261.27 L871.36,1261.24 L871.82,1261.22 L872.27,1261.19 L872.73,1261.16 L873.18,1261.14 L873.64,1261.11 L874.09,1261.08 L874.55,1261.06 L875.00,1261.03 L875.45,1261.00 L875.91,1260.97 L876.36,1260.95 L876.82,1260.92 L877.27,1260.89 L877.73,1260.86 L878.18,1260.83 L878.64,1260.80 L879.09,1260.77 L879.55,1260.74 L880.00,1260.71 L880.45,1260.68 L880.91,1260.65 L881.36,1260.62 L881.82,1260.59 L882.27,1260.56 L882.73,1260.53 L883.18,1260.50 L883.64,1260.47 L884.09,1260.43 L884.55,1260.40 L885.00,1260.37 L885.45,1260.33 L885.91,1260.30 L886.36,1260.27 L886.82,1260.23 L887.27,1260.20 L887.73,1260.16 L888.18,1260.13 L888.64,1260.09 L889.09,1260.06 L889.55,1260.02 L890.00,1259.99 L890.45,1259.95 L890.91,1259.91 L891.36,1259.88 L891.82,1259.84 L892.27,1259.80 L892.73,1259.76 L893.18,1259.73 L893.64,1259.69 L894.09,1259.65 L894.55,1259.61 L895.00,1259.57 L895.45,1259.53 L895.91,1259.49 L896.36,1259.45 L896.82,1259.41 L897.27,1259.37 L897.73,1259.33 L898.18,1259.28 L898.64,1259.24 L899.09,1259.20 L899.55,1259.16 L900.00,1259.11 L900.45,1259.07 L900.91,1259.03 L901.36,1258.98 L901.82,1258.94 L902.27,1258.89 L902.73,1258.85 L903.18,1258.80 L903.64,1258.76 L904.09,1258.71 L904.55,1258.66 L905.00,1258.62 L905.45,1258.57 L905.91,1258.52 L906.36,1258.47 L906.82,1258.42 L907.27,1258.37 L907.73,1258.32 L908.18,1258.27 L908.64,1258.22 L909.09,1258.17 L909.55,1258.12 L910.00,1258.07 L910.45,1258.02 L910.91,1257.97 L911.36,1257.91 L911.82,1257.86 L912.27,1257.81 L912.73,1257.75 L913.18,1257.70 L913.64,1257.64 L914.09,1257.59 L914.55,1257.53 L915.00,1257.48 L915.45,1257.42 L915.91,1257.37 L916.36,1257.31 L916.82,1257.25 L917.27,1257.19 L917.73,1257.13 L918.18,1257.07 L918.64,1257.02 L919.09,1256.96 L919.55,1256.90 L920.00,1256.83 L920.45,1256.77 L920.91,1256.71 L921.36,1256.65 L921.82,1256.59 L922.27,1256.52 L922.73,1256.46 L923.18,1256.40 L923.64,1256.33 L924.09,1256.27 L924.55,1256.20 L925.00,1256.14 L925.45,1256.07 L925.91,1256.00 L926.36,1255.94 L926.82,1255.87 L927.27,1255.80 L927.73,1255.73 L928.18,1255.66 L928.64,1255.59 L929.09,1255.52 L929.55,1255.45 L930.00,1255.38 L930.45,1255.31 L930.91,1255.24 L931.36,1255.17 L931.82,1255.09 L932.27,1255.02 L932.73,1254.95 L933.18,1254.87 L933.64,1254.80 L934.09,1254.72 L934.55,1254.65 L935.00,1254.57 L935.45,1254.49 L935.91,1254.41 L936.36,1254.34 L936.82,1254.26 L937.27,1254.18 L937.73,1254.10 L938.18,1254.02 L938.64,1253.94 L939.09,1253.86 L939.55,1253.77 L940.00,1253.69 L940.45,1253.61 L940.91,1253.53 L941.36,1253.44 L941.82,1253.36 L942.27,1253.27 L942.73,1253.19 L943.18,1253.10 L943.64,1253.01 L944.09,1252.93 L944.55,1252.84 L945.00,1252.75 L945.45,1252.66 L945.91,1252.57 L946.36,1252.48 L946.82,1252.39 L947.27,1252.30 L947.73,1252.21 L948.18,1252.11 L948.64,1252.02 L949.09,1251.93 L949.55,1251.83 L950.00,1251.74 L950.45,1251.64 L950.91,1251.55 L951.36,1251.45 L951.82,1251.35 L952.27,1251.26 L952.73,1251.16 L953.18,1251.06 L953.64,1250.96 L954.09,1250.86 L954.55,1250.76 L955.00,1250.66 L955.45,1250.55 L955.91,1250.45 L956.36,1250.35 L956.82,1250.24 L957.27,1250.14 L957.73,1250.03 L958.18,1249.93 L958.64,1249.82 L959.09,1249.72 L959.55,1249.61 L960.00,1249.50 L960.45,1249.39 L960.91,1249.28 L961.36,1249.17 L961.82,1249.06 L962.27,1248.95 L962.73,1248.84 L963.18,1248.72 L963.64,1248.61 L964.09,1248.50 L964.55,1248.38 L965.00,1248.27 L965.45,1248.15 L965.91,1248.03 L966.36,1247.92 L966.82,1247.80 L967.27,1247.68 L967.73,1247.56 L968.18,1247.44 L968.64,1247.32 L969.09,1247.20 L969.55,1247.07 L970.00,1246.95 L970.45,1246.83 L970.91,1246.70 L971.36,1246.58 L971.82,1246.45 L972.27,1246.33 L972.73,1246.20 L973.18,1246.07 L973.64,1245.94 L974.09,1245.82 L974.55,1245.69 L975.00,1245.55 L975.45,1245.42 L975.91,1245.29 L976.36,1245.16 L976.82,1245.03 L977.27,1244.89 L977.73,1244.76 L978.18,1244.62 L978.64,1244.49 L979.09,1244.35 L979.55,1244.21 L980.00,1244.07 L980.45,1243.93 L980.91,1243.79 L981.36,1243.65 L981.82,1243.51 L982.27,1243.37 L982.73,1243.23 L983.18,1243.08 L983.64,1242.94 L984.09,1242.79 L984.55,1242.65 L985.00,1242.50 L985.45,1242.35 L985.91,1242.21 L986.36,1242.06 L986.82,1241.91 L987.27,1241.76 L987.73,1241.61 L988.18,1241.45 L988.64,1241.30 L989.09,1241.15 L989.55,1240.99 L990.00,1240.84 L990.45,1240.68 L990.91,1240.53 L991.36,1240.37 L991.82,1240.21 L992.27,1240.05 L992.73,1239.89 L993.18,1239.73 L993.64,1239.57 L994.09,1239.41 L994.55,1239.24 L995.00,1239.08 L995.45,1238.92 L995.91,1238.75 L996.36,1238.59 L996.82,1238.42 L997.27,1238.25 L997.73,1238.08 L998.18,1237.91 L998.64,1237.74 L999.09,1237.57 L999.55,1237.40 L1000.00,1237.23 L1000.45,1237.05 L1000.91,1236.88 L1001.36,1236.70 L1001.82,1236.53 L1002.27,1236.35 L1002.73,1236.17 L1003.18,1235.99 L1003.64,1235.81 L1004.09,1235.63 L1004.55,1235.45 L1005.00,1235.27 L1005.45,1235.09 L1005.91,1234.90 L1006.36,1234.72 L1006.82,1234.54 L1007.27,1234.35 L1007.73,1234.16 L1008.18,1233.97 L1008.64,1233.79 L1009.09,1233.60 L1009.55,1233.40 L1010.00,1233.21 L1010.45,1233.02 L1010.91,1232.83 L1011.36,1232.63 L1011.82,1232.44 L1012.27,1232.24 L1012.73,1232.05 L1013.18,1231.85 L1013.64,1231.65 L1014.09,1231.45 L1014.55,1231.25 L1015.00,1231.05 L1015.45,1230.85 L1015.91,1230.64 L1016.36,1230.44 L1016.82,1230.24 L1017.27,1230.03 L1017.73,1229.82 L1018.18,1229.62 L1018.64,1229.41 L1019.09,1229.20 L1019.55,1228.99 L1020.00,1228.78 L1020.45,1228.56 L1020.91,1228.35 L1021.36,1228.14 L1021.82,1227.92 L1022.27,1227.71 L1022.73,1227.49 L1023.18,1227.27 L1023.64,1227.05 L1024.09,1226.83 L1024.55,1226.61 L1025.00,1226.39 L1025.45,1226.17 L1025.91,1225.95 L1026.36,1225.72 L1026.82,1225.50 L1027.27,1225.27 L1027.73,1225.04 L1028.18,1224.81 L1028.64,1224.58 L1029.09,1224.35 L1029.55,1224.12 L1030.00,1223.89 L1030.45,1223.66 L1030.91,1223.42 L1031.36,1223.19 L1031.82,1222.95 L1032.27,1222.72 L1032.73,1222.48 L1033.18,1222.24 L1033.64,1222.00 L1034.09,1221.76 L1034.55,1221.52 L1035.00,1221.27 L1035.45,1221.03 L1035.91,1220.79 L1036.36,1220.54 L1036.82,1220.29 L1037.27,1220.04 L1037.73,1219.80 L1038.18,1219.55 L1038.64,1219.29 L1039.09,1219.04 L1039.55,1218.79 L1040.00,1218.54 L1040.45,1218.28 L1040.91,1218.03 L1041.36,1217.77 L1041.82,1217.51 L1042.27,1217.25 L1042.73,1216.99 L1043.18,1216.73 L1043.64,1216.47 L1044.09,1216.20 L1044.55,1215.94 L1045.00,1215.67 L1045.45,1215.41 L1045.91,1215.14 L1046.36,1214.87 L1046.82,1214.60 L1047.27,1214.33 L1047.73,1214.06 L1048.18,1213.79 L1048.64,1213.51 L1049.09,1213.24 L1049.55,1212.96 L1050.00,1212.69 L1050.45,1212.41 L1050.91,1212.13 L1051.36,1211.85 L1051.82,1211.57 L1052.27,1211.29 L1052.73,1211.00 L1053.18,1210.72 L1053.64,1210.43 L1054.09,1210.15 L1054.55,1209.86 L1055.00,1209.57 L1055.45,1209.28 L1055.91,1208.99 L1056.36,1208.70 L1056.82,1208.40 L1057.27,1208.11 L1057.73,1207.82 L1058.18,1207.52 L1058.64,1207.22 L1059.09,1206.92 L1059.55,1206.62 L1060.00,1206.32 L1060.45,1206.01 L1060.91,1205.71 L1061.36,1205.40 L1061.82,1205.09 L1062.27,1204.78 L1062.73,1204.46 L1063.18,1204.14 L1063.64,1203.82 L1064.09,1203.50 L1064.55,1203.18 L1065.00,1202.85 L1065.45,1202.52 L1065.91,1202.18 L1066.36,1201.85 L1066.82,1201.51 L1067.27,1201.16 L1067.73,1200.81 L1068.18,1200.46 L1068.64,1200.11 L1069.09,1199.75 L1069.55,1199.39 L1070.00,1199.02 L1070.45,1198.65 L1070.91,1198.27 L1071.36,1197.89 L1071.82,1197.51 L1072.27,1197.12 L1072.73,1196.73 L1073.18,1196.33 L1073.64,1195.92 L1074.09,1195.52 L1074.55,1195.10 L1075.00,1194.68 L1075.45,1194.26 L1075.91,1193.83 L1076.36,1193.39 L1076.82,1192.95 L1077.27,1192.50 L1077.73,1192.05 L1078.18,1191.59 L1078.64,1191.12 L1079.09,1190.65 L1079.55,1190.17 L1080.00,1189.69 L1080.45,1189.20 L1080.91,1188.70 L1081.36,1188.19 L1081.82,1187.68 L1082.27,1187.16 L1082.73,1186.64 L1083.18,1186.10 L1083.64,1185.56 L1084.09,1185.01 L1084.55,1184.46 L1085.00,1183.89 L1085.45,1183.32 L1085.91,1182.74 L1086.36,1182.15 L1086.82,1181.56 L1087.27,1180.95 L1087.73,1180.34 L1088.18,1179.72 L1088.64,1179.09 L1089.09,1178.45 L1089.55,1177.81 L1090.00,1177.15 L1090.45,1176.48 L1090.91,1175.81 L1091.36,1175.13 L1091.82,1174.43 L1092.27,1173.73 L1092.73,1173.02 L1093.18,1172.29 L1093.64,1171.56 L1094.09,1170.82 L1094.55,1170.07 L1095.00,1169.31 L1095.45,1168.53 L1095.91,1167.75 L1096.36,1166.96 L1096.82,1166.16 L1097.27,1165.34 L1097.73,1164.51 L1098.18,1163.68 L1098.64,1162.83 L1099.09,1161.97 L1099.55,1161.10 L1100.00,1160.22 L1100.45,1159.33 L1100.91,1158.42 L1101.36,1157.51 L1101.82,1156.58 L1102.27,1155.64 L1102.73,1154.69 L1103.18,1153.72 L1103.64,1152.75 L1104.09,1151.76 L1104.55,1150.76 L1105.00,1149.74 L1105.45,1148.72 L1105.91,1147.68 L1106.36,1146.63 L1106.82,1145.56 L1107.27,1144.48 L1107.73,1143.39 L1108.18,1142.29 L1108.64,1141.17 L1109.09,1140.03 L1109.55,1138.89 L1110.00,1137.73 L1110.45,1136.56 L1110.91,1135.37 L1111.36,1134.17 L1111.82,1132.95 L1112.27,1131.72 L1112.73,1130.47 L1113.18,1129.21 L1113.64,1127.94 L1114.09,1126.65 L1114.55,1125.35 L1115.00,1124.03 L1115.45,1122.69 L1115.91,1121.34 L1116.36,1119.98 L1116.82,1118.60 L1117.27,1117.20 L1117.73,1115.79 L1118.18,1114.36 L1118.64,1112.92 L1119.09,1111.46 L1119.55,1109.99 L1120.00,1108.49 L1120.45,1106.99 L1120.91,1105.46 L1121.36,1103.92 L1121.82,1102.36 L1122.27,1100.79 L1122.73,1099.20 L1123.18,1097.59 L1123.64,1095.96 L1124.09,1094.32 L1124.55,1092.67 L1125.00,1090.99 L1125.45,1089.30 L1125.91,1087.60 L1126.36,1085.88 L1126.82,1084.14 L1127.27,1082.39 L1127.73,1080.63 L1128.18,1078.85 L1128.64,1077.06 L1129.09,1075.25 L1129.55,1073.43 L1130.00,1071.59 L1130.45,1069.74 L1130.91,1067.88 L1131.36,1066.00 L1131.82,1064.11 L1132.27,1062.21 L1132.73,1060.30 L1133.18,1058.37 L1133.64,1056.43 L1134.09,1054.48 L1134.55,1052.52 L1135.00,1050.54 L1135.45,1048.56 L1135.91,1046.56 L1136.36,1044.55 L1136.82,1042.53 L1137.27,1040.50 L1137.73,1038.46 L1138.18,1036.41 L1138.64,1034.35 L1139.09,1032.28 L1139.55,1030.20 L1140.00,1028.11 L1140.45,1026.01 L1140.91,1023.90 L1141.36,1021.78 L1141.82,1019.66 L1142.27,1017.52 L1142.73,1015.38 L1143.18,1013.23 L1143.64,1011.07 L1144.09,1008.90 L1144.55,1006.73 L1145.00,1004.55 L1145.45,1002.36 L1145.91,1000.16 L1146.36,997.95 L1146.82,995.74 L1147.27,993.52 L1147.73,991.29 L1148.18,989.05 L1148.64,986.80 L1149.09,984.54 L1149.55,982.28 L1150.00,980.00 L1150.45,977.72 L1150.91,975.42 L1151.36,973.12 L1151.82,970.81 L1152.27,968.49 L1152.73,966.16 L1153.18,963.82 L1153.64,961.46 L1154.09,959.10 L1154.55,956.73 L1155.00,954.35 L1155.45,951.96 L1155.91,949.55 L1156.36,947.14 L1156.82,944.71 L1157.27,942.28 L1157.73,939.83 L1158.18,937.37 L1158.64,934.91 L1159.09,932.42 L1159.55,929.93 L1160.00,927.43 L1160.45,924.91 L1160.91,922.38 L1161.36,919.84 L1161.82,917.29 L1162.27,914.73 L1162.73,912.15 L1163.18,909.56 L1163.64,906.96 L1164.09,904.35 L1164.55,901.72 L1165.00,899.08 L1165.45,896.42 L1165.91,893.76 L1166.36,891.08 L1166.82,888.38 L1167.27,885.67 L1167.73,882.95 L1168.18,880.22 L1168.64,877.47 L1169.09,874.71 L1169.55,871.94 L1170.00,869.16 L1170.45,866.37 L1170.91,863.57 L1171.36,860.76 L1171.82,857.93 L1172.27,855.10 L1172.73,852.26 L1173.18,849.41 L1173.64,846.55 L1174.09,843.68 L1174.55,840.81 L1175.00,837.93 L1175.45,835.04 L1175.91,832.15 L1176.36,829.25 L1176.82,826.34 L1177.27,823.43 L1177.73,820.51 L1178.18,817.59 L1178.64,814.66 L1179.09,811.73 L1179.55,808.80 L1180.00,805.86 L1180.45,802.93 L1180.91,799.98 L1181.36,797.04 L1181.82,794.10 L1182.27,791.15 L1182.73,788.20 L1183.18,785.25 L1183.64,782.31 L1184.09,779.36 L1184.55,776.41 L1185.00,773.46 L1185.45,770.52 L1185.91,767.57 L1186.36,764.63 L1186.82,761.69 L1187.27,758.76 L1187.73,755.83 L1188.18,752.90 L1188.64,749.97 L1189.09,747.05 L1189.55,744.13 L1190.00,741.22 L1190.45,738.31 L1190.91,735.41 L1191.36,732.52 L1191.82,729.63 L1192.27,726.75 L1192.73,723.88 L1193.18,721.01 L1193.64,718.15 L1194.09,715.30 L1194.55,712.46 L1195.00,709.63 L1195.45,706.81 L1195.91,703.99 L1196.36,701.19 L1196.82,698.40 L1197.27,695.62 L1197.73,692.85 L1198.18,690.09 L1198.64,687.35 L1199.09,684.61 L1199.55,681.89 L1200.00,679.19 L1200.45,676.49 L1200.91,673.81 L1201.36,671.15 L1201.82,668.50 L1202.27,665.86 L1202.73,663.24 L1203.18,660.64 L1203.64,658.05 L1204.09,655.48 L1204.55,652.92 L1205.00,650.38 L1205.45,647.86 L1205.91,645.36 L1206.36,642.88 L1206.82,640.41 L1207.27,637.96 L1207.73,635.53 L1208.18,633.11 L1208.64,630.71 L1209.09,628.33 L1209.55,625.97 L1210.00,623.62 L1210.45,621.29 L1210.91,618.98 L1211.36,616.68 L1211.82,614.40 L1212.27,612.14 L1212.73,609.89 L1213.18,607.66 L1213.64,605.45 L1214.09,603.25 L1214.55,601.07 L1215.00,598.90 L1215.45,596.75 L1215.91,594.62 L1216.36,592.50 L1216.82,590.40 L1217.27,588.31 L1217.73,586.24 L1218.18,584.18 L1218.64,582.14 L1219.09,580.12 L1219.55,578.11 L1220.00,576.12 L1220.45,574.14 L1220.91,572.17 L1221.36,570.22 L1221.82,568.29 L1222.27,566.37 L1222.73,564.47 L1223.18,562.58 L1223.64,560.70 L1224.09,558.84 L1224.55,556.99 L1225.00,555.16 L1225.45,553.34 L1225.91,551.54 L1226.36,549.75 L1226.82,547.98 L1227.27,546.21 L1227.73,544.47 L1228.18,542.73 L1228.64,541.01 L1229.09,539.31 L1229.55,537.61 L1230.00,535.93 L1230.45,534.27 L1230.91,532.61 L1231.36,530.97 L1231.82,529.35 L1232.27,527.73 L1232.73,526.13 L1233.18,524.54 L1233.64,522.97 L1234.09,521.41 L1234.55,519.86 L1235.00,518.32 L1235.45,516.80 L1235.91,515.29 L1236.36,513.79 L1236.82,512.30 L1237.27,510.82 L1237.73,509.36 L1238.18,507.91 L1238.64,506.47 L1239.09,505.04 L1239.55,503.63 L1240.00,502.23 L1240.45,500.83 L1240.91,499.45 L1241.36,498.08 L1241.82,496.73 L1242.27,495.38 L1242.73,494.05 L1243.18,492.72 L1243.64,491.41 L1244.09,490.11 L1244.55,488.82 L1245.00,487.54 L1245.45,486.27 L1245.91,485.01 L1246.36,483.76 L1246.82,482.52 L1247.27,481.30 L1247.73,480.08 L1248.18,478.88 L1248.64,477.68 L1249.09,476.49 L1249.55,475.32 L1250.00,474.15 L1250.45,473.00 L1250.91,471.85 L1251.36,470.71 L1251.82,469.59 L1252.27,468.47 L1252.73,467.36 L1253.18,466.26 L1253.64,465.18 L1254.09,464.10 L1254.55,463.03 L1255.00,461.96 L1255.45,460.91 L1255.91,459.87 L1256.36,458.83 L1256.82,457.81 L1257.27,456.79 L1257.73,455.78 L1258.18,454.78 L1258.64,453.79 L1259.09,452.81 L1259.55,451.84 L1260.00,450.87 L1260.45,449.91 L1260.91,448.96 L1261.36,448.02 L1261.82,447.08 L1262.27,446.16 L1262.73,445.24 L1263.18,444.33 L1263.64,443.43 L1264.09,442.53 L1264.55,441.64 L1265.00,440.76 L1265.45,439.89 L1265.91,439.02 L1266.36,438.16 L1266.82,437.31 L1267.27,436.46 L1267.73,435.62 L1268.18,434.79 L1268.64,433.96 L1269.09,433.14 L1269.55,432.32 L1270.00,431.51 L1270.45,430.71 L1270.91,429.90 L1271.36,429.10 L1271.82,428.31 L1272.27,427.52 L1272.73,426.73 L1273.18,425.94 L1273.64,425.16 L1274.09,424.37 L1274.55,423.59 L1275.00,422.82 L1275.45,422.04 L1275.91,421.26 L1276.36,420.49 L1276.82,419.71 L1277.27,418.94 L1277.73,418.16 L1278.18,417.38 L1278.64,416.61 L1279.09,415.83 L1279.55,415.05 L1280.00,414.27 L1280.45,413.48 L1280.91,412.70 L1281.36,411.91 L1281.82,411.12 L1282.27,410.32 L1282.73,409.52 L1283.18,408.72 L1283.64,407.91 L1284.09,407.10 L1284.55,406.28 L1285.00,405.46 L1285.45,404.63 L1285.91,403.80 L1286.36,402.96 L1286.82,402.12 L1287.27,401.26 L1287.73,400.41 L1288.18,399.54 L1288.64,398.67 L1289.09,397.79 L1289.55,396.91 L1290.00,396.02 L1290.45,395.13 L1290.91,394.24 L1291.36,393.35 L1291.82,392.46 L1292.27,391.56 L1292.73,390.67 L1293.18,389.77 L1293.64,388.88 L1294.09,387.99 L1294.55,387.11 L1295.00,386.22 L1295.45,385.35 L1295.91,384.47 L1296.36,383.61 L1296.82,382.75 L1297.27,381.89 L1297.73,381.05 L1298.18,380.21 L1298.64,379.38 L1299.09,378.57 L1299.55,377.76 L1300.00,376.97 L1300.45,376.18 L1300.91,375.41 L1301.36,374.66 L1301.82,373.92 L1302.27,373.19 L1302.73,372.47 L1303.18,371.77 L1303.64,371.09 L1304.09,370.41 L1304.55,369.76 L1305.00,369.11 L1305.45,368.48 L1305.91,367.86 L1306.36,367.26 L1306.82,366.67 L1307.27,366.10 L1307.73,365.54 L1308.18,364.99 L1308.64,364.46 L1309.09,363.95 L1309.55,363.44 L1310.00,362.96 L1310.45,362.48 L1310.91,362.02 L1311.36,361.58 L1311.82,361.14 L1312.27,360.73 L1312.73,360.33 L1313.18,359.94 L1313.64,359.56 L1314.09,359.21 L1314.55,358.86 L1315.00,358.53 L1315.45,358.22 L1315.91,357.92 L1316.36,357.63 L1316.82,357.36 L1317.27,357.10 L1317.73,356.86 L1318.18,356.63 L1318.64,356.42 L1319.09,356.22 L1319.55,356.04 L1320.00,355.87 L1320.45,355.72 L1320.91,355.58 L1321.36,355.46 L1321.82,355.35 L1322.27,355.26 L1322.73,355.18 L1323.18,355.12 L1323.64,355.07 L1324.09,355.03 L1324.55,355.02 L1325.00,355.01 L1325.45,355.02 L1325.91,355.05 L1326.36,355.09 L1326.82,355.15 L1327.27,355.22 L1327.73,355.31 L1328.18,355.41 L1328.64,355.53 L1329.09,355.67 L1329.55,355.82 L1330.00,355.98 L1330.45,356.16 L1330.91,356.35 L1331.36,356.56 L1331.82,356.79 L1332.27,357.03 L1332.73,357.29 L1333.18,357.56 L1333.64,357.85 L1334.09,358.15 L1334.55,358.47 L1335.00,358.81 L1335.45,359.16 L1335.91,359.52 L1336.36,359.91 L1336.82,360.30 L1337.27,360.72 L1337.73,361.14 L1338.18,361.59 L1338.64,362.05 L1339.09,362.53 L1339.55,363.02 L1340.00,363.53 L1340.45,364.05 L1340.91,364.59 L1341.36,365.15 L1341.82,365.72 L1342.27,366.31 L1342.73,366.91 L1343.18,367.53 L1343.64,368.17 L1344.09,368.82 L1344.55,369.49 L1345.00,370.17 L1345.45,370.87 L1345.91,371.59 L1346.36,372.32 L1346.82,373.07 L1347.27,373.84 L1347.73,374.62 L1348.18,375.42 L1348.64,376.23 L1349.09,377.06 L1349.55,377.91 L1350.00,378.77 L1350.45,379.65 L1350.91,380.55 L1351.36,381.46 L1351.82,382.39 L1352.27,383.34 L1352.73,384.30 L1353.18,385.28 L1353.64,386.27 L1354.09,387.28 L1354.55,388.31 L1355.00,389.36 L1355.45,390.42 L1355.91,391.50 L1356.36,392.60 L1356.82,393.71 L1357.27,394.84 L1357.73,395.98 L1358.18,397.15 L1358.64,398.33 L1359.09,399.52 L1359.55,400.74 L1360.00,401.97 L1360.45,403.21 L1360.91,404.48 L1361.36,405.76 L1361.82,407.06 L1362.27,408.37 L1362.73,409.70 L1363.18,411.04 L1363.64,412.40 L1364.09,413.77 L1364.55,415.16 L1365.00,416.56 L1365.45,417.98 L1365.91,419.41 L1366.36,420.86 L1366.82,422.31 L1367.27,423.79 L1367.73,425.27 L1368.18,426.77 L1368.64,428.27 L1369.09,429.80 L1369.55,431.33 L1370.00,432.87 L1370.45,434.43 L1370.91,436.00 L1371.36,437.58 L1371.82,439.17 L1372.27,440.77 L1372.73,442.38 L1373.18,444.01 L1373.64,445.65 L1374.09,447.29 L1374.55,448.95 L1375.00,450.63 L1375.45,452.31 L1375.91,454.00 L1376.36,455.71 L1376.82,457.42 L1377.27,459.15 L1377.73,460.89 L1378.18,462.64 L1378.64,464.40 L1379.09,466.17 L1379.55,467.95 L1380.00,469.75 L1380.45,471.55 L1380.91,473.37 L1381.36,475.20 L1381.82,477.03 L1382.27,478.88 L1382.73,480.75 L1383.18,482.62 L1383.64,484.50 L1384.09,486.40 L1384.55,488.31 L1385.00,490.22 L1385.45,492.16 L1385.91,494.10 L1386.36,496.05 L1386.82,498.02 L1387.27,499.99 L1387.73,501.98 L1388.18,503.98 L1388.64,505.99 L1389.09,508.02 L1389.55,510.05 L1390.00,512.10 L1390.45,514.16 L1390.91,516.23 L1391.36,518.31 L1391.82,520.41 L1392.27,522.52 L1392.73,524.63 L1393.18,526.77 L1393.64,528.91 L1394.09,531.07 L1394.55,533.23 L1395.00,535.41 L1395.45,537.61 L1395.91,539.81 L1396.36,542.03 L1396.82,544.26 L1397.27,546.50 L1397.73,548.76 L1398.18,551.02 L1398.64,553.30 L1399.09,555.59 L1399.55,557.90 L1400.00,560.22 L1400.45,562.55 L1400.91,564.89 L1401.36,567.24 L1401.82,569.61 L1402.27,571.99 L1402.73,574.39 L1403.18,576.79 L1403.64,579.21 L1404.09,581.64 L1404.55,584.09 L1405.00,586.55 L1405.45,589.02 L1405.91,591.50 L1406.36,594.00 L1406.82,596.51 L1407.27,599.03 L1407.73,601.57 L1408.18,604.12 L1408.64,606.69 L1409.09,609.26 L1409.55,611.85 L1410.00,614.46 L1410.45,617.07 L1410.91,619.70 L1411.36,622.35 L1411.82,625.00 L1412.27,627.67 L1412.73,630.36 L1413.18,633.06 L1413.64,635.77 L1414.09,638.49 L1414.55,641.23 L1415.00,643.98 L1415.45,646.75 L1415.91,649.53 L1416.36,652.32 L1416.82,655.12 L1417.27,657.93 L1417.73,660.76 L1418.18,663.60 L1418.64,666.44 L1419.09,669.30 L1419.55,672.17 L1420.00,675.05 L1420.45,677.94 L1420.91,680.84 L1421.36,683.74 L1421.82,686.66 L1422.27,689.58 L1422.73,692.51 L1423.18,695.45 L1423.64,698.40 L1424.09,701.35 L1424.55,704.32 L1425.00,707.28 L1425.45,710.26 L1425.91,713.24 L1426.36,716.22 L1426.82,719.21 L1427.27,722.21 L1427.73,725.21 L1428.18,728.21 L1428.64,731.22 L1429.09,734.23 L1429.55,737.25 L1430.00,740.27 L1430.45,743.29 L1430.91,746.32 L1431.36,749.34 L1431.82,752.37 L1432.27,755.40 L1432.73,758.43 L1433.18,761.46 L1433.64,764.50 L1434.09,767.53 L1434.55,770.56 L1435.00,773.59 L1435.45,776.63 L1435.91,779.66 L1436.36,782.69 L1436.82,785.72 L1437.27,788.74 L1437.73,791.77 L1438.18,794.79 L1438.64,797.81 L1439.09,800.82 L1439.55,803.83 L1440.00,806.84 L1440.45,809.85 L1440.91,812.85 L1441.36,815.84 L1441.82,818.83 L1442.27,821.82 L1442.73,824.80 L1443.18,827.77 L1443.64,830.74 L1444.09,833.70 L1444.55,836.65 L1445.00,839.60 L1445.45,842.54 L1445.91,845.47 L1446.36,848.39 L1446.82,851.31 L1447.27,854.21 L1447.73,857.11 L1448.18,860.00 L1448.64,862.88 L1449.09,865.75 L1449.55,868.60 L1450.00,871.45 L1450.45,874.29 L1450.91,877.11 L1451.36,879.93 L1451.82,882.73 L1452.27,885.52 L1452.73,888.29 L1453.18,891.06 L1453.64,893.81 L1454.09,896.55 L1454.55,899.27 L1455.00,901.98 L1455.45,904.68 L1455.91,907.36 L1456.36,910.03 L1456.82,912.68 L1457.27,915.31 L1457.73,917.93 L1458.18,920.54 L1458.64,923.13 L1459.09,925.70 L1459.55,928.26 L1460.00,930.81 L1460.45,933.34 L1460.91,935.85 L1461.36,938.35 L1461.82,940.84 L1462.27,943.31 L1462.73,945.76 L1463.18,948.21 L1463.64,950.63 L1464.09,953.04 L1464.55,955.44 L1465.00,957.82 L1465.45,960.19 L1465.91,962.54 L1466.36,964.88 L1466.82,967.21 L1467.27,969.52 L1467.73,971.81 L1468.18,974.10 L1468.64,976.36 L1469.09,978.62 L1469.55,980.86 L1470.00,983.08 L1470.45,985.29 L1470.91,987.49 L1471.36,989.67 L1471.82,991.84 L1472.27,994.00 L1472.73,996.14 L1473.18,998.27 L1473.64,1000.38 L1474.09,1002.48 L1474.55,1004.57 L1475.00,1006.64 L1475.45,1008.70 L1475.91,1010.75 L1476.36,1012.78 L1476.82,1014.80 L1477.27,1016.81 L1477.73,1018.80 L1478.18,1020.78 L1478.64,1022.75 L1479.09,1024.70 L1479.55,1026.64 L1480.00,1028.57 L1480.45,1030.48 L1480.91,1032.38 L1481.36,1034.27 L1481.82,1036.15 L1482.27,1038.01 L1482.73,1039.86 L1483.18,1041.69 L1483.64,1043.52 L1484.09,1045.33 L1484.55,1047.13 L1485.00,1048.91 L1485.45,1050.69 L1485.91,1052.45 L1486.36,1054.19 L1486.82,1055.93 L1487.27,1057.65 L1487.73,1059.36 L1488.18,1061.06 L1488.64,1062.75 L1489.09,1064.42 L1489.55,1066.09 L1490.00,1067.74 L1490.45,1069.37 L1490.91,1071.00 L1491.36,1072.61 L1491.82,1074.22 L1492.27,1075.81 L1492.73,1077.38 L1493.18,1078.95 L1493.64,1080.50 L1494.09,1082.05 L1494.55,1083.58 L1495.00,1085.10 L1495.45,1086.60 L1495.91,1088.10 L1496.36,1089.59 L1496.82,1091.06 L1497.27,1092.52 L1497.73,1093.97 L1498.18,1095.41 L1498.64,1096.84 L1499.09,1098.25 L1499.55,1099.66 L1500.00,1101.05 L1500.45,1102.44 L1500.91,1103.81 L1501.36,1105.17 L1501.82,1106.52 L1502.27,1107.86 L1502.73,1109.19 L1503.18,1110.50 L1503.64,1111.81 L1504.09,1113.11 L1504.55,1114.39 L1505.00,1115.67 L1505.45,1116.93 L1505.91,1118.19 L1506.36,1119.43 L1506.82,1120.67 L1507.27,1121.90 L1507.73,1123.12 L1508.18,1124.32 L1508.64,1125.53 L1509.09,1126.72 L1509.55,1127.90 L1510.00,1129.08 L1510.45,1130.24 L1510.91,1131.40 L1511.36,1132.56 L1511.82,1133.70 L1512.27,1134.84 L1512.73,1135.97 L1513.18,1137.09 L1513.64,1138.21 L1514.09,1139.32 L1514.55,1140.43 L1515.00,1141.52 L1515.45,1142.62 L1515.91,1143.70 L1516.36,1144.78 L1516.82,1145.86 L1517.27,1146.93 L1517.73,1148.00 L1518.18,1149.06 L1518.64,1150.11 L1519.09,1151.17 L1519.55,1152.21 L1520.00,1153.26 L1520.45,1154.30 L1520.91,1155.34 L1521.36,1156.37 L1521.82,1157.40 L1522.27,1158.42 L1522.73,1159.45 L1523.18,1160.47 L1523.64,1161.49 L1524.09,1162.50 L1524.55,1163.52 L1525.00,1164.53 L1525.45,1165.54 L1525.91,1166.55 L1526.36,1167.56 L1526.82,1168.56 L1527.27,1169.57 L1527.73,1170.57 L1528.18,1171.58 L1528.64,1172.58 L1529.09,1173.58 L1529.55,1174.58 L1530.00,1175.59 L1530.45,1176.59 L1530.91,1177.59 L1531.36,1178.60 L1531.82,1179.60 L1532.27,1180.61 L1532.73,1181.62 L1533.18,1182.63 L1533.64,1183.64 L1534.09,1184.65 L1534.55,1185.66 L1535.00,1186.68 L1535.45,1187.70 L1535.91,1188.72 L1536.36,1189.74 L1536.82,1190.77 L1537.27,1191.80 L1537.73,1192.83 L1538.18,1193.87 L1538.64,1194.91 L1539.09,1195.95 L1539.55,1196.99 L1540.00,1198.04 L1540.45,1199.08 L1540.91,1200.13 L1541.36,1201.18 L1541.82,1202.23 L1542.27,1203.28 L1542.73,1204.33 L1543.18,1205.38 L1543.64,1206.44 L1544.09,1207.49 L1544.55,1208.54 L1545.00,1209.59 L1545.45,1210.64 L1545.91,1211.68 L1546.36,1212.73 L1546.82,1213.78 L1547.27,1214.82 L1547.73,1215.86 L1548.18,1216.90 L1548.64,1217.93 L1549.09,1218.96 L1549.55,1219.99 L1550.00,1221.02 L1550.45,1222.04 L1550.91,1223.06 L1551.36,1224.08 L1551.82,1225.09 L1552.27,1226.09 L1552.73,1227.09 L1553.18,1228.09 L1553.64,1229.08 L1554.09,1230.06 L1554.55,1231.04 L1555.00,1232.01 L1555.45,1232.98 L1555.91,1233.94 L1556.36,1234.89 L1556.82,1235.84 L1557.27,1236.78 L1557.73,1237.71 L1558.18,1238.63 L1558.64,1239.55 L1559.09,1240.46 L1559.55,1241.36 L1560.00,1242.25 L1560.45,1243.13 L1560.91,1244.00 L1561.36,1244.86 L1561.82,1245.72 L1562.27,1246.56 L1562.73,1247.39 L1563.18,1248.22 L1563.64,1249.03 L1564.09,1249.83 L1564.55,1250.62 L1565.00,1251.40 L1565.45,1252.17 L1565.91,1252.92 L1566.36,1253.67 L1566.82,1254.40 L1567.27,1255.12 L1567.73,1255.82 L1568.18,1256.51 L1568.64,1257.19 L1569.09,1257.86 L1569.55,1258.51 L1570.00,1259.15 L1570.45,1259.77 L1570.91,1260.38 L1571.36,1260.98 L1571.82,1261.56 L1572.27,1262.12 L1572.73,1262.67 L1573.18,1263.21 L1573.64,1263.73 L1574.09,1264.23 L1574.55,1264.72 L1575.00,1265.19 L1575.45,1265.65 L1575.91,1266.10 L1576.36,1266.53 L1576.82,1266.94 L1577.27,1267.35 L1577.73,1267.74 L1578.18,1268.12 L1578.64,1268.48 L1579.09,1268.83 L1579.55,1269.18 L1580.00,1269.50 L1580.45,1269.82 L1580.91,1270.13 L1581.36,1270.42 L1581.82,1270.70 L1582.27,1270.98 L1582.73,1271.24 L1583.18,1271.49 L1583.64,1271.73 L1584.09,1271.97 L1584.55,1272.19 L1585.00,1272.40 L1585.45,1272.61 L1585.91,1272.81 L1586.36,1272.99 L1586.82,1273.17 L1587.27,1273.35 L1587.73,1273.51 L1588.18,1273.67 L1588.64,1273.82 L1589.09,1273.96 L1589.55,1274.10 L1590.00,1274.23 L1590.45,1274.35 L1590.91,1274.47 L1591.36,1274.58 L1591.82,1274.69 L1592.27,1274.79 L1592.73,1274.88 L1593.18,1274.97 L1593.64,1275.06 L1594.09,1275.15 L1594.55,1275.22 L1595.00,1275.30 L1595.45,1275.37 L1595.91,1275.44 L1596.36,1275.51 L1596.82,1275.57 L1597.27,1275.63 L1597.73,1275.69 L1598.18,1275.75 L1598.64,1275.80 L1599.09,1275.86 L1599.55,1275.91 L1600.00,1275.96 L1600.45,1276.01 L1600.91,1276.06 L1601.36,1276.11 L1601.82,1276.16 L1602.27,1276.21 L1602.73,1276.26 L1603.18,1276.30 L1603.64,1276.35 L1604.09,1276.40 L1604.55,1276.44 L1605.00,1276.49 L1605.45,1276.53 L1605.91,1276.57 L1606.36,1276.62 L1606.82,1276.66 L1607.27,1276.70 L1607.73,1276.74 L1608.18,1276.78 L1608.64,1276.82 L1609.09,1276.86 L1609.55,1276.90 L1610.00,1276.94 L1610.45,1276.97 L1610.91,1277.01 L1611.36,1277.05 L1611.82,1277.08 L1612.27,1277.12 L1612.73,1277.15 L1613.18,1277.19 L1613.64,1277.22 L1614.09,1277.25 L1614.55,1277.28 L1615.00,1277.32 L1615.45,1277.35 L1615.91,1277.38 L1616.36,1277.41 L1616.82,1277.44 L1617.27,1277.47 L1617.73,1277.50 L1618.18,1277.52 L1618.64,1277.55 L1619.09,1277.58 L1619.55,1277.61 L1620.00,1277.63 L1620.45,1277.66 L1620.91,1277.68 L1621.36,1277.71 L1621.82,1277.73 L1622.27,1277.76 L1622.73,1277.78 L1623.18,1277.80 L1623.64,1277.82 L1624.09,1277.85 L1624.55,1277.87 L1625.00,1277.89 L1625.45,1277.91 L1625.91,1277.93 L1626.36,1277.95 L1626.82,1277.97 L1627.27,1277.99 L1627.73,1278.01 L1628.18,1278.03 L1628.64,1278.04 L1629.09,1278.06 L1629.55,1278.08 L1630.00,1278.09 L1630.45,1278.11 L1630.91,1278.13 L1631.36,1278.14 L1631.82,1278.16 L1632.27,1278.17 L1632.73,1278.19 L1633.18,1278.20 L1633.64,1278.21 L1634.09,1278.23 L1634.55,1278.24 L1635.00,1278.25 L1635.45,1278.26 L1635.91,1278.28 L1636.36,1278.29 L1636.82,1278.30 L1637.27,1278.31 L1637.73,1278.32 L1638.18,1278.33 L1638.64,1278.34 L1639.09,1278.35 L1639.55,1278.36 L1640.00,1278.37 L1640.45,1278.38 L1640.91,1278.38 L1641.36,1278.39 L1641.82,1278.40 L1642.27,1278.41 L1642.73,1278.41 L1643.18,1278.42 L1643.64,1278.43 L1644.09,1278.43 L1644.55,1278.44 L1645.00,1278.45 L1645.45,1278.45 L1645.91,1278.46 L1646.36,1278.46 L1646.82,1278.47 L1647.27,1278.47 L1647.73,1278.48 L1648.18,1278.48 L1648.64,1278.49 L1649.09,1278.49 L1649.55,1278.49 L1650.00,1278.50 L1650.45,1278.50 L1650.91,1278.50 L1651.36,1278.50 L1651.82,1278.51 L1652.27,1278.51 L1652.73,1278.51 L1653.18,1278.51 L1653.64,1278.52 L1654.09,1278.52 L1654.55,1278.52 L1655.00,1278.52 L1655.45,1278.52 L1655.91,1278.52 L1656.36,1278.52 L1656.82,1278.52 L1657.27,1278.52 L1657.73,1278.53 L1658.18,1278.53 L1658.64,1278.53 L1659.09,1278.53 L1659.55,1278.53 L1660.00,1278.53 L1660.45,1278.53 L1660.91,1278.53 L1661.36,1278.52 L1661.82,1278.52 L1662.27,1278.52 L1662.73,1278.52 L1663.18,1278.52 L1663.64,1278.52 L1664.09,1278.52 L1664.55,1278.52 L1665.00,1278.52 L1665.45,1278.52 L1665.91,1278.52 L1666.36,1278.51 L1666.82,1278.51 L1667.27,1278.51 L1667.73,1278.51 L1668.18,1278.51 L1668.64,1278.51 L1669.09,1278.50 L1669.55,1278.50 L1670.00,1278.50 L1670.45,1278.50 L1670.91,1278.50 L1671.36,1278.50 L1671.82,1278.50 L1672.27,1278.49 L1672.73,1278.49 L1673.18,1278.49 L1673.64,1278.49 L1674.09,1278.49 L1674.55,1278.49 L1675.00,1278.48 L1675.45,1278.48 L1675.91,1278.48 L1676.36,1278.48 L1676.82,1278.48 L1677.27,1278.48 L1677.73,1278.47 L1678.18,1278.47 L1678.64,1278.47 L1679.09,1278.47 L1679.55,1278.47 L1680.00,1278.47 L1680.45,1278.47 L1680.91,1278.47 L1681.36,1278.47 L1681.82,1278.47 L1682.27,1278.46 L1682.73,1278.46 L1683.18,1278.46 L1683.64,1278.46 L1684.09,1278.46 L1684.55,1278.46 L1685.00,1278.46 L1685.45,1278.46 L1685.91,1278.46 L1686.36,1278.46 L1686.82,1278.46 L1687.27,1278.46 L1687.73,1278.47 L1688.18,1278.47 L1688.64,1278.47 L1689.09,1278.47 L1689.55,1278.47 L1690.00,1278.47 L1690.45,1278.47 L1690.91,1278.47 L1691.36,1278.48 L1691.82,1278.48 L1692.27,1278.48 L1692.73,1278.48 L1693.18,1278.49 L1693.64,1278.49 L1694.09,1278.49 L1694.55,1278.50 L1695.00,1278.50 L1695.45,1278.50 L1695.91,1278.51 L1696.36,1278.51 L1696.82,1278.52 L1697.27,1278.52" fill="none" stroke="#1A68DC" stroke-width="9.4" stroke-linejoin="round" stroke-linecap="butt"/></g>
<polygon points="268.0,1269.86 270.0,1269.84 272.0,1269.82 274.0,1269.81 276.0,1269.79 278.0,1269.77 280.0,1269.75 282.0,1269.73 284.0,1269.72 286.0,1269.70 288.0,1269.68 290.0,1269.66 292.0,1269.64 294.0,1269.62 296.0,1269.60 298.0,1269.58 300.0,1269.56 302.0,1269.54 304.0,1269.52 306.0,1269.50 308.0,1269.48 310.0,1269.46 312.0,1269.44 314.0,1269.42 316.0,1269.40 318.0,1269.37 320.0,1269.35 322.0,1269.33 324.0,1269.31 326.0,1269.28 328.0,1269.26 330.0,1269.24 332.0,1269.21 334.0,1269.19 336.0,1269.17 338.0,1269.14 340.0,1269.12 342.0,1269.10 344.0,1269.07 346.0,1269.05 348.0,1269.02 350.0,1269.00 352.0,1268.97 354.0,1268.94 356.0,1268.92 358.0,1268.89 360.0,1268.87 362.0,1268.84 364.0,1268.81 366.0,1268.79 368.0,1268.76 370.0,1268.73 372.0,1268.71 374.0,1268.68 376.0,1268.65 378.0,1268.62 380.0,1268.60 382.0,1268.57 384.0,1268.54 386.0,1268.51 388.0,1268.48 390.0,1268.45 392.0,1268.42 394.0,1268.39 396.0,1268.36 398.0,1268.33 400.0,1268.30 402.0,1268.27 404.0,1268.24 406.0,1268.21 408.0,1268.18 410.0,1268.15 412.0,1268.12 414.0,1268.09 416.0,1268.06 418.0,1268.03 420.0,1267.99 422.0,1267.96 424.0,1267.93 426.0,1267.90 428.0,1267.86 430.0,1267.83 432.0,1267.80 434.0,1267.77 436.0,1267.73 438.0,1267.70 440.0,1267.67 442.0,1267.63 444.0,1267.60 446.0,1267.56 448.0,1267.53 450.0,1267.50 452.0,1267.46 454.0,1267.43 456.0,1267.39 458.0,1267.36 460.0,1267.32 462.0,1267.28 464.0,1267.25 466.0,1267.21 468.0,1267.18 470.0,1267.14 472.0,1267.10 474.0,1267.07 476.0,1267.03 478.0,1266.99 480.0,1266.96 482.0,1266.92 484.0,1266.88 486.0,1266.85 488.0,1266.81 490.0,1266.77 492.0,1266.73 494.0,1266.69 496.0,1266.66 498.0,1266.62 500.0,1266.58 502.0,1266.54 504.0,1266.50 506.0,1266.46 508.0,1266.42 510.0,1266.38 512.0,1266.34 514.0,1266.30 516.0,1266.26 518.0,1266.22 520.0,1266.18 522.0,1266.14 524.0,1266.10 526.0,1266.06 528.0,1266.02 530.0,1265.98 532.0,1265.94 534.0,1265.90 536.0,1265.86 538.0,1265.81 540.0,1265.77 542.0,1265.73 544.0,1265.69 546.0,1265.65 548.0,1265.60 550.0,1265.56 552.0,1265.52 554.0,1265.48 556.0,1265.43 558.0,1265.39 560.0,1265.35 562.0,1265.30 564.0,1265.26 566.0,1265.22 568.0,1265.17 570.0,1265.13 572.0,1265.09 574.0,1265.04 576.0,1265.00 578.0,1264.95 580.0,1264.91 582.0,1264.86 584.0,1264.82 586.0,1264.77 588.0,1264.73 590.0,1264.68 592.0,1264.64 594.0,1264.59 596.0,1264.55 598.0,1264.50 600.0,1264.45 602.0,1264.41 604.0,1264.36 606.0,1264.32 608.0,1264.27 610.0,1264.22 612.0,1264.18 614.0,1264.13 616.0,1264.08 618.0,1264.03 620.0,1263.99 622.0,1263.94 624.0,1263.89 626.0,1263.84 628.0,1263.80 630.0,1263.75 632.0,1263.70 634.0,1263.65 636.0,1263.60 638.0,1263.56 640.0,1263.51 642.0,1263.46 644.0,1263.41 646.0,1263.36 648.0,1263.31 650.0,1263.26 652.0,1263.21 654.0,1263.16 656.0,1263.11 658.0,1263.06 660.0,1263.01 662.0,1262.96 664.0,1262.91 666.0,1262.86 668.0,1262.81 670.0,1262.76 672.0,1262.71 674.0,1262.66 676.0,1262.61 678.0,1262.56 680.0,1262.51 682.0,1262.46 684.0,1262.41 686.0,1262.36 688.0,1262.31 690.0,1262.25 692.0,1262.20 694.0,1262.15 696.0,1262.10 698.0,1262.05 700.0,1262.00 702.0,1261.95 704.0,1261.90 706.0,1261.85 708.0,1261.80 710.0,1261.75 712.0,1261.70 714.0,1261.65 716.0,1261.60 718.0,1261.54 720.0,1261.49 722.0,1261.44 724.0,1261.39 726.0,1261.34 728.0,1261.29 730.0,1261.24 732.0,1261.19 734.0,1261.14 736.0,1261.09 738.0,1261.03 740.0,1260.98 742.0,1260.93 744.0,1260.88 746.0,1260.83 748.0,1260.77 750.0,1260.72 752.0,1260.67 754.0,1260.62 756.0,1260.57 758.0,1260.51 760.0,1260.46 762.0,1260.41 764.0,1260.36 766.0,1260.30 768.0,1260.25 770.0,1260.20 772.0,1260.14 774.0,1260.09 776.0,1260.04 778.0,1259.98 780.0,1259.93 782.0,1259.88 784.0,1259.82 786.0,1259.77 788.0,1259.72 790.0,1259.66 792.0,1259.61 794.0,1259.55 796.0,1259.50 798.0,1259.45 800.0,1259.39 802.0,1259.34 804.0,1259.28 806.0,1259.23 808.0,1259.17 810.0,1259.12 812.0,1259.06 814.0,1259.01 816.0,1258.95 818.0,1258.90 820.0,1258.84 822.0,1258.79 824.0,1258.73 826.0,1258.68 828.0,1258.62 830.0,1258.57 832.0,1258.51 834.0,1258.46 836.0,1258.40 838.0,1258.35 840.0,1258.29 842.0,1258.23 844.0,1258.18 846.0,1258.12 848.0,1258.07 850.0,1258.01 852.0,1257.95 854.0,1257.90 856.0,1257.84 858.0,1257.78 860.0,1257.73 862.0,1257.67 864.0,1257.62 866.0,1257.56 868.0,1257.50 870.0,1257.45 872.0,1257.39 874.0,1257.33 876.0,1257.27 878.0,1257.22 880.0,1257.16 882.0,1257.10 884.0,1257.05 886.0,1256.99 888.0,1256.93 890.0,1256.87 892.0,1256.82 894.0,1256.76 896.0,1256.70 898.0,1256.64 900.0,1256.59 902.0,1256.53 904.0,1256.47 906.0,1256.41 908.0,1256.36 910.0,1256.30 912.0,1256.27 914.0,1256.23 916.0,1256.20 918.0,1256.17 920.0,1256.13 922.0,1256.10 924.0,1256.06 926.0,1256.02 928.0,1255.99 930.0,1255.95 932.0,1255.91 934.0,1255.86 936.0,1255.82 938.0,1255.77 940.0,1255.73 942.0,1255.68 944.0,1255.62 946.0,1255.57 948.0,1255.51 950.0,1255.45 952.0,1255.39 954.0,1255.32 956.0,1255.26 958.0,1255.18 960.0,1255.11 962.0,1255.03 964.0,1254.95 966.0,1254.86 968.0,1254.77 970.0,1254.68 972.0,1254.58 974.0,1254.47 976.0,1254.37 978.0,1254.25 980.0,1254.14 982.0,1254.01 984.0,1253.89 986.0,1253.76 988.0,1253.62 990.0,1253.48 992.0,1253.33 994.0,1253.17 996.0,1253.01 998.0,1252.85 1000.0,1252.67 1002.0,1252.49 1004.0,1252.31 1006.0,1252.11 1008.0,1251.91 1010.0,1251.71 1012.0,1251.49 1014.0,1251.27 1016.0,1251.05 1018.0,1250.81 1020.0,1250.57 1022.0,1250.32 1024.0,1250.06 1026.0,1249.79 1028.0,1249.52 1030.0,1249.24 1032.0,1248.94 1034.0,1248.64 1036.0,1248.34 1038.0,1248.02 1040.0,1247.69 1042.0,1247.36 1044.0,1247.01 1046.0,1246.66 1048.0,1246.30 1050.0,1245.92 1052.0,1245.54 1054.0,1245.15 1056.0,1244.75 1058.0,1244.33 1060.0,1243.91 1060.0,1253.31 1058.0,1253.79 1056.0,1254.25 1054.0,1254.71 1052.0,1255.15 1050.0,1255.59 1048.0,1256.02 1046.0,1256.43 1044.0,1256.84 1042.0,1257.24 1040.0,1257.63 1038.0,1258.01 1036.0,1258.38 1034.0,1258.74 1032.0,1259.09 1030.0,1259.44 1028.0,1259.77 1026.0,1260.10 1024.0,1260.42 1022.0,1260.73 1020.0,1261.03 1018.0,1261.33 1016.0,1261.62 1014.0,1261.90 1012.0,1262.17 1010.0,1262.44 1008.0,1262.70 1006.0,1262.95 1004.0,1263.20 1002.0,1263.44 1000.0,1263.67 998.0,1263.90 996.0,1264.12 994.0,1264.34 992.0,1264.55 990.0,1264.75 988.0,1264.95 986.0,1265.14 984.0,1265.33 982.0,1265.51 980.0,1265.69 978.0,1265.86 976.0,1266.03 974.0,1266.20 972.0,1266.35 970.0,1266.51 968.0,1266.66 966.0,1266.80 964.0,1266.95 962.0,1267.08 960.0,1267.22 958.0,1267.35 956.0,1267.48 954.0,1267.60 952.0,1267.72 950.0,1267.84 948.0,1267.96 946.0,1268.07 944.0,1268.18 942.0,1268.29 940.0,1268.39 938.0,1268.50 936.0,1268.60 934.0,1268.70 932.0,1268.80 930.0,1268.89 928.0,1268.99 926.0,1269.08 924.0,1269.17 922.0,1269.26 920.0,1269.35 918.0,1269.44 916.0,1269.53 914.0,1269.62 912.0,1269.71 910.0,1269.80 908.0,1269.86 906.0,1269.92 904.0,1269.99 902.0,1270.05 900.0,1270.11 898.0,1270.17 896.0,1270.24 894.0,1270.30 892.0,1270.36 890.0,1270.42 888.0,1270.48 886.0,1270.55 884.0,1270.61 882.0,1270.67 880.0,1270.73 878.0,1270.79 876.0,1270.86 874.0,1270.92 872.0,1270.98 870.0,1271.04 868.0,1271.10 866.0,1271.16 864.0,1271.22 862.0,1271.29 860.0,1271.35 858.0,1271.41 856.0,1271.47 854.0,1271.53 852.0,1271.59 850.0,1271.65 848.0,1271.71 846.0,1271.77 844.0,1271.84 842.0,1271.90 840.0,1271.96 838.0,1272.02 836.0,1272.08 834.0,1272.14 832.0,1272.20 830.0,1272.26 828.0,1272.32 826.0,1272.38 824.0,1272.44 822.0,1272.50 820.0,1272.56 818.0,1272.62 816.0,1272.68 814.0,1272.74 812.0,1272.80 810.0,1272.86 808.0,1272.92 806.0,1272.98 804.0,1273.03 802.0,1273.09 800.0,1273.15 798.0,1273.21 796.0,1273.27 794.0,1273.33 792.0,1273.39 790.0,1273.45 788.0,1273.51 786.0,1273.56 784.0,1273.62 782.0,1273.68 780.0,1273.74 778.0,1273.80 776.0,1273.86 774.0,1273.91 772.0,1273.97 770.0,1274.03 768.0,1274.09 766.0,1274.15 764.0,1274.20 762.0,1274.26 760.0,1274.32 758.0,1274.38 756.0,1274.43 754.0,1274.49 752.0,1274.55 750.0,1274.60 748.0,1274.66 746.0,1274.72 744.0,1274.77 742.0,1274.83 740.0,1274.89 738.0,1274.94 736.0,1275.00 734.0,1275.06 732.0,1275.11 730.0,1275.17 728.0,1275.22 726.0,1275.28 724.0,1275.34 722.0,1275.39 720.0,1275.45 718.0,1275.50 716.0,1275.56 714.0,1275.61 712.0,1275.67 710.0,1275.72 708.0,1275.78 706.0,1275.83 704.0,1275.89 702.0,1275.94 700.0,1276.00 698.0,1276.05 696.0,1276.10 694.0,1276.15 692.0,1276.20 690.0,1276.25 688.0,1276.31 686.0,1276.36 684.0,1276.41 682.0,1276.46 680.0,1276.51 678.0,1276.56 676.0,1276.61 674.0,1276.66 672.0,1276.71 670.0,1276.76 668.0,1276.81 666.0,1276.86 664.0,1276.91 662.0,1276.96 660.0,1277.01 658.0,1277.06 656.0,1277.11 654.0,1277.16 652.0,1277.21 650.0,1277.26 648.0,1277.31 646.0,1277.36 644.0,1277.41 642.0,1277.46 640.0,1277.51 638.0,1277.56 636.0,1277.60 634.0,1277.65 632.0,1277.70 630.0,1277.75 628.0,1277.80 626.0,1277.84 624.0,1277.89 622.0,1277.94 620.0,1277.99 618.0,1278.03 616.0,1278.08 614.0,1278.13 612.0,1278.18 610.0,1278.22 608.0,1278.27 606.0,1278.32 604.0,1278.36 602.0,1278.41 600.0,1278.45 598.0,1278.50 596.0,1278.55 594.0,1278.59 592.0,1278.64 590.0,1278.68 588.0,1278.73 586.0,1278.77 584.0,1278.82 582.0,1278.86 580.0,1278.91 578.0,1278.95 576.0,1279.00 574.0,1279.04 572.0,1279.09 570.0,1279.13 568.0,1279.17 566.0,1279.22 564.0,1279.26 562.0,1279.30 560.0,1279.35 558.0,1279.39 556.0,1279.43 554.0,1279.48 552.0,1279.52 550.0,1279.56 548.0,1279.60 546.0,1279.65 544.0,1279.69 542.0,1279.73 540.0,1279.77 538.0,1279.81 536.0,1279.86 534.0,1279.90 532.0,1279.94 530.0,1279.98 528.0,1280.02 526.0,1280.06 524.0,1280.10 522.0,1280.14 520.0,1280.18 518.0,1280.22 516.0,1280.26 514.0,1280.30 512.0,1280.34 510.0,1280.38 508.0,1280.42 506.0,1280.46 504.0,1280.50 502.0,1280.54 500.0,1280.58 498.0,1280.62 496.0,1280.66 494.0,1280.69 492.0,1280.73 490.0,1280.77 488.0,1280.81 486.0,1280.85 484.0,1280.88 482.0,1280.92 480.0,1280.96 478.0,1280.99 476.0,1281.03 474.0,1281.07 472.0,1281.10 470.0,1281.14 468.0,1281.18 466.0,1281.21 464.0,1281.25 462.0,1281.28 460.0,1281.32 458.0,1281.36 456.0,1281.39 454.0,1281.43 452.0,1281.46 450.0,1281.50 448.0,1281.53 446.0,1281.56 444.0,1281.60 442.0,1281.63 440.0,1281.67 438.0,1281.70 436.0,1281.73 434.0,1281.77 432.0,1281.80 430.0,1281.83 428.0,1281.86 426.0,1281.90 424.0,1281.93 422.0,1281.96 420.0,1281.99 418.0,1282.03 416.0,1282.06 414.0,1282.09 412.0,1282.12 410.0,1282.15 408.0,1282.18 406.0,1282.21 404.0,1282.24 402.0,1282.27 400.0,1282.30 398.0,1282.33 396.0,1282.36 394.0,1282.39 392.0,1282.42 390.0,1282.45 388.0,1282.48 386.0,1282.51 384.0,1282.54 382.0,1282.57 380.0,1282.60 378.0,1282.62 376.0,1282.65 374.0,1282.68 372.0,1282.71 370.0,1282.73 368.0,1282.76 366.0,1282.79 364.0,1282.81 362.0,1282.84 360.0,1282.87 358.0,1282.89 356.0,1282.92 354.0,1282.94 352.0,1282.97 350.0,1283.00 348.0,1283.02 346.0,1283.05 344.0,1283.07 342.0,1283.10 340.0,1283.12 338.0,1283.14 336.0,1283.17 334.0,1283.19 332.0,1283.21 330.0,1283.24 328.0,1283.26 326.0,1283.28 324.0,1283.31 322.0,1283.33 320.0,1283.35 318.0,1283.37 316.0,1283.40 314.0,1283.42 312.0,1283.44 310.0,1283.46 308.0,1283.48 306.0,1283.50 304.0,1283.52 302.0,1283.54 300.0,1283.56 298.0,1283.58 296.0,1283.60 294.0,1283.62 292.0,1283.64 290.0,1283.66 288.0,1283.68 286.0,1283.70 284.0,1283.72 282.0,1283.73 280.0,1283.75 278.0,1283.77 276.0,1283.79 274.0,1283.81 272.0,1283.82 270.0,1283.84 268.0,1283.86" fill="#1A68DC"/>
<polygon points="284.30,1252.97 303.50,1283.77 265.10,1283.77" fill="#1A68DC"/>
<polygon points="337.37,1252.77 356.57,1283.57 318.17,1283.57" fill="#1A68DC"/>
<polygon points="396.21,1252.77 415.41,1283.57 377.01,1283.57" fill="#1A68DC"/>
<polygon points="455.05,1251.47 474.25,1282.27 435.85,1282.27" fill="#1A68DC"/>
<polygon points="513.89,1250.17 533.09,1280.97 494.69,1280.97" fill="#1A68DC"/>
<polygon points="572.73,1247.67 591.93,1278.47 553.53,1278.47" fill="#1A68DC"/>
<polygon points="631.57,1245.17 650.77,1275.97 612.37,1275.97" fill="#1A68DC"/>
<polygon points="690.41,1243.87 709.61,1274.67 671.21,1274.67" fill="#1A68DC"/>
<polygon points="749.25,1242.67 768.45,1273.47 730.05,1273.47" fill="#1A68DC"/>
<polygon points="808.09,1242.27 827.29,1273.07 788.89,1273.07" fill="#1A68DC"/>
<polygon points="866.93,1239.67 886.13,1270.47 847.73,1270.47" fill="#1A68DC"/>
<polygon points="927.20,1238.57 946.40,1269.37 908.00,1269.37" fill="#1A68DC"/>
<polygon points="983.90,1233.27 1003.10,1264.07 964.70,1264.07" fill="#1A68DC"/>
<polygon points="1043.70,1228.77 1062.90,1259.57 1024.50,1259.57" fill="#1A68DC"/>
<polygon points="1103.40,1215.17 1122.60,1245.97 1084.20,1245.97" fill="#1A68DC"/>
<polygon points="1163.00,1188.27 1182.20,1219.07 1143.80,1219.07" fill="#1A68DC"/>
<polygon points="1219.70,1121.27 1238.90,1152.07 1200.50,1152.07" fill="#1A68DC"/>
<polygon points="1279.00,898.27 1298.20,929.07 1259.80,929.07" fill="#1A68DC"/>
<polygon points="1339.00,570.27 1358.20,601.07 1319.80,601.07" fill="#1A68DC"/>
<polygon points="1401.50,400.47 1420.70,431.27 1382.30,431.27" fill="#1A68DC"/>
<polygon points="1455.80,333.97 1475.00,364.77 1436.60,364.77" fill="#1A68DC"/>
<polygon points="1516.20,442.47 1535.40,473.27 1497.00,473.27" fill="#1A68DC"/>
<polygon points="1572.80,725.17 1592.00,755.97 1553.60,755.97" fill="#1A68DC"/>
<polygon points="1630.50,1030.77 1649.70,1061.57 1611.30,1061.57" fill="#1A68DC"/>
<polygon points="1690.80,1169.77 1710.00,1200.57 1671.60,1200.57" fill="#1A68DC"/>
<polygon points="1748.70,1250.07 1767.90,1280.87 1729.50,1280.87" fill="#1A68DC"/>
<polygon points="1808.00,1250.47 1827.20,1281.27 1788.80,1281.27" fill="#1A68DC"/>
<polygon points="1866.20,1254.67 1885.40,1285.47 1847.00,1285.47" fill="#1A68DC"/>
<g transform="scale(1.1,1)"><path d="M243.64,1292.07 L244.09,1292.08 L244.55,1292.08 L245.00,1292.08 L245.45,1292.08 L245.91,1292.09 L246.36,1292.09 L246.82,1292.09 L247.27,1292.09 L247.73,1292.10 L248.18,1292.10 L248.64,1292.10 L249.09,1292.10 L249.55,1292.11 L250.00,1292.11 L250.45,1292.11 L250.91,1292.11 L251.36,1292.12 L251.82,1292.12 L252.27,1292.12 L252.73,1292.12 L253.18,1292.12 L253.64,1292.12 L254.09,1292.13 L254.55,1292.13 L255.00,1292.13 L255.45,1292.13 L255.91,1292.13 L256.36,1292.13 L256.82,1292.14 L257.27,1292.14 L257.73,1292.14 L258.18,1292.14 L258.64,1292.14 L259.09,1292.14 L259.55,1292.14 L260.00,1292.14 L260.45,1292.14 L260.91,1292.15 L261.36,1292.15 L261.82,1292.15 L262.27,1292.15 L262.73,1292.15 L263.18,1292.15 L263.64,1292.15 L264.09,1292.15 L264.55,1292.15 L265.00,1292.15 L265.45,1292.15 L265.91,1292.15 L266.36,1292.15 L266.82,1292.15 L267.27,1292.15 L267.73,1292.15 L268.18,1292.15 L268.64,1292.15 L269.09,1292.15 L269.55,1292.15 L270.00,1292.15 L270.45,1292.15 L270.91,1292.15 L271.36,1292.15 L271.82,1292.15 L272.27,1292.15 L272.73,1292.15 L273.18,1292.15 L273.64,1292.15 L274.09,1292.15 L274.55,1292.15 L275.00,1292.15 L275.45,1292.15 L275.91,1292.15 L276.36,1292.15 L276.82,1292.15 L277.27,1292.14 L277.73,1292.14 L278.18,1292.14 L278.64,1292.14 L279.09,1292.14 L279.55,1292.14 L280.00,1292.14 L280.45,1292.14 L280.91,1292.13 L281.36,1292.13 L281.82,1292.13 L282.27,1292.13 L282.73,1292.13 L283.18,1292.13 L283.64,1292.13 L284.09,1292.12 L284.55,1292.12 L285.00,1292.12 L285.45,1292.12 L285.91,1292.12 L286.36,1292.11 L286.82,1292.11 L287.27,1292.11 L287.73,1292.11 L288.18,1292.11 L288.64,1292.10 L289.09,1292.10 L289.55,1292.10 L290.00,1292.10 L290.45,1292.10 L290.91,1292.09 L291.36,1292.09 L291.82,1292.09 L292.27,1292.09 L292.73,1292.08 L293.18,1292.08 L293.64,1292.08 L294.09,1292.07 L294.55,1292.07 L295.00,1292.07 L295.45,1292.07 L295.91,1292.06 L296.36,1292.06 L296.82,1292.06 L297.27,1292.05 L297.73,1292.05 L298.18,1292.05 L298.64,1292.04 L299.09,1292.04 L299.55,1292.04 L300.00,1292.03 L300.45,1292.03 L300.91,1292.03 L301.36,1292.02 L301.82,1292.02 L302.27,1292.02 L302.73,1292.01 L303.18,1292.01 L303.64,1292.01 L304.09,1292.00 L304.55,1292.00 L305.00,1291.99 L305.45,1291.99 L305.91,1291.99 L306.36,1291.98 L306.82,1291.98 L307.27,1291.97 L307.73,1291.97 L308.18,1291.97 L308.64,1291.96 L309.09,1291.96 L309.55,1291.95 L310.00,1291.95 L310.45,1291.94 L310.91,1291.94 L311.36,1291.94 L311.82,1291.93 L312.27,1291.93 L312.73,1291.92 L313.18,1291.92 L313.64,1291.91 L314.09,1291.91 L314.55,1291.90 L315.00,1291.90 L315.45,1291.89 L315.91,1291.89 L316.36,1291.88 L316.82,1291.88 L317.27,1291.87 L317.73,1291.87 L318.18,1291.86 L318.64,1291.86 L319.09,1291.85 L319.55,1291.85 L320.00,1291.84 L320.45,1291.84 L320.91,1291.83 L321.36,1291.82 L321.82,1291.82 L322.27,1291.81 L322.73,1291.81 L323.18,1291.80 L323.64,1291.80 L324.09,1291.79 L324.55,1291.79 L325.00,1291.78 L325.45,1291.77 L325.91,1291.77 L326.36,1291.76 L326.82,1291.76 L327.27,1291.75 L327.73,1291.74 L328.18,1291.74 L328.64,1291.73 L329.09,1291.73 L329.55,1291.72 L330.00,1291.71 L330.45,1291.71 L330.91,1291.70 L331.36,1291.69 L331.82,1291.69 L332.27,1291.68 L332.73,1291.67 L333.18,1291.67 L333.64,1291.66 L334.09,1291.66 L334.55,1291.65 L335.00,1291.64 L335.45,1291.63 L335.91,1291.63 L336.36,1291.62 L336.82,1291.61 L337.27,1291.61 L337.73,1291.60 L338.18,1291.59 L338.64,1291.59 L339.09,1291.58 L339.55,1291.57 L340.00,1291.57 L340.45,1291.56 L340.91,1291.55 L341.36,1291.54 L341.82,1291.54 L342.27,1291.53 L342.73,1291.52 L343.18,1291.51 L343.64,1291.51 L344.09,1291.50 L344.55,1291.49 L345.00,1291.48 L345.45,1291.48 L345.91,1291.47 L346.36,1291.46 L346.82,1291.45 L347.27,1291.45 L347.73,1291.44 L348.18,1291.43 L348.64,1291.42 L349.09,1291.41 L349.55,1291.41 L350.00,1291.40 L350.45,1291.39 L350.91,1291.38 L351.36,1291.37 L351.82,1291.37 L352.27,1291.36 L352.73,1291.35 L353.18,1291.34 L353.64,1291.33 L354.09,1291.32 L354.55,1291.32 L355.00,1291.31 L355.45,1291.30 L355.91,1291.29 L356.36,1291.28 L356.82,1291.27 L357.27,1291.27 L357.73,1291.26 L358.18,1291.25 L358.64,1291.24 L359.09,1291.23 L359.55,1291.22 L360.00,1291.21 L360.45,1291.20 L360.91,1291.20 L361.36,1291.19 L361.82,1291.18 L362.27,1291.17 L362.73,1291.16 L363.18,1291.15 L363.64,1291.14 L364.09,1291.13 L364.55,1291.12 L365.00,1291.11 L365.45,1291.10 L365.91,1291.10 L366.36,1291.09 L366.82,1291.08 L367.27,1291.07 L367.73,1291.06 L368.18,1291.05 L368.64,1291.04 L369.09,1291.03 L369.55,1291.02 L370.00,1291.01 L370.45,1291.00 L370.91,1290.99 L371.36,1290.98 L371.82,1290.97 L372.27,1290.96 L372.73,1290.95 L373.18,1290.94 L373.64,1290.93 L374.09,1290.92 L374.55,1290.91 L375.00,1290.90 L375.45,1290.89 L375.91,1290.88 L376.36,1290.87 L376.82,1290.86 L377.27,1290.85 L377.73,1290.84 L378.18,1290.83 L378.64,1290.82 L379.09,1290.81 L379.55,1290.80 L380.00,1290.79 L380.45,1290.78 L380.91,1290.77 L381.36,1290.76 L381.82,1290.75 L382.27,1290.74 L382.73,1290.73 L383.18,1290.72 L383.64,1290.71 L384.09,1290.70 L384.55,1290.69 L385.00,1290.68 L385.45,1290.67 L385.91,1290.66 L386.36,1290.64 L386.82,1290.63 L387.27,1290.62 L387.73,1290.61 L388.18,1290.60 L388.64,1290.59 L389.09,1290.58 L389.55,1290.57 L390.00,1290.56 L390.45,1290.55 L390.91,1290.54 L391.36,1290.52 L391.82,1290.51 L392.27,1290.50 L392.73,1290.49 L393.18,1290.48 L393.64,1290.47 L394.09,1290.46 L394.55,1290.45 L395.00,1290.44 L395.45,1290.42 L395.91,1290.41 L396.36,1290.40 L396.82,1290.39 L397.27,1290.38 L397.73,1290.37 L398.18,1290.36 L398.64,1290.34 L399.09,1290.33 L399.55,1290.32 L400.00,1290.31 L400.45,1290.30 L400.91,1290.29 L401.36,1290.27 L401.82,1290.26 L402.27,1290.25 L402.73,1290.24 L403.18,1290.23 L403.64,1290.21 L404.09,1290.20 L404.55,1290.19 L405.00,1290.18 L405.45,1290.17 L405.91,1290.16 L406.36,1290.14 L406.82,1290.13 L407.27,1290.12 L407.73,1290.11 L408.18,1290.09 L408.64,1290.08 L409.09,1290.07 L409.55,1290.06 L410.00,1290.05 L410.45,1290.03 L410.91,1290.02 L411.36,1290.01 L411.82,1290.00 L412.27,1289.98 L412.73,1289.97 L413.18,1289.96 L413.64,1289.95 L414.09,1289.93 L414.55,1289.92 L415.00,1289.91 L415.45,1289.90 L415.91,1289.88 L416.36,1289.87 L416.82,1289.86 L417.27,1289.85 L417.73,1289.83 L418.18,1289.82 L418.64,1289.81 L419.09,1289.80 L419.55,1289.78 L420.00,1289.77 L420.45,1289.76 L420.91,1289.74 L421.36,1289.73 L421.82,1289.72 L422.27,1289.71 L422.73,1289.69 L423.18,1289.68 L423.64,1289.67 L424.09,1289.65 L424.55,1289.64 L425.00,1289.63 L425.45,1289.61 L425.91,1289.60 L426.36,1289.59 L426.82,1289.58 L427.27,1289.56 L427.73,1289.55 L428.18,1289.54 L428.64,1289.52 L429.09,1289.51 L429.55,1289.50 L430.00,1289.48 L430.45,1289.47 L430.91,1289.46 L431.36,1289.44 L431.82,1289.43 L432.27,1289.42 L432.73,1289.40 L433.18,1289.39 L433.64,1289.37 L434.09,1289.36 L434.55,1289.35 L435.00,1289.33 L435.45,1289.32 L435.91,1289.31 L436.36,1289.29 L436.82,1289.28 L437.27,1289.27 L437.73,1289.25 L438.18,1289.24 L438.64,1289.22 L439.09,1289.21 L439.55,1289.20 L440.00,1289.18 L440.45,1289.17 L440.91,1289.16 L441.36,1289.14 L441.82,1289.13 L442.27,1289.11 L442.73,1289.10 L443.18,1289.09 L443.64,1289.07 L444.09,1289.06 L444.55,1289.04 L445.00,1289.03 L445.45,1289.02 L445.91,1289.00 L446.36,1288.99 L446.82,1288.97 L447.27,1288.96 L447.73,1288.94 L448.18,1288.93 L448.64,1288.92 L449.09,1288.90 L449.55,1288.89 L450.00,1288.87 L450.45,1288.86 L450.91,1288.84 L451.36,1288.83 L451.82,1288.82 L452.27,1288.80 L452.73,1288.79 L453.18,1288.77 L453.64,1288.76 L454.09,1288.74 L454.55,1288.73 L455.00,1288.72 L455.45,1288.70 L455.91,1288.69 L456.36,1288.67 L456.82,1288.66 L457.27,1288.64 L457.73,1288.63 L458.18,1288.61 L458.64,1288.60 L459.09,1288.58 L459.55,1288.57 L460.00,1288.55 L460.45,1288.54 L460.91,1288.53 L461.36,1288.51 L461.82,1288.50 L462.27,1288.48 L462.73,1288.47 L463.18,1288.45 L463.64,1288.44 L464.09,1288.42 L464.55,1288.41 L465.00,1288.39 L465.45,1288.38 L465.91,1288.36 L466.36,1288.35 L466.82,1288.33 L467.27,1288.32 L467.73,1288.30 L468.18,1288.29 L468.64,1288.27 L469.09,1288.26 L469.55,1288.24 L470.00,1288.23 L470.45,1288.21 L470.91,1288.20 L471.36,1288.18 L471.82,1288.17 L472.27,1288.15 L472.73,1288.14 L473.18,1288.12 L473.64,1288.11 L474.09,1288.09 L474.55,1288.08 L475.00,1288.06 L475.45,1288.04 L475.91,1288.03 L476.36,1288.01 L476.82,1288.00 L477.27,1287.98 L477.73,1287.97 L478.18,1287.95 L478.64,1287.94 L479.09,1287.92 L479.55,1287.91 L480.00,1287.89 L480.45,1287.88 L480.91,1287.86 L481.36,1287.85 L481.82,1287.83 L482.27,1287.81 L482.73,1287.80 L483.18,1287.78 L483.64,1287.77 L484.09,1287.75 L484.55,1287.74 L485.00,1287.72 L485.45,1287.71 L485.91,1287.69 L486.36,1287.67 L486.82,1287.66 L487.27,1287.64 L487.73,1287.63 L488.18,1287.61 L488.64,1287.60 L489.09,1287.58 L489.55,1287.56 L490.00,1287.55 L490.45,1287.53 L490.91,1287.52 L491.36,1287.50 L491.82,1287.49 L492.27,1287.47 L492.73,1287.45 L493.18,1287.44 L493.64,1287.42 L494.09,1287.41 L494.55,1287.39 L495.00,1287.38 L495.45,1287.36 L495.91,1287.34 L496.36,1287.33 L496.82,1287.31 L497.27,1287.30 L497.73,1287.28 L498.18,1287.26 L498.64,1287.25 L499.09,1287.23 L499.55,1287.22 L500.00,1287.20 L500.45,1287.18 L500.91,1287.17 L501.36,1287.15 L501.82,1287.14 L502.27,1287.12 L502.73,1287.10 L503.18,1287.09 L503.64,1287.07 L504.09,1287.06 L504.55,1287.04 L505.00,1287.02 L505.45,1287.01 L505.91,1286.99 L506.36,1286.98 L506.82,1286.96 L507.27,1286.94 L507.73,1286.93 L508.18,1286.91 L508.64,1286.90 L509.09,1286.88 L509.55,1286.86 L510.00,1286.85 L510.45,1286.83 L510.91,1286.81 L511.36,1286.80 L511.82,1286.78 L512.27,1286.77 L512.73,1286.75 L513.18,1286.73 L513.64,1286.72 L514.09,1286.70 L514.55,1286.68 L515.00,1286.67 L515.45,1286.65 L515.91,1286.64 L516.36,1286.62 L516.82,1286.60 L517.27,1286.59 L517.73,1286.57 L518.18,1286.55 L518.64,1286.54 L519.09,1286.52 L519.55,1286.51 L520.00,1286.49 L520.45,1286.47 L520.91,1286.46 L521.36,1286.44 L521.82,1286.42 L522.27,1286.41 L522.73,1286.39 L523.18,1286.37 L523.64,1286.36 L524.09,1286.34 L524.55,1286.33 L525.00,1286.31 L525.45,1286.29 L525.91,1286.28 L526.36,1286.26 L526.82,1286.24 L527.27,1286.23 L527.73,1286.21 L528.18,1286.19 L528.64,1286.18 L529.09,1286.16 L529.55,1286.14 L530.00,1286.13 L530.45,1286.11 L530.91,1286.09 L531.36,1286.08 L531.82,1286.06 L532.27,1286.05 L532.73,1286.03 L533.18,1286.01 L533.64,1286.00 L534.09,1285.98 L534.55,1285.96 L535.00,1285.95 L535.45,1285.93 L535.91,1285.91 L536.36,1285.90 L536.82,1285.88 L537.27,1285.86 L537.73,1285.85 L538.18,1285.83 L538.64,1285.81 L539.09,1285.80 L539.55,1285.78 L540.00,1285.76 L540.45,1285.75 L540.91,1285.73 L541.36,1285.71 L541.82,1285.70 L542.27,1285.68 L542.73,1285.66 L543.18,1285.65 L543.64,1285.63 L544.09,1285.61 L544.55,1285.60 L545.00,1285.58 L545.45,1285.56 L545.91,1285.55 L546.36,1285.53 L546.82,1285.51 L547.27,1285.50 L547.73,1285.48 L548.18,1285.46 L548.64,1285.45 L549.09,1285.43 L549.55,1285.41 L550.00,1285.40 L550.45,1285.38 L550.91,1285.36 L551.36,1285.35 L551.82,1285.33 L552.27,1285.31 L552.73,1285.30 L553.18,1285.28 L553.64,1285.26 L554.09,1285.25 L554.55,1285.23 L555.00,1285.21 L555.45,1285.20 L555.91,1285.18 L556.36,1285.16 L556.82,1285.15 L557.27,1285.13 L557.73,1285.11 L558.18,1285.10 L558.64,1285.08 L559.09,1285.06 L559.55,1285.05 L560.00,1285.03 L560.45,1285.01 L560.91,1285.00 L561.36,1284.98 L561.82,1284.96 L562.27,1284.95 L562.73,1284.93 L563.18,1284.91 L563.64,1284.90 L564.09,1284.88 L564.55,1284.86 L565.00,1284.85 L565.45,1284.83 L565.91,1284.81 L566.36,1284.80 L566.82,1284.78 L567.27,1284.76 L567.73,1284.75 L568.18,1284.73 L568.64,1284.71 L569.09,1284.70 L569.55,1284.68 L570.00,1284.66 L570.45,1284.65 L570.91,1284.63 L571.36,1284.61 L571.82,1284.60 L572.27,1284.58 L572.73,1284.56 L573.18,1284.55 L573.64,1284.53 L574.09,1284.51 L574.55,1284.50 L575.00,1284.48 L575.45,1284.46 L575.91,1284.45 L576.36,1284.43 L576.82,1284.42 L577.27,1284.40 L577.73,1284.38 L578.18,1284.37 L578.64,1284.35 L579.09,1284.33 L579.55,1284.32 L580.00,1284.30 L580.45,1284.28 L580.91,1284.27 L581.36,1284.25 L581.82,1284.23 L582.27,1284.22 L582.73,1284.20 L583.18,1284.18 L583.64,1284.17 L584.09,1284.15 L584.55,1284.13 L585.00,1284.12 L585.45,1284.10 L585.91,1284.08 L586.36,1284.07 L586.82,1284.05 L587.27,1284.03 L587.73,1284.02 L588.18,1284.00 L588.64,1283.98 L589.09,1283.97 L589.55,1283.95 L590.00,1283.93 L590.45,1283.92 L590.91,1283.90 L591.36,1283.89 L591.82,1283.87 L592.27,1283.85 L592.73,1283.84 L593.18,1283.82 L593.64,1283.80 L594.09,1283.79 L594.55,1283.77 L595.00,1283.75 L595.45,1283.74 L595.91,1283.72 L596.36,1283.70 L596.82,1283.69 L597.27,1283.67 L597.73,1283.66 L598.18,1283.64 L598.64,1283.62 L599.09,1283.61 L599.55,1283.59 L600.00,1283.57 L600.45,1283.56 L600.91,1283.54 L601.36,1283.52 L601.82,1283.51 L602.27,1283.49 L602.73,1283.48 L603.18,1283.46 L603.64,1283.44 L604.09,1283.43 L604.55,1283.41 L605.00,1283.39 L605.45,1283.38 L605.91,1283.36 L606.36,1283.34 L606.82,1283.33 L607.27,1283.31 L607.73,1283.30 L608.18,1283.28 L608.64,1283.26 L609.09,1283.25 L609.55,1283.23 L610.00,1283.22 L610.45,1283.20 L610.91,1283.18 L611.36,1283.17 L611.82,1283.15 L612.27,1283.13 L612.73,1283.12 L613.18,1283.10 L613.64,1283.09 L614.09,1283.07 L614.55,1283.05 L615.00,1283.04 L615.45,1283.02 L615.91,1283.01 L616.36,1282.99 L616.82,1282.97 L617.27,1282.96 L617.73,1282.94 L618.18,1282.93 L618.64,1282.91 L619.09,1282.89 L619.55,1282.88 L620.00,1282.86 L620.45,1282.85 L620.91,1282.83 L621.36,1282.81 L621.82,1282.80 L622.27,1282.78 L622.73,1282.77 L623.18,1282.75 L623.64,1282.73 L624.09,1282.72 L624.55,1282.70 L625.00,1282.69 L625.45,1282.67 L625.91,1282.65 L626.36,1282.64 L626.82,1282.62 L627.27,1282.61 L627.73,1282.59 L628.18,1282.58 L628.64,1282.56 L629.09,1282.54 L629.55,1282.53 L630.00,1282.51 L630.45,1282.50 L630.91,1282.48 L631.36,1282.47 L631.82,1282.45 L632.27,1282.43 L632.73,1282.42 L633.18,1282.40 L633.64,1282.39 L634.09,1282.37 L634.55,1282.36 L635.00,1282.34 L635.45,1282.33 L635.91,1282.31 L636.36,1282.29 L636.82,1282.28 L637.27,1282.26 L637.73,1282.25 L638.18,1282.23 L638.64,1282.22 L639.09,1282.20 L639.55,1282.19 L640.00,1282.17 L640.45,1282.15 L640.91,1282.14 L641.36,1282.12 L641.82,1282.11 L642.27,1282.09 L642.73,1282.08 L643.18,1282.06 L643.64,1282.05 L644.09,1282.03 L644.55,1282.02 L645.00,1282.00 L645.45,1281.99 L645.91,1281.97 L646.36,1281.96 L646.82,1281.94 L647.27,1281.93 L647.73,1281.91 L648.18,1281.90 L648.64,1281.88 L649.09,1281.86 L649.55,1281.85 L650.00,1281.83 L650.45,1281.82 L650.91,1281.80 L651.36,1281.79 L651.82,1281.77 L652.27,1281.76 L652.73,1281.74 L653.18,1281.73 L653.64,1281.71 L654.09,1281.70 L654.55,1281.68 L655.00,1281.67 L655.45,1281.65 L655.91,1281.64 L656.36,1281.63 L656.82,1281.61 L657.27,1281.60 L657.73,1281.58 L658.18,1281.57 L658.64,1281.55 L659.09,1281.54 L659.55,1281.52 L660.00,1281.51 L660.45,1281.49 L660.91,1281.48 L661.36,1281.46 L661.82,1281.45 L662.27,1281.43 L662.73,1281.42 L663.18,1281.40 L663.64,1281.39 L664.09,1281.38 L664.55,1281.36 L665.00,1281.35 L665.45,1281.33 L665.91,1281.32 L666.36,1281.30 L666.82,1281.29 L667.27,1281.27 L667.73,1281.26 L668.18,1281.24 L668.64,1281.23 L669.09,1281.22 L669.55,1281.20 L670.00,1281.19 L670.45,1281.17 L670.91,1281.16 L671.36,1281.14 L671.82,1281.13 L672.27,1281.12 L672.73,1281.10 L673.18,1281.09 L673.64,1281.07 L674.09,1281.06 L674.55,1281.05 L675.00,1281.03 L675.45,1281.02 L675.91,1281.00 L676.36,1280.99 L676.82,1280.98 L677.27,1280.96 L677.73,1280.95 L678.18,1280.93 L678.64,1280.92 L679.09,1280.91 L679.55,1280.89 L680.00,1280.88 L680.45,1280.86 L680.91,1280.85 L681.36,1280.84 L681.82,1280.82 L682.27,1280.81 L682.73,1280.80 L683.18,1280.78 L683.64,1280.77 L684.09,1280.75 L684.55,1280.74 L685.00,1280.73 L685.45,1280.71 L685.91,1280.70 L686.36,1280.69 L686.82,1280.67 L687.27,1280.66 L687.73,1280.65 L688.18,1280.63 L688.64,1280.62 L689.09,1280.61 L689.55,1280.59 L690.00,1280.58 L690.45,1280.57 L690.91,1280.55 L691.36,1280.54 L691.82,1280.53 L692.27,1280.51 L692.73,1280.50 L693.18,1280.49 L693.64,1280.47 L694.09,1280.46 L694.55,1280.45 L695.00,1280.43 L695.45,1280.42 L695.91,1280.41 L696.36,1280.39 L696.82,1280.38 L697.27,1280.37 L697.73,1280.35 L698.18,1280.34 L698.64,1280.33 L699.09,1280.32 L699.55,1280.30 L700.00,1280.29 L700.45,1280.28 L700.91,1280.26 L701.36,1280.25 L701.82,1280.24 L702.27,1280.23 L702.73,1280.21 L703.18,1280.20 L703.64,1280.19 L704.09,1280.18 L704.55,1280.16 L705.00,1280.15 L705.45,1280.14 L705.91,1280.13 L706.36,1280.11 L706.82,1280.10 L707.27,1280.09 L707.73,1280.08 L708.18,1280.06 L708.64,1280.05 L709.09,1280.04 L709.55,1280.03 L710.00,1280.01 L710.45,1280.00 L710.91,1279.99 L711.36,1279.98 L711.82,1279.97 L712.27,1279.95 L712.73,1279.94 L713.18,1279.93 L713.64,1279.92 L714.09,1279.90 L714.55,1279.89 L715.00,1279.88 L715.45,1279.87 L715.91,1279.86 L716.36,1279.85 L716.82,1279.83 L717.27,1279.82 L717.73,1279.81 L718.18,1279.80 L718.64,1279.79 L719.09,1279.77 L719.55,1279.76 L720.00,1279.75 L720.45,1279.74 L720.91,1279.73 L721.36,1279.72 L721.82,1279.70 L722.27,1279.69 L722.73,1279.68 L723.18,1279.67 L723.64,1279.66 L724.09,1279.65 L724.55,1279.64 L725.00,1279.62 L725.45,1279.61 L725.91,1279.60 L726.36,1279.59 L726.82,1279.58 L727.27,1279.57 L727.73,1279.56 L728.18,1279.55 L728.64,1279.53 L729.09,1279.52 L729.55,1279.51 L730.00,1279.50 L730.45,1279.49 L730.91,1279.48 L731.36,1279.47 L731.82,1279.46 L732.27,1279.45 L732.73,1279.44 L733.18,1279.43 L733.64,1279.41 L734.09,1279.40 L734.55,1279.39 L735.00,1279.38 L735.45,1279.37 L735.91,1279.36 L736.36,1279.35 L736.82,1279.34 L737.27,1279.33 L737.73,1279.32 L738.18,1279.31 L738.64,1279.30 L739.09,1279.29 L739.55,1279.28 L740.00,1279.27 L740.45,1279.26 L740.91,1279.25 L741.36,1279.24 L741.82,1279.23 L742.27,1279.22 L742.73,1279.21 L743.18,1279.20 L743.64,1279.19 L744.09,1279.18 L744.55,1279.17 L745.00,1279.16 L745.45,1279.15 L745.91,1279.14 L746.36,1279.13 L746.82,1279.12 L747.27,1279.11 L747.73,1279.10 L748.18,1279.09 L748.64,1279.08 L749.09,1279.07 L749.55,1279.06 L750.00,1279.05 L750.45,1279.04 L750.91,1279.03 L751.36,1279.02 L751.82,1279.01 L752.27,1279.00 L752.73,1278.99 L753.18,1278.98 L753.64,1278.97 L754.09,1278.96 L754.55,1278.95 L755.00,1278.94 L755.45,1278.93 L755.91,1278.93 L756.36,1278.92 L756.82,1278.91 L757.27,1278.90 L757.73,1278.89 L758.18,1278.88 L758.64,1278.87 L759.09,1278.86 L759.55,1278.85 L760.00,1278.84 L760.45,1278.84 L760.91,1278.83 L761.36,1278.82 L761.82,1278.81 L762.27,1278.80 L762.73,1278.79 L763.18,1278.78 L763.64,1278.78 L764.09,1278.77 L764.55,1278.76 L765.00,1278.75 L765.45,1278.74 L765.91,1278.73 L766.36,1278.72 L766.82,1278.72 L767.27,1278.71 L767.73,1278.70 L768.18,1278.69 L768.64,1278.68 L769.09,1278.68 L769.55,1278.67 L770.00,1278.66 L770.45,1278.65 L770.91,1278.64 L771.36,1278.64 L771.82,1278.63 L772.27,1278.62 L772.73,1278.61 L773.18,1278.60 L773.64,1278.60 L774.09,1278.59 L774.55,1278.58 L775.00,1278.57 L775.45,1278.57 L775.91,1278.56 L776.36,1278.55 L776.82,1278.54 L777.27,1278.54 L777.73,1278.53 L778.18,1278.52 L778.64,1278.51 L779.09,1278.51 L779.55,1278.50 L780.00,1278.49 L780.45,1278.48 L780.91,1278.48 L781.36,1278.47 L781.82,1278.46 L782.27,1278.46 L782.73,1278.45 L783.18,1278.44 L783.64,1278.44 L784.09,1278.43 L784.55,1278.42 L785.00,1278.42 L785.45,1278.41 L785.91,1278.40 L786.36,1278.40 L786.82,1278.39 L787.27,1278.38 L787.73,1278.38 L788.18,1278.37 L788.64,1278.36 L789.09,1278.36 L789.55,1278.35 L790.00,1278.34 L790.45,1278.34 L790.91,1278.33 L791.36,1278.32 L791.82,1278.32 L792.27,1278.31 L792.73,1278.31 L793.18,1278.30 L793.64,1278.29 L794.09,1278.29 L794.55,1278.28 L795.00,1278.28 L795.45,1278.27 L795.91,1278.26 L796.36,1278.26 L796.82,1278.25 L797.27,1278.25 L797.73,1278.24 L798.18,1278.24 L798.64,1278.23 L799.09,1278.22 L799.55,1278.22 L800.00,1278.21 L800.45,1278.21 L800.91,1278.20 L801.36,1278.19 L801.82,1278.19 L802.27,1278.18 L802.73,1278.18 L803.18,1278.17 L803.64,1278.17 L804.09,1278.16 L804.55,1278.15 L805.00,1278.15 L805.45,1278.14 L805.91,1278.14 L806.36,1278.13 L806.82,1278.12 L807.27,1278.12 L807.73,1278.11 L808.18,1278.11 L808.64,1278.10 L809.09,1278.09 L809.55,1278.09 L810.00,1278.08 L810.45,1278.07 L810.91,1278.07 L811.36,1278.06 L811.82,1278.06 L812.27,1278.05 L812.73,1278.04 L813.18,1278.04 L813.64,1278.03 L814.09,1278.02 L814.55,1278.02 L815.00,1278.01 L815.45,1278.00 L815.91,1278.00 L816.36,1277.99 L816.82,1277.98 L817.27,1277.97 L817.73,1277.97 L818.18,1277.96 L818.64,1277.95 L819.09,1277.94 L819.55,1277.94 L820.00,1277.93 L820.45,1277.92 L820.91,1277.91 L821.36,1277.91 L821.82,1277.90 L822.27,1277.89 L822.73,1277.88 L823.18,1277.87 L823.64,1277.86 L824.09,1277.86 L824.55,1277.85 L825.00,1277.84 L825.45,1277.83 L825.91,1277.82 L826.36,1277.81 L826.82,1277.80 L827.27,1277.79 L827.73,1277.78 L828.18,1277.77 L828.64,1277.76 L829.09,1277.75 L829.55,1277.74 L830.00,1277.73 L830.45,1277.72 L830.91,1277.71 L831.36,1277.70 L831.82,1277.69 L832.27,1277.68 L832.73,1277.67 L833.18,1277.66 L833.64,1277.65 L834.09,1277.64 L834.55,1277.63 L835.00,1277.61 L835.45,1277.60 L835.91,1277.59 L836.36,1277.58 L836.82,1277.57 L837.27,1277.55 L837.73,1277.54 L838.18,1277.53 L838.64,1277.51 L839.09,1277.50 L839.55,1277.49 L840.00,1277.47 L840.45,1277.46 L840.91,1277.45 L841.36,1277.43 L841.82,1277.42 L842.27,1277.40 L842.73,1277.39 L843.18,1277.38 L843.64,1277.36 L844.09,1277.35 L844.55,1277.33 L845.00,1277.31 L845.45,1277.30 L845.91,1277.28 L846.36,1277.27 L846.82,1277.25 L847.27,1277.23 L847.73,1277.22 L848.18,1277.20 L848.64,1277.18 L849.09,1277.17 L849.55,1277.15 L850.00,1277.13 L850.45,1277.11 L850.91,1277.09 L851.36,1277.08 L851.82,1277.06 L852.27,1277.04 L852.73,1277.02 L853.18,1277.00 L853.64,1276.98 L854.09,1276.96 L854.55,1276.94 L855.00,1276.92 L855.45,1276.90 L855.91,1276.88 L856.36,1276.86 L856.82,1276.83 L857.27,1276.81 L857.73,1276.79 L858.18,1276.77 L858.64,1276.75 L859.09,1276.72 L859.55,1276.70 L860.00,1276.68 L860.45,1276.65 L860.91,1276.63 L861.36,1276.61 L861.82,1276.58 L862.27,1276.56 L862.73,1276.53 L863.18,1276.51 L863.64,1276.48 L864.09,1276.46 L864.55,1276.43 L865.00,1276.40 L865.45,1276.38 L865.91,1276.35 L866.36,1276.32 L866.82,1276.30 L867.27,1276.27 L867.73,1276.24 L868.18,1276.21 L868.64,1276.18 L869.09,1276.16 L869.55,1276.13 L870.00,1276.10 L870.45,1276.07 L870.91,1276.04 L871.36,1276.01 L871.82,1275.98 L872.27,1275.94 L872.73,1275.91 L873.18,1275.88 L873.64,1275.85 L874.09,1275.82 L874.55,1275.78 L875.00,1275.75 L875.45,1275.72 L875.91,1275.68 L876.36,1275.65 L876.82,1275.62 L877.27,1275.58 L877.73,1275.55 L878.18,1275.51 L878.64,1275.47 L879.09,1275.44 L879.55,1275.40 L880.00,1275.37 L880.45,1275.33 L880.91,1275.29 L881.36,1275.25 L881.82,1275.21 L882.27,1275.18 L882.73,1275.14 L883.18,1275.10 L883.64,1275.06 L884.09,1275.02 L884.55,1274.98 L885.00,1274.94 L885.45,1274.90 L885.91,1274.85 L886.36,1274.81 L886.82,1274.77 L887.27,1274.73 L887.73,1274.68 L888.18,1274.64 L888.64,1274.60 L889.09,1274.55 L889.55,1274.51 L890.00,1274.46 L890.45,1274.42 L890.91,1274.37 L891.36,1274.32 L891.82,1274.28 L892.27,1274.23 L892.73,1274.18 L893.18,1274.14 L893.64,1274.09 L894.09,1274.04 L894.55,1273.99 L895.00,1273.94 L895.45,1273.89 L895.91,1273.84 L896.36,1273.79 L896.82,1273.74 L897.27,1273.68 L897.73,1273.63 L898.18,1273.58 L898.64,1273.53 L899.09,1273.47 L899.55,1273.42 L900.00,1273.37 L900.45,1273.31 L900.91,1273.26 L901.36,1273.20 L901.82,1273.14 L902.27,1273.09 L902.73,1273.03 L903.18,1272.97 L903.64,1272.91 L904.09,1272.86 L904.55,1272.80 L905.00,1272.74 L905.45,1272.68 L905.91,1272.62 L906.36,1272.56 L906.82,1272.50 L907.27,1272.43 L907.73,1272.37 L908.18,1272.31 L908.64,1272.25 L909.09,1272.18 L909.55,1272.12 L910.00,1272.05 L910.45,1271.99 L910.91,1271.92 L911.36,1271.86 L911.82,1271.79 L912.27,1271.72 L912.73,1271.66 L913.18,1271.59 L913.64,1271.52 L914.09,1271.45 L914.55,1271.38 L915.00,1271.31 L915.45,1271.24 L915.91,1271.17 L916.36,1271.10 L916.82,1271.03 L917.27,1270.95 L917.73,1270.88 L918.18,1270.81 L918.64,1270.73 L919.09,1270.66 L919.55,1270.58 L920.00,1270.51 L920.45,1270.43 L920.91,1270.35 L921.36,1270.27 L921.82,1270.20 L922.27,1270.12 L922.73,1270.04 L923.18,1269.96 L923.64,1269.88 L924.09,1269.80 L924.55,1269.72 L925.00,1269.64 L925.45,1269.55 L925.91,1269.47 L926.36,1269.39 L926.82,1269.30 L927.27,1269.22 L927.73,1269.13 L928.18,1269.05 L928.64,1268.96 L929.09,1268.87 L929.55,1268.79 L930.00,1268.70 L930.45,1268.61 L930.91,1268.52 L931.36,1268.43 L931.82,1268.34 L932.27,1268.25 L932.73,1268.16 L933.18,1268.07 L933.64,1267.97 L934.09,1267.88 L934.55,1267.79 L935.00,1267.69 L935.45,1267.60 L935.91,1267.50 L936.36,1267.41 L936.82,1267.31 L937.27,1267.21 L937.73,1267.11 L938.18,1267.01 L938.64,1266.92 L939.09,1266.82 L939.55,1266.71 L940.00,1266.61 L940.45,1266.51 L940.91,1266.41 L941.36,1266.31 L941.82,1266.20 L942.27,1266.10 L942.73,1265.99 L943.18,1265.89 L943.64,1265.78 L944.09,1265.67 L944.55,1265.57 L945.00,1265.46 L945.45,1265.35 L945.91,1265.24 L946.36,1265.13 L946.82,1265.02 L947.27,1264.91 L947.73,1264.80 L948.18,1264.68 L948.64,1264.57 L949.09,1264.46 L949.55,1264.34 L950.00,1264.23 L950.45,1264.11 L950.91,1263.99 L951.36,1263.88 L951.82,1263.76 L952.27,1263.64 L952.73,1263.52 L953.18,1263.40 L953.64,1263.28 L954.09,1263.16 L954.55,1263.04 L955.00,1262.91 L955.45,1262.79 L955.91,1262.67 L956.36,1262.54 L956.82,1262.42 L957.27,1262.29 L957.73,1262.16 L958.18,1262.04 L958.64,1261.91 L959.09,1261.78 L959.55,1261.65 L960.00,1261.52 L960.45,1261.39 L960.91,1261.25 L961.36,1261.12 L961.82,1260.99 L962.27,1260.85 L962.73,1260.72 L963.18,1260.58 L963.64,1260.45 L964.09,1260.31 L964.55,1260.17 L965.00,1260.04 L965.45,1259.90 L965.91,1259.76 L966.36,1259.62 L966.82,1259.47 L967.27,1259.33 L967.73,1259.19 L968.18,1259.05 L968.64,1258.90 L969.09,1258.76 L969.55,1258.61 L970.00,1258.46 L970.45,1258.32 L970.91,1258.17 L971.36,1258.02 L971.82,1257.87 L972.27,1257.72 L972.73,1257.57 L973.18,1257.42 L973.64,1257.26 L974.09,1257.11 L974.55,1256.96 L975.00,1256.80 L975.45,1256.65 L975.91,1256.49 L976.36,1256.33 L976.82,1256.17 L977.27,1256.01 L977.73,1255.86 L978.18,1255.69 L978.64,1255.53 L979.09,1255.37 L979.55,1255.21 L980.00,1255.04 L980.45,1254.88 L980.91,1254.72 L981.36,1254.55 L981.82,1254.38 L982.27,1254.21 L982.73,1254.05 L983.18,1253.88 L983.64,1253.71 L984.09,1253.54 L984.55,1253.36 L985.00,1253.19 L985.45,1253.02 L985.91,1252.84 L986.36,1252.67 L986.82,1252.49 L987.27,1252.32 L987.73,1252.14 L988.18,1251.96 L988.64,1251.78 L989.09,1251.60 L989.55,1251.42 L990.00,1251.24 L990.45,1251.06 L990.91,1250.87 L991.36,1250.69 L991.82,1250.50 L992.27,1250.32 L992.73,1250.13 L993.18,1249.94 L993.64,1249.75 L994.09,1249.56 L994.55,1249.37 L995.00,1249.18 L995.45,1248.99 L995.91,1248.80 L996.36,1248.60 L996.82,1248.41 L997.27,1248.21 L997.73,1248.02 L998.18,1247.82 L998.64,1247.62 L999.09,1247.42 L999.55,1247.22 L1000.00,1247.02 L1000.45,1246.82 L1000.91,1246.62 L1001.36,1246.42 L1001.82,1246.21 L1002.27,1246.01 L1002.73,1245.80 L1003.18,1245.59 L1003.64,1245.38 L1004.09,1245.18 L1004.55,1244.97 L1005.00,1244.75 L1005.45,1244.54 L1005.91,1244.33 L1006.36,1244.11 L1006.82,1243.90 L1007.27,1243.68 L1007.73,1243.46 L1008.18,1243.24 L1008.64,1243.02 L1009.09,1242.79 L1009.55,1242.57 L1010.00,1242.34 L1010.45,1242.11 L1010.91,1241.88 L1011.36,1241.65 L1011.82,1241.42 L1012.27,1241.18 L1012.73,1240.95 L1013.18,1240.71 L1013.64,1240.47 L1014.09,1240.22 L1014.55,1239.98 L1015.00,1239.73 L1015.45,1239.48 L1015.91,1239.23 L1016.36,1238.97 L1016.82,1238.72 L1017.27,1238.46 L1017.73,1238.19 L1018.18,1237.93 L1018.64,1237.66 L1019.09,1237.40 L1019.55,1237.12 L1020.00,1236.85 L1020.45,1236.57 L1020.91,1236.29 L1021.36,1236.01 L1021.82,1235.73 L1022.27,1235.44 L1022.73,1235.15 L1023.18,1234.85 L1023.64,1234.55 L1024.09,1234.25 L1024.55,1233.95 L1025.00,1233.64 L1025.45,1233.34 L1025.91,1233.02 L1026.36,1232.71 L1026.82,1232.39 L1027.27,1232.06 L1027.73,1231.74 L1028.18,1231.41 L1028.64,1231.07 L1029.09,1230.74 L1029.55,1230.40 L1030.00,1230.05 L1030.45,1229.70 L1030.91,1229.35 L1031.36,1229.00 L1031.82,1228.64 L1032.27,1228.27 L1032.73,1227.91 L1033.18,1227.54 L1033.64,1227.16 L1034.09,1226.78 L1034.55,1226.40 L1035.00,1226.01 L1035.45,1225.62 L1035.91,1225.22 L1036.36,1224.82 L1036.82,1224.42 L1037.27,1224.01 L1037.73,1223.59 L1038.18,1223.18 L1038.64,1222.75 L1039.09,1222.33 L1039.55,1221.89 L1040.00,1221.46 L1040.45,1221.02 L1040.91,1220.57 L1041.36,1220.12 L1041.82,1219.66 L1042.27,1219.20 L1042.73,1218.74 L1043.18,1218.27 L1043.64,1217.79 L1044.09,1217.31 L1044.55,1216.82 L1045.00,1216.33 L1045.45,1215.83 L1045.91,1215.33 L1046.36,1214.83 L1046.82,1214.31 L1047.27,1213.80 L1047.73,1213.27 L1048.18,1212.74 L1048.64,1212.21 L1049.09,1211.67 L1049.55,1211.12 L1050.00,1210.57 L1050.45,1210.01 L1050.91,1209.45 L1051.36,1208.88 L1051.82,1208.31 L1052.27,1207.73 L1052.73,1207.14 L1053.18,1206.55 L1053.64,1205.95 L1054.09,1205.34 L1054.55,1204.73 L1055.00,1204.12 L1055.45,1203.49 L1055.91,1202.86 L1056.36,1202.23 L1056.82,1201.58 L1057.27,1200.93 L1057.73,1200.28 L1058.18,1199.62 L1058.64,1198.95 L1059.09,1198.27 L1059.55,1197.59 L1060.00,1196.90 L1060.45,1196.21 L1060.91,1195.51 L1061.36,1194.80 L1061.82,1194.08 L1062.27,1193.36 L1062.73,1192.63 L1063.18,1191.89 L1063.64,1191.15 L1064.09,1190.39 L1064.55,1189.64 L1065.00,1188.87 L1065.45,1188.10 L1065.91,1187.32 L1066.36,1186.53 L1066.82,1185.73 L1067.27,1184.93 L1067.73,1184.12 L1068.18,1183.30 L1068.64,1182.48 L1069.09,1181.65 L1069.55,1180.81 L1070.00,1179.96 L1070.45,1179.10 L1070.91,1178.24 L1071.36,1177.37 L1071.82,1176.49 L1072.27,1175.60 L1072.73,1174.70 L1073.18,1173.80 L1073.64,1172.89 L1074.09,1171.97 L1074.55,1171.04 L1075.00,1170.10 L1075.45,1169.16 L1075.91,1168.21 L1076.36,1167.24 L1076.82,1166.27 L1077.27,1165.30 L1077.73,1164.31 L1078.18,1163.31 L1078.64,1162.31 L1079.09,1161.30 L1079.55,1160.27 L1080.00,1159.24 L1080.45,1158.21 L1080.91,1157.16 L1081.36,1156.10 L1081.82,1155.04 L1082.27,1153.96 L1082.73,1152.88 L1083.18,1151.78 L1083.64,1150.68 L1084.09,1149.57 L1084.55,1148.45 L1085.00,1147.32 L1085.45,1146.18 L1085.91,1145.03 L1086.36,1143.88 L1086.82,1142.71 L1087.27,1141.53 L1087.73,1140.35 L1088.18,1139.15 L1088.64,1137.94 L1089.09,1136.73 L1089.55,1135.50 L1090.00,1134.27 L1090.45,1133.03 L1090.91,1131.77 L1091.36,1130.51 L1091.82,1129.23 L1092.27,1127.95 L1092.73,1126.65 L1093.18,1125.35 L1093.64,1124.03 L1094.09,1122.71 L1094.55,1121.38 L1095.00,1120.03 L1095.45,1118.67 L1095.91,1117.31 L1096.36,1115.93 L1096.82,1114.54 L1097.27,1113.15 L1097.73,1111.74 L1098.18,1110.32 L1098.64,1108.89 L1099.09,1107.45 L1099.55,1106.00 L1100.00,1104.54 L1100.45,1103.07 L1100.91,1101.58 L1101.36,1100.09 L1101.82,1098.58 L1102.27,1097.07 L1102.73,1095.54 L1103.18,1094.00 L1103.64,1092.45 L1104.09,1090.89 L1104.55,1089.32 L1105.00,1087.74 L1105.45,1086.14 L1105.91,1084.54 L1106.36,1082.92 L1106.82,1081.29 L1107.27,1079.65 L1107.73,1078.00 L1108.18,1076.33 L1108.64,1074.66 L1109.09,1072.97 L1109.55,1071.27 L1110.00,1069.56 L1110.45,1067.84 L1110.91,1066.10 L1111.36,1064.36 L1111.82,1062.60 L1112.27,1060.83 L1112.73,1059.04 L1113.18,1057.25 L1113.64,1055.44 L1114.09,1053.62 L1114.55,1051.78 L1115.00,1049.94 L1115.45,1048.08 L1115.91,1046.21 L1116.36,1044.32 L1116.82,1042.42 L1117.27,1040.51 L1117.73,1038.59 L1118.18,1036.65 L1118.64,1034.70 L1119.09,1032.74 L1119.55,1030.76 L1120.00,1028.77 L1120.45,1026.77 L1120.91,1024.75 L1121.36,1022.72 L1121.82,1020.67 L1122.27,1018.61 L1122.73,1016.54 L1123.18,1014.45 L1123.64,1012.35 L1124.09,1010.23 L1124.55,1008.10 L1125.00,1005.96 L1125.45,1003.80 L1125.91,1001.63 L1126.36,999.44 L1126.82,997.24 L1127.27,995.02 L1127.73,992.79 L1128.18,990.54 L1128.64,988.28 L1129.09,986.01 L1129.55,983.71 L1130.00,981.41 L1130.45,979.09 L1130.91,976.75 L1131.36,974.40 L1131.82,972.03 L1132.27,969.65 L1132.73,967.25 L1133.18,964.83 L1133.64,962.40 L1134.09,959.96 L1134.55,957.50 L1135.00,955.02 L1135.45,952.52 L1135.91,950.01 L1136.36,947.49 L1136.82,944.95 L1137.27,942.39 L1137.73,939.81 L1138.18,937.22 L1138.64,934.61 L1139.09,931.99 L1139.55,929.35 L1140.00,926.69 L1140.45,924.02 L1140.91,921.32 L1141.36,918.62 L1141.82,915.89 L1142.27,913.15 L1142.73,910.39 L1143.18,907.61 L1143.64,904.82 L1144.09,902.00 L1144.55,899.18 L1145.00,896.33 L1145.45,893.46 L1145.91,890.58 L1146.36,887.68 L1146.82,884.76 L1147.27,881.83 L1147.73,878.87 L1148.18,875.90 L1148.64,872.91 L1149.09,869.91 L1149.55,866.88 L1150.00,863.83 L1150.45,860.77 L1150.91,857.69 L1151.36,854.59 L1151.82,851.47 L1152.27,848.33 L1152.73,845.18 L1153.18,842.00 L1153.64,838.81 L1154.09,835.59 L1154.55,832.36 L1155.00,829.11 L1155.45,825.84 L1155.91,822.55 L1156.36,819.24 L1156.82,815.91 L1157.27,812.56 L1157.73,809.19 L1158.18,805.80 L1158.64,802.40 L1159.09,798.97 L1159.55,795.52 L1160.00,792.05 L1160.45,788.57 L1160.91,785.06 L1161.36,781.54 L1161.82,778.00 L1162.27,774.45 L1162.73,770.88 L1163.18,767.29 L1163.64,763.69 L1164.09,760.08 L1164.55,756.45 L1165.00,752.81 L1165.45,749.16 L1165.91,745.50 L1166.36,741.83 L1166.82,738.15 L1167.27,734.46 L1167.73,730.76 L1168.18,727.05 L1168.64,723.34 L1169.09,719.62 L1169.55,715.90 L1170.00,712.17 L1170.45,708.44 L1170.91,704.70 L1171.36,700.96 L1171.82,697.22 L1172.27,693.48 L1172.73,689.74 L1173.18,686.00 L1173.64,682.25 L1174.09,678.51 L1174.55,674.78 L1175.00,671.04 L1175.45,667.31 L1175.91,663.58 L1176.36,659.86 L1176.82,656.14 L1177.27,652.43 L1177.73,648.72 L1178.18,645.02 L1178.64,641.33 L1179.09,637.65 L1179.55,633.98 L1180.00,630.32 L1180.45,626.67 L1180.91,623.03 L1181.36,619.41 L1181.82,615.79 L1182.27,612.19 L1182.73,608.61 L1183.18,605.04 L1183.64,601.48 L1184.09,597.95 L1184.55,594.42 L1185.00,590.92 L1185.45,587.43 L1185.91,583.97 L1186.36,580.52 L1186.82,577.10 L1187.27,573.69 L1187.73,570.31 L1188.18,566.95 L1188.64,563.62 L1189.09,560.31 L1189.55,557.03 L1190.00,553.77 L1190.45,550.55 L1190.91,547.35 L1191.36,544.18 L1191.82,541.04 L1192.27,537.94 L1192.73,534.86 L1193.18,531.82 L1193.64,528.82 L1194.09,525.85 L1194.55,522.92 L1195.00,520.02 L1195.45,517.16 L1195.91,514.35 L1196.36,511.57 L1196.82,508.83 L1197.27,506.13 L1197.73,503.48 L1198.18,500.87 L1198.64,498.31 L1199.09,495.79 L1199.55,493.32 L1200.00,490.89 L1200.45,488.51 L1200.91,486.19 L1201.36,483.91 L1201.82,481.68 L1202.27,479.51 L1202.73,477.39 L1203.18,475.32 L1203.64,473.31 L1204.09,471.35 L1204.55,469.45 L1205.00,467.60 L1205.45,465.82 L1205.91,464.09 L1206.36,462.43 L1206.82,460.82 L1207.27,459.28 L1207.73,457.80 L1208.18,456.39 L1208.64,455.04 L1209.09,453.75 L1209.55,452.53 L1210.00,451.38 L1210.45,450.30 L1210.91,449.29 L1211.36,448.35 L1211.82,447.48 L1212.27,446.68 L1212.73,445.95 L1213.18,445.30 L1213.64,444.72 L1214.09,444.22 L1214.55,443.80 L1215.00,443.45 L1215.45,443.19 L1215.91,443.00 L1216.36,442.89 L1216.82,442.86 L1217.27,442.92 L1217.73,443.06 L1218.18,443.27 L1218.64,443.57 L1219.09,443.95 L1219.55,444.40 L1220.00,444.93 L1220.45,445.54 L1220.91,446.22 L1221.36,446.97 L1221.82,447.80 L1222.27,448.70 L1222.73,449.67 L1223.18,450.70 L1223.64,451.81 L1224.09,452.98 L1224.55,454.22 L1225.00,455.53 L1225.45,456.90 L1225.91,458.33 L1226.36,459.83 L1226.82,461.38 L1227.27,463.00 L1227.73,464.67 L1228.18,466.41 L1228.64,468.20 L1229.09,470.05 L1229.55,471.95 L1230.00,473.90 L1230.45,475.91 L1230.91,477.97 L1231.36,480.09 L1231.82,482.25 L1232.27,484.46 L1232.73,486.72 L1233.18,489.02 L1233.64,491.38 L1234.09,493.77 L1234.55,496.21 L1235.00,498.70 L1235.45,501.22 L1235.91,503.79 L1236.36,506.39 L1236.82,509.04 L1237.27,511.72 L1237.73,514.44 L1238.18,517.20 L1238.64,519.99 L1239.09,522.81 L1239.55,525.66 L1240.00,528.55 L1240.45,531.47 L1240.91,534.42 L1241.36,537.39 L1241.82,540.40 L1242.27,543.43 L1242.73,546.48 L1243.18,549.56 L1243.64,552.67 L1244.09,555.79 L1244.55,558.94 L1245.00,562.11 L1245.45,565.29 L1245.91,568.50 L1246.36,571.72 L1246.82,574.96 L1247.27,578.21 L1247.73,581.48 L1248.18,584.76 L1248.64,588.06 L1249.09,591.36 L1249.55,594.68 L1250.00,598.00 L1250.45,601.33 L1250.91,604.67 L1251.36,608.02 L1251.82,611.37 L1252.27,614.72 L1252.73,618.08 L1253.18,621.44 L1253.64,624.80 L1254.09,628.17 L1254.55,631.54 L1255.00,634.91 L1255.45,638.28 L1255.91,641.66 L1256.36,645.03 L1256.82,648.41 L1257.27,651.79 L1257.73,655.16 L1258.18,658.54 L1258.64,661.92 L1259.09,665.29 L1259.55,668.67 L1260.00,672.04 L1260.45,675.41 L1260.91,678.78 L1261.36,682.15 L1261.82,685.51 L1262.27,688.87 L1262.73,692.23 L1263.18,695.59 L1263.64,698.94 L1264.09,702.29 L1264.55,705.63 L1265.00,708.96 L1265.45,712.30 L1265.91,715.62 L1266.36,718.95 L1266.82,722.26 L1267.27,725.57 L1267.73,728.87 L1268.18,732.17 L1268.64,735.46 L1269.09,738.74 L1269.55,742.01 L1270.00,745.28 L1270.45,748.53 L1270.91,751.78 L1271.36,755.02 L1271.82,758.25 L1272.27,761.47 L1272.73,764.68 L1273.18,767.87 L1273.64,771.06 L1274.09,774.24 L1274.55,777.41 L1275.00,780.56 L1275.45,783.70 L1275.91,786.83 L1276.36,789.95 L1276.82,793.06 L1277.27,796.15 L1277.73,799.23 L1278.18,802.29 L1278.64,805.34 L1279.09,808.38 L1279.55,811.40 L1280.00,814.41 L1280.45,817.40 L1280.91,820.38 L1281.36,823.35 L1281.82,826.30 L1282.27,829.24 L1282.73,832.16 L1283.18,835.07 L1283.64,837.97 L1284.09,840.85 L1284.55,843.72 L1285.00,846.58 L1285.45,849.42 L1285.91,852.26 L1286.36,855.08 L1286.82,857.89 L1287.27,860.68 L1287.73,863.47 L1288.18,866.24 L1288.64,869.00 L1289.09,871.75 L1289.55,874.48 L1290.00,877.21 L1290.45,879.93 L1290.91,882.63 L1291.36,885.32 L1291.82,888.01 L1292.27,890.68 L1292.73,893.34 L1293.18,895.99 L1293.64,898.63 L1294.09,901.27 L1294.55,903.89 L1295.00,906.50 L1295.45,909.10 L1295.91,911.70 L1296.36,914.28 L1296.82,916.86 L1297.27,919.43 L1297.73,921.98 L1298.18,924.53 L1298.64,927.07 L1299.09,929.61 L1299.55,932.13 L1300.00,934.65 L1300.45,937.16 L1300.91,939.66 L1301.36,942.15 L1301.82,944.64 L1302.27,947.12 L1302.73,949.59 L1303.18,952.06 L1303.64,954.51 L1304.09,956.96 L1304.55,959.41 L1305.00,961.84 L1305.45,964.27 L1305.91,966.68 L1306.36,969.09 L1306.82,971.49 L1307.27,973.89 L1307.73,976.27 L1308.18,978.64 L1308.64,981.01 L1309.09,983.36 L1309.55,985.71 L1310.00,988.04 L1310.45,990.37 L1310.91,992.68 L1311.36,994.98 L1311.82,997.28 L1312.27,999.56 L1312.73,1001.83 L1313.18,1004.09 L1313.64,1006.34 L1314.09,1008.58 L1314.55,1010.80 L1315.00,1013.01 L1315.45,1015.21 L1315.91,1017.40 L1316.36,1019.58 L1316.82,1021.74 L1317.27,1023.89 L1317.73,1026.03 L1318.18,1028.15 L1318.64,1030.26 L1319.09,1032.36 L1319.55,1034.44 L1320.00,1036.51 L1320.45,1038.56 L1320.91,1040.60 L1321.36,1042.63 L1321.82,1044.64 L1322.27,1046.63 L1322.73,1048.61 L1323.18,1050.58 L1323.64,1052.52 L1324.09,1054.46 L1324.55,1056.38 L1325.00,1058.28 L1325.45,1060.17 L1325.91,1062.04 L1326.36,1063.89 L1326.82,1065.73 L1327.27,1067.56 L1327.73,1069.37 L1328.18,1071.17 L1328.64,1072.95 L1329.09,1074.72 L1329.55,1076.47 L1330.00,1078.20 L1330.45,1079.93 L1330.91,1081.64 L1331.36,1083.33 L1331.82,1085.01 L1332.27,1086.68 L1332.73,1088.33 L1333.18,1089.96 L1333.64,1091.59 L1334.09,1093.20 L1334.55,1094.79 L1335.00,1096.37 L1335.45,1097.94 L1335.91,1099.50 L1336.36,1101.04 L1336.82,1102.57 L1337.27,1104.08 L1337.73,1105.58 L1338.18,1107.07 L1338.64,1108.54 L1339.09,1110.01 L1339.55,1111.46 L1340.00,1112.89 L1340.45,1114.31 L1340.91,1115.73 L1341.36,1117.12 L1341.82,1118.51 L1342.27,1119.88 L1342.73,1121.24 L1343.18,1122.59 L1343.64,1123.93 L1344.09,1125.25 L1344.55,1126.56 L1345.00,1127.86 L1345.45,1129.15 L1345.91,1130.43 L1346.36,1131.69 L1346.82,1132.94 L1347.27,1134.19 L1347.73,1135.42 L1348.18,1136.63 L1348.64,1137.84 L1349.09,1139.04 L1349.55,1140.22 L1350.00,1141.39 L1350.45,1142.56 L1350.91,1143.71 L1351.36,1144.85 L1351.82,1145.98 L1352.27,1147.10 L1352.73,1148.21 L1353.18,1149.30 L1353.64,1150.39 L1354.09,1151.47 L1354.55,1152.53 L1355.00,1153.59 L1355.45,1154.64 L1355.91,1155.67 L1356.36,1156.70 L1356.82,1157.72 L1357.27,1158.72 L1357.73,1159.72 L1358.18,1160.71 L1358.64,1161.68 L1359.09,1162.65 L1359.55,1163.61 L1360.00,1164.56 L1360.45,1165.50 L1360.91,1166.43 L1361.36,1167.35 L1361.82,1168.26 L1362.27,1169.17 L1362.73,1170.06 L1363.18,1170.95 L1363.64,1171.83 L1364.09,1172.69 L1364.55,1173.55 L1365.00,1174.40 L1365.45,1175.25 L1365.91,1176.08 L1366.36,1176.91 L1366.82,1177.73 L1367.27,1178.54 L1367.73,1179.34 L1368.18,1180.13 L1368.64,1180.92 L1369.09,1181.70 L1369.55,1182.47 L1370.00,1183.23 L1370.45,1183.99 L1370.91,1184.74 L1371.36,1185.48 L1371.82,1186.21 L1372.27,1186.94 L1372.73,1187.66 L1373.18,1188.37 L1373.64,1189.08 L1374.09,1189.77 L1374.55,1190.47 L1375.00,1191.15 L1375.45,1191.83 L1375.91,1192.50 L1376.36,1193.17 L1376.82,1193.82 L1377.27,1194.48 L1377.73,1195.12 L1378.18,1195.76 L1378.64,1196.40 L1379.09,1197.03 L1379.55,1197.65 L1380.00,1198.26 L1380.45,1198.87 L1380.91,1199.48 L1381.36,1200.08 L1381.82,1200.67 L1382.27,1201.26 L1382.73,1201.84 L1383.18,1202.42 L1383.64,1202.99 L1384.09,1203.56 L1384.55,1204.12 L1385.00,1204.68 L1385.45,1205.23 L1385.91,1205.77 L1386.36,1206.32 L1386.82,1206.85 L1387.27,1207.39 L1387.73,1207.92 L1388.18,1208.44 L1388.64,1208.96 L1389.09,1209.48 L1389.55,1209.99 L1390.00,1210.49 L1390.45,1211.00 L1390.91,1211.50 L1391.36,1211.99 L1391.82,1212.48 L1392.27,1212.97 L1392.73,1213.46 L1393.18,1213.94 L1393.64,1214.41 L1394.09,1214.89 L1394.55,1215.36 L1395.00,1215.83 L1395.45,1216.29 L1395.91,1216.75 L1396.36,1217.21 L1396.82,1217.66 L1397.27,1218.12 L1397.73,1218.56 L1398.18,1219.01 L1398.64,1219.45 L1399.09,1219.89 L1399.55,1220.33 L1400.00,1220.77 L1400.45,1221.20 L1400.91,1221.63 L1401.36,1222.05 L1401.82,1222.47 L1402.27,1222.89 L1402.73,1223.31 L1403.18,1223.72 L1403.64,1224.14 L1404.09,1224.54 L1404.55,1224.95 L1405.00,1225.35 L1405.45,1225.75 L1405.91,1226.15 L1406.36,1226.54 L1406.82,1226.93 L1407.27,1227.32 L1407.73,1227.71 L1408.18,1228.09 L1408.64,1228.47 L1409.09,1228.85 L1409.55,1229.23 L1410.00,1229.60 L1410.45,1229.97 L1410.91,1230.34 L1411.36,1230.70 L1411.82,1231.06 L1412.27,1231.42 L1412.73,1231.78 L1413.18,1232.13 L1413.64,1232.48 L1414.09,1232.83 L1414.55,1233.18 L1415.00,1233.52 L1415.45,1233.86 L1415.91,1234.20 L1416.36,1234.53 L1416.82,1234.87 L1417.27,1235.20 L1417.73,1235.53 L1418.18,1235.85 L1418.64,1236.17 L1419.09,1236.50 L1419.55,1236.81 L1420.00,1237.13 L1420.45,1237.44 L1420.91,1237.75 L1421.36,1238.06 L1421.82,1238.37 L1422.27,1238.67 L1422.73,1238.97 L1423.18,1239.27 L1423.64,1239.57 L1424.09,1239.86 L1424.55,1240.15 L1425.00,1240.44 L1425.45,1240.73 L1425.91,1241.01 L1426.36,1241.29 L1426.82,1241.57 L1427.27,1241.85 L1427.73,1242.12 L1428.18,1242.40 L1428.64,1242.67 L1429.09,1242.94 L1429.55,1243.20 L1430.00,1243.47 L1430.45,1243.73 L1430.91,1243.99 L1431.36,1244.24 L1431.82,1244.50 L1432.27,1244.75 L1432.73,1245.00 L1433.18,1245.25 L1433.64,1245.50 L1434.09,1245.74 L1434.55,1245.98 L1435.00,1246.22 L1435.45,1246.46 L1435.91,1246.69 L1436.36,1246.93 L1436.82,1247.16 L1437.27,1247.39 L1437.73,1247.61 L1438.18,1247.84 L1438.64,1248.06 L1439.09,1248.28 L1439.55,1248.50 L1440.00,1248.72 L1440.45,1248.93 L1440.91,1249.15 L1441.36,1249.36 L1441.82,1249.57 L1442.27,1249.77 L1442.73,1249.98 L1443.18,1250.18 L1443.64,1250.38 L1444.09,1250.58 L1444.55,1250.78 L1445.00,1250.97 L1445.45,1251.17 L1445.91,1251.36 L1446.36,1251.55 L1446.82,1251.74 L1447.27,1251.92 L1447.73,1252.11 L1448.18,1252.29 L1448.64,1252.47 L1449.09,1252.65 L1449.55,1252.82 L1450.00,1253.00 L1450.45,1253.17 L1450.91,1253.34 L1451.36,1253.51 L1451.82,1253.68 L1452.27,1253.85 L1452.73,1254.01 L1453.18,1254.17 L1453.64,1254.33 L1454.09,1254.49 L1454.55,1254.65 L1455.00,1254.81 L1455.45,1254.96 L1455.91,1255.11 L1456.36,1255.26 L1456.82,1255.41 L1457.27,1255.56 L1457.73,1255.71 L1458.18,1255.85 L1458.64,1255.99 L1459.09,1256.14 L1459.55,1256.28 L1460.00,1256.41 L1460.45,1256.55 L1460.91,1256.68 L1461.36,1256.82 L1461.82,1256.95 L1462.27,1257.08 L1462.73,1257.21 L1463.18,1257.34 L1463.64,1257.46 L1464.09,1257.59 L1464.55,1257.71 L1465.00,1257.83 L1465.45,1257.95 L1465.91,1258.07 L1466.36,1258.19 L1466.82,1258.30 L1467.27,1258.42 L1467.73,1258.53 L1468.18,1258.64 L1468.64,1258.75 L1469.09,1258.86 L1469.55,1258.97 L1470.00,1259.07 L1470.45,1259.18 L1470.91,1259.28 L1471.36,1259.38 L1471.82,1259.49 L1472.27,1259.59 L1472.73,1259.68 L1473.18,1259.78 L1473.64,1259.88 L1474.09,1259.97 L1474.55,1260.06 L1475.00,1260.16 L1475.45,1260.25 L1475.91,1260.34 L1476.36,1260.43 L1476.82,1260.51 L1477.27,1260.60 L1477.73,1260.68 L1478.18,1260.77 L1478.64,1260.85 L1479.09,1260.93 L1479.55,1261.01 L1480.00,1261.09 L1480.45,1261.17 L1480.91,1261.25 L1481.36,1261.32 L1481.82,1261.40 L1482.27,1261.47 L1482.73,1261.54 L1483.18,1261.62 L1483.64,1261.69 L1484.09,1261.76 L1484.55,1261.82 L1485.00,1261.89 L1485.45,1261.96 L1485.91,1262.02 L1486.36,1262.09 L1486.82,1262.15 L1487.27,1262.22 L1487.73,1262.28 L1488.18,1262.34 L1488.64,1262.40 L1489.09,1262.46 L1489.55,1262.52 L1490.00,1262.57 L1490.45,1262.63 L1490.91,1262.69 L1491.36,1262.74 L1491.82,1262.79 L1492.27,1262.85 L1492.73,1262.90 L1493.18,1262.95 L1493.64,1263.00 L1494.09,1263.05 L1494.55,1263.10 L1495.00,1263.15 L1495.45,1263.20 L1495.91,1263.24 L1496.36,1263.29 L1496.82,1263.33 L1497.27,1263.38 L1497.73,1263.42 L1498.18,1263.47 L1498.64,1263.51 L1499.09,1263.55 L1499.55,1263.59 L1500.00,1263.63 L1500.45,1263.67 L1500.91,1263.71 L1501.36,1263.75 L1501.82,1263.79 L1502.27,1263.82 L1502.73,1263.86 L1503.18,1263.90 L1503.64,1263.93 L1504.09,1263.97 L1504.55,1264.00 L1505.00,1264.04 L1505.45,1264.07 L1505.91,1264.10 L1506.36,1264.13 L1506.82,1264.17 L1507.27,1264.20 L1507.73,1264.23 L1508.18,1264.26 L1508.64,1264.29 L1509.09,1264.32 L1509.55,1264.35 L1510.00,1264.37 L1510.45,1264.40 L1510.91,1264.43 L1511.36,1264.46 L1511.82,1264.48 L1512.27,1264.51 L1512.73,1264.54 L1513.18,1264.56 L1513.64,1264.59 L1514.09,1264.61 L1514.55,1264.64 L1515.00,1264.66 L1515.45,1264.69 L1515.91,1264.71 L1516.36,1264.73 L1516.82,1264.76 L1517.27,1264.78 L1517.73,1264.80 L1518.18,1264.83 L1518.64,1264.85 L1519.09,1264.87 L1519.55,1264.89 L1520.00,1264.91 L1520.45,1264.93 L1520.91,1264.96 L1521.36,1264.98 L1521.82,1265.00 L1522.27,1265.02 L1522.73,1265.04 L1523.18,1265.06 L1523.64,1265.08 L1524.09,1265.10 L1524.55,1265.12 L1525.00,1265.14 L1525.45,1265.16 L1525.91,1265.18 L1526.36,1265.20 L1526.82,1265.22 L1527.27,1265.24 L1527.73,1265.26 L1528.18,1265.28 L1528.64,1265.30 L1529.09,1265.32 L1529.55,1265.34 L1530.00,1265.36 L1530.45,1265.38 L1530.91,1265.40 L1531.36,1265.41 L1531.82,1265.43 L1532.27,1265.45 L1532.73,1265.47 L1533.18,1265.49 L1533.64,1265.51 L1534.09,1265.53 L1534.55,1265.56 L1535.00,1265.58 L1535.45,1265.60 L1535.91,1265.62 L1536.36,1265.64 L1536.82,1265.66 L1537.27,1265.68 L1537.73,1265.70 L1538.18,1265.72 L1538.64,1265.75 L1539.09,1265.77 L1539.55,1265.79 L1540.00,1265.81 L1540.45,1265.83 L1540.91,1265.86 L1541.36,1265.88 L1541.82,1265.90 L1542.27,1265.93 L1542.73,1265.95 L1543.18,1265.97 L1543.64,1266.00 L1544.09,1266.02 L1544.55,1266.04 L1545.00,1266.07 L1545.45,1266.09 L1545.91,1266.11 L1546.36,1266.14 L1546.82,1266.16 L1547.27,1266.19 L1547.73,1266.21 L1548.18,1266.24 L1548.64,1266.26 L1549.09,1266.29 L1549.55,1266.31 L1550.00,1266.34 L1550.45,1266.36 L1550.91,1266.39 L1551.36,1266.41 L1551.82,1266.44 L1552.27,1266.46 L1552.73,1266.49 L1553.18,1266.52 L1553.64,1266.54 L1554.09,1266.57 L1554.55,1266.59 L1555.00,1266.62 L1555.45,1266.65 L1555.91,1266.67 L1556.36,1266.70 L1556.82,1266.73 L1557.27,1266.75 L1557.73,1266.78 L1558.18,1266.81 L1558.64,1266.83 L1559.09,1266.86 L1559.55,1266.89 L1560.00,1266.91 L1560.45,1266.94 L1560.91,1266.97 L1561.36,1267.00 L1561.82,1267.02 L1562.27,1267.05 L1562.73,1267.08 L1563.18,1267.11 L1563.64,1267.13 L1564.09,1267.16 L1564.55,1267.19 L1565.00,1267.22 L1565.45,1267.25 L1565.91,1267.27 L1566.36,1267.30 L1566.82,1267.33 L1567.27,1267.36 L1567.73,1267.39 L1568.18,1267.41 L1568.64,1267.44 L1569.09,1267.47 L1569.55,1267.50 L1570.00,1267.53 L1570.45,1267.56 L1570.91,1267.58 L1571.36,1267.61 L1571.82,1267.64 L1572.27,1267.67 L1572.73,1267.70 L1573.18,1267.73 L1573.64,1267.75 L1574.09,1267.78 L1574.55,1267.81 L1575.00,1267.84 L1575.45,1267.87 L1575.91,1267.90 L1576.36,1267.93 L1576.82,1267.95 L1577.27,1267.98 L1577.73,1268.01 L1578.18,1268.04 L1578.64,1268.07 L1579.09,1268.10 L1579.55,1268.13 L1580.00,1268.15 L1580.45,1268.18 L1580.91,1268.21 L1581.36,1268.24 L1581.82,1268.27 L1582.27,1268.30 L1582.73,1268.32 L1583.18,1268.35 L1583.64,1268.38 L1584.09,1268.41 L1584.55,1268.44 L1585.00,1268.47 L1585.45,1268.49 L1585.91,1268.52 L1586.36,1268.55 L1586.82,1268.58 L1587.27,1268.61 L1587.73,1268.64 L1588.18,1268.66 L1588.64,1268.69 L1589.09,1268.72 L1589.55,1268.75 L1590.00,1268.78 L1590.45,1268.80 L1590.91,1268.83 L1591.36,1268.86 L1591.82,1268.89 L1592.27,1268.91 L1592.73,1268.94 L1593.18,1268.97 L1593.64,1269.00 L1594.09,1269.02 L1594.55,1269.05 L1595.00,1269.08 L1595.45,1269.11 L1595.91,1269.13 L1596.36,1269.16 L1596.82,1269.19 L1597.27,1269.21 L1597.73,1269.24 L1598.18,1269.27 L1598.64,1269.29 L1599.09,1269.32 L1599.55,1269.35 L1600.00,1269.37 L1600.45,1269.40 L1600.91,1269.43 L1601.36,1269.45 L1601.82,1269.48 L1602.27,1269.50 L1602.73,1269.53 L1603.18,1269.56 L1603.64,1269.58 L1604.09,1269.61 L1604.55,1269.63 L1605.00,1269.66 L1605.45,1269.68 L1605.91,1269.71 L1606.36,1269.73 L1606.82,1269.76 L1607.27,1269.78 L1607.73,1269.81 L1608.18,1269.83 L1608.64,1269.85 L1609.09,1269.88 L1609.55,1269.90 L1610.00,1269.93 L1610.45,1269.95 L1610.91,1269.97 L1611.36,1270.00 L1611.82,1270.02 L1612.27,1270.04 L1612.73,1270.07 L1613.18,1270.09 L1613.64,1270.11 L1614.09,1270.14 L1614.55,1270.16 L1615.00,1270.18 L1615.45,1270.20 L1615.91,1270.23 L1616.36,1270.25 L1616.82,1270.27 L1617.27,1270.29 L1617.73,1270.31 L1618.18,1270.33 L1618.64,1270.36 L1619.09,1270.38 L1619.55,1270.40 L1620.00,1270.42 L1620.45,1270.44 L1620.91,1270.46 L1621.36,1270.48 L1621.82,1270.50 L1622.27,1270.52 L1622.73,1270.54 L1623.18,1270.56 L1623.64,1270.58 L1624.09,1270.60 L1624.55,1270.61 L1625.00,1270.63 L1625.45,1270.65 L1625.91,1270.67 L1626.36,1270.69 L1626.82,1270.71 L1627.27,1270.72 L1627.73,1270.74 L1628.18,1270.76 L1628.64,1270.78 L1629.09,1270.79 L1629.55,1270.81 L1630.00,1270.83 L1630.45,1270.84 L1630.91,1270.86 L1631.36,1270.87 L1631.82,1270.89 L1632.27,1270.90 L1632.73,1270.92 L1633.18,1270.93 L1633.64,1270.95 L1634.09,1270.96 L1634.55,1270.98 L1635.00,1270.99 L1635.45,1271.01 L1635.91,1271.02 L1636.36,1271.03 L1636.82,1271.05 L1637.27,1271.06 L1637.73,1271.07 L1638.18,1271.08 L1638.64,1271.10 L1639.09,1271.11 L1639.55,1271.12 L1640.00,1271.13 L1640.45,1271.14 L1640.91,1271.15 L1641.36,1271.16 L1641.82,1271.17 L1642.27,1271.18 L1642.73,1271.19 L1643.18,1271.20 L1643.64,1271.21 L1644.09,1271.22 L1644.55,1271.23 L1645.00,1271.24 L1645.45,1271.25 L1645.91,1271.26 L1646.36,1271.26 L1646.82,1271.27 L1647.27,1271.28 L1647.73,1271.29 L1648.18,1271.29 L1648.64,1271.30 L1649.09,1271.30 L1649.55,1271.31 L1650.00,1271.32 L1650.45,1271.32 L1650.91,1271.33 L1651.36,1271.33 L1651.82,1271.33 L1652.27,1271.34 L1652.73,1271.34 L1653.18,1271.35 L1653.64,1271.35 L1654.09,1271.35 L1654.55,1271.35 L1655.00,1271.36 L1655.45,1271.36 L1655.91,1271.36 L1656.36,1271.36 L1656.82,1271.36 L1657.27,1271.36 L1657.73,1271.36 L1658.18,1271.36 L1658.64,1271.36 L1659.09,1271.36 L1659.55,1271.36 L1660.00,1271.36 L1660.45,1271.36 L1660.91,1271.36 L1661.36,1271.35 L1661.82,1271.35 L1662.27,1271.35 L1662.73,1271.34 L1663.18,1271.34 L1663.64,1271.34 L1664.09,1271.33 L1664.55,1271.33 L1665.00,1271.32 L1665.45,1271.32 L1665.91,1271.31 L1666.36,1271.30 L1666.82,1271.30 L1667.27,1271.29 L1667.73,1271.28 L1668.18,1271.28 L1668.64,1271.27 L1669.09,1271.26 L1669.55,1271.25 L1670.00,1271.24 L1670.45,1271.23 L1670.91,1271.22 L1671.36,1271.21 L1671.82,1271.20 L1672.27,1271.19 L1672.73,1271.18 L1673.18,1271.17 L1673.64,1271.16 L1674.09,1271.14 L1674.55,1271.13 L1675.00,1271.12 L1675.45,1271.10 L1675.91,1271.09 L1676.36,1271.08 L1676.82,1271.06 L1677.27,1271.05 L1677.73,1271.03 L1678.18,1271.01 L1678.64,1271.00 L1679.09,1270.98 L1679.55,1270.96 L1680.00,1270.95 L1680.45,1270.93 L1680.91,1270.91 L1681.36,1270.89 L1681.82,1270.87 L1682.27,1270.85 L1682.73,1270.83 L1683.18,1270.81 L1683.64,1270.79 L1684.09,1270.77 L1684.55,1270.75 L1685.00,1270.72 L1685.45,1270.70 L1685.91,1270.68 L1686.36,1270.65 L1686.82,1270.63 L1687.27,1270.61 L1687.73,1270.58 L1688.18,1270.56 L1688.64,1270.53 L1689.09,1270.50 L1689.55,1270.48 L1690.00,1270.45 L1690.45,1270.42 L1690.91,1270.39 L1691.36,1270.36 L1691.82,1270.34 L1692.27,1270.31 L1692.73,1270.28 L1693.18,1270.25 L1693.64,1270.22 L1694.09,1270.18 L1694.55,1270.15 L1695.00,1270.12 L1695.45,1270.09 L1695.91,1270.05 L1696.36,1270.02 L1696.82,1269.99 L1697.27,1269.95 L1697.73,1269.92 L1698.18,1269.88 L1698.64,1269.85 L1699.09,1269.81" fill="none" stroke="#31AD65" stroke-width="9.4" stroke-linejoin="round" stroke-linecap="butt"/></g>
<polygon points="268.0,1283.57 270.0,1283.58 272.0,1283.59 274.0,1283.60 276.0,1283.61 278.0,1283.62 280.0,1283.63 282.0,1283.63 284.0,1283.64 286.0,1283.64 288.0,1283.65 290.0,1283.65 292.0,1283.65 294.0,1283.65 296.0,1283.65 298.0,1283.65 300.0,1283.65 302.0,1283.65 304.0,1283.65 306.0,1283.64 308.0,1283.64 310.0,1283.63 312.0,1283.63 314.0,1283.62 316.0,1283.61 318.0,1283.60 320.0,1283.59 322.0,1283.58 324.0,1283.57 326.0,1283.56 328.0,1283.55 330.0,1283.53 332.0,1283.52 334.0,1283.51 336.0,1283.49 338.0,1283.47 340.0,1283.46 342.0,1283.44 344.0,1283.42 346.0,1283.40 348.0,1283.38 350.0,1283.36 352.0,1283.34 354.0,1283.32 356.0,1283.30 358.0,1283.27 360.0,1283.25 362.0,1283.23 364.0,1283.20 366.0,1283.17 368.0,1283.15 370.0,1283.12 372.0,1283.09 374.0,1283.07 376.0,1283.04 378.0,1283.01 380.0,1282.98 382.0,1282.95 384.0,1282.91 386.0,1282.88 388.0,1282.85 390.0,1282.82 392.0,1282.78 394.0,1282.75 396.0,1282.71 398.0,1282.68 400.0,1282.64 402.0,1282.60 404.0,1282.57 406.0,1282.53 408.0,1282.49 410.0,1282.45 412.0,1282.41 414.0,1282.37 416.0,1282.33 418.0,1282.29 420.0,1282.25 422.0,1282.21 424.0,1282.17 426.0,1282.12 428.0,1282.08 430.0,1282.04 432.0,1281.99 434.0,1281.95 436.0,1281.90 438.0,1281.86 440.0,1281.81 442.0,1281.76 444.0,1281.71 446.0,1281.67 448.0,1281.62 450.0,1281.57 452.0,1281.52 454.0,1281.47 456.0,1281.42 458.0,1281.37 460.0,1281.32 462.0,1281.27 464.0,1281.22 466.0,1281.17 468.0,1281.11 470.0,1281.06 472.0,1281.01 474.0,1280.96 476.0,1280.90 478.0,1280.85 480.0,1280.79 482.0,1280.74 484.0,1280.68 486.0,1280.63 488.0,1280.57 490.0,1280.52 492.0,1280.46 494.0,1280.40 496.0,1280.34 498.0,1280.29 500.0,1280.23 502.0,1280.17 504.0,1280.11 506.0,1280.05 508.0,1280.00 510.0,1279.94 512.0,1279.88 514.0,1279.82 516.0,1279.76 518.0,1279.70 520.0,1279.64 522.0,1279.58 524.0,1279.51 526.0,1279.45 528.0,1279.39 530.0,1279.33 532.0,1279.27 534.0,1279.21 536.0,1279.14 538.0,1279.08 540.0,1279.02 542.0,1278.95 544.0,1278.89 546.0,1278.83 548.0,1278.76 550.0,1278.70 552.0,1278.64 554.0,1278.57 556.0,1278.51 558.0,1278.44 560.0,1278.38 562.0,1278.31 564.0,1278.25 566.0,1278.18 568.0,1278.12 570.0,1278.05 572.0,1277.99 574.0,1277.92 576.0,1277.86 578.0,1277.79 580.0,1277.73 582.0,1277.66 584.0,1277.59 586.0,1277.53 588.0,1277.46 590.0,1277.40 592.0,1277.33 594.0,1277.26 596.0,1277.20 598.0,1277.13 600.0,1277.06 602.0,1277.00 604.0,1276.93 606.0,1276.86 608.0,1276.80 610.0,1276.73 612.0,1276.66 614.0,1276.60 616.0,1276.53 618.0,1276.46 620.0,1276.40 622.0,1276.33 624.0,1276.26 626.0,1276.20 628.0,1276.13 630.0,1276.06 632.0,1276.00 634.0,1275.93 636.0,1275.87 638.0,1275.80 640.0,1275.73 642.0,1275.67 644.0,1275.60 646.0,1275.53 648.0,1275.47 650.0,1275.40 652.0,1275.34 654.0,1275.27 656.0,1275.20 658.0,1275.14 660.0,1275.07 662.0,1275.01 664.0,1274.94 666.0,1274.88 668.0,1274.81 670.0,1274.75 672.0,1274.68 674.0,1274.62 676.0,1274.55 678.0,1274.49 680.0,1274.43 682.0,1274.36 684.0,1274.30 686.0,1274.23 688.0,1274.17 690.0,1274.11 692.0,1274.04 694.0,1273.98 696.0,1273.92 698.0,1273.86 700.0,1273.79 702.0,1273.73 704.0,1273.67 706.0,1273.61 708.0,1273.55 710.0,1273.49 712.0,1273.43 714.0,1273.36 716.0,1273.30 718.0,1273.24 720.0,1273.18 722.0,1273.13 724.0,1273.07 726.0,1273.01 728.0,1272.95 730.0,1272.89 732.0,1272.83 734.0,1272.77 736.0,1272.72 738.0,1272.66 740.0,1272.60 742.0,1272.55 744.0,1272.49 746.0,1272.43 748.0,1272.38 750.0,1272.32 752.0,1272.27 754.0,1272.21 756.0,1272.16 758.0,1272.11 760.0,1272.05 762.0,1272.00 764.0,1271.95 766.0,1271.89 768.0,1271.84 770.0,1271.79 772.0,1271.74 774.0,1271.69 776.0,1271.64 778.0,1271.59 780.0,1271.54 782.0,1271.49 784.0,1271.44 786.0,1271.39 788.0,1271.35 790.0,1271.30 792.0,1271.25 794.0,1271.20 796.0,1271.16 798.0,1271.11 800.0,1271.07 802.0,1271.02 804.0,1270.98 806.0,1270.94 808.0,1270.89 810.0,1270.85 812.0,1270.81 814.0,1270.77 816.0,1270.73 818.0,1270.69 820.0,1270.65 822.0,1270.61 824.0,1270.57 826.0,1270.53 828.0,1270.49 830.0,1270.45 832.0,1270.42 834.0,1270.38 836.0,1270.34 838.0,1270.31 840.0,1270.28 842.0,1270.24 844.0,1270.21 846.0,1270.18 848.0,1270.14 850.0,1270.11 852.0,1270.16 854.0,1270.22 856.0,1270.27 858.0,1270.33 860.0,1270.38 862.0,1270.44 864.0,1270.49 866.0,1270.55 868.0,1270.61 870.0,1270.66 872.0,1270.72 874.0,1270.78 876.0,1270.84 878.0,1270.90 880.0,1270.96 882.0,1271.02 884.0,1271.08 886.0,1271.14 888.0,1271.20 890.0,1271.26 892.0,1271.32 894.0,1271.38 896.0,1271.43 898.0,1271.49 900.0,1271.54 902.0,1271.60 904.0,1271.65 906.0,1271.70 908.0,1271.75 910.0,1271.79 912.0,1271.77 914.0,1271.74 916.0,1271.70 918.0,1271.67 920.0,1271.63 922.0,1271.59 924.0,1271.55 926.0,1271.51 928.0,1271.46 930.0,1271.41 932.0,1271.36 934.0,1271.30 936.0,1271.24 938.0,1271.17 940.0,1271.11 942.0,1271.03 944.0,1270.96 946.0,1270.88 948.0,1270.79 950.0,1270.70 952.0,1270.61 954.0,1270.51 956.0,1270.41 958.0,1270.30 960.0,1270.19 962.0,1270.07 964.0,1269.95 966.0,1269.82 968.0,1269.69 970.0,1269.55 972.0,1269.40 974.0,1269.25 976.0,1269.09 978.0,1268.93 980.0,1268.76 982.0,1268.58 984.0,1268.40 986.0,1268.21 988.0,1268.01 990.0,1267.81 992.0,1267.60 994.0,1267.38 996.0,1267.16 998.0,1266.92 1000.0,1266.68 1002.0,1266.45 1004.0,1266.21 1006.0,1265.96 1008.0,1265.70 1010.0,1265.44 1012.0,1265.17 1014.0,1264.88 1016.0,1264.59 1018.0,1264.29 1020.0,1263.99 1022.0,1263.67 1024.0,1263.34 1026.0,1263.01 1028.0,1262.66 1030.0,1262.31 1032.0,1261.94 1034.0,1261.57 1036.0,1261.18 1038.0,1260.79 1040.0,1260.38 1042.0,1259.97 1044.0,1259.54 1046.0,1259.11 1048.0,1258.66 1050.0,1258.20 1052.0,1257.73 1054.0,1257.26 1056.0,1256.76 1058.0,1256.26 1060.0,1255.75 1060.0,1265.15 1058.0,1265.72 1056.0,1266.27 1054.0,1266.82 1052.0,1267.35 1050.0,1267.87 1048.0,1268.38 1046.0,1268.88 1044.0,1269.37 1042.0,1269.85 1040.0,1270.32 1038.0,1270.78 1036.0,1271.22 1034.0,1271.66 1032.0,1272.09 1030.0,1272.51 1028.0,1272.91 1026.0,1273.31 1024.0,1273.70 1022.0,1274.08 1020.0,1274.45 1018.0,1274.81 1016.0,1275.17 1014.0,1275.51 1012.0,1275.85 1010.0,1276.17 1008.0,1276.49 1006.0,1276.80 1004.0,1277.10 1002.0,1277.40 1000.0,1277.68 998.0,1277.95 996.0,1278.20 994.0,1278.45 992.0,1278.69 990.0,1278.92 988.0,1279.15 986.0,1279.37 984.0,1279.58 982.0,1279.78 980.0,1279.98 978.0,1280.17 976.0,1280.36 974.0,1280.54 972.0,1280.71 970.0,1280.88 968.0,1281.04 966.0,1281.20 964.0,1281.35 962.0,1281.50 960.0,1281.64 958.0,1281.77 956.0,1281.90 954.0,1282.02 952.0,1282.14 950.0,1282.26 948.0,1282.37 946.0,1282.48 944.0,1282.58 942.0,1282.68 940.0,1282.77 938.0,1282.86 936.0,1282.95 934.0,1283.03 932.0,1283.11 930.0,1283.19 928.0,1283.26 926.0,1283.33 924.0,1283.40 922.0,1283.46 920.0,1283.52 918.0,1283.58 916.0,1283.64 914.0,1283.69 912.0,1283.74 910.0,1283.79 908.0,1283.91 906.0,1284.03 904.0,1284.15 902.0,1284.26 900.0,1284.38 898.0,1284.49 896.0,1284.60 894.0,1284.71 892.0,1284.82 890.0,1284.93 888.0,1285.03 886.0,1285.14 884.0,1285.25 882.0,1285.36 880.0,1285.46 878.0,1285.57 876.0,1285.68 874.0,1285.78 872.0,1285.89 870.0,1286.00 868.0,1286.11 866.0,1286.22 864.0,1286.33 862.0,1286.44 860.0,1286.55 858.0,1286.66 856.0,1286.77 854.0,1286.88 852.0,1287.00 850.0,1287.11 848.0,1287.14 846.0,1287.18 844.0,1287.21 842.0,1287.24 840.0,1287.28 838.0,1287.31 836.0,1287.34 834.0,1287.38 832.0,1287.42 830.0,1287.45 828.0,1287.49 826.0,1287.53 824.0,1287.57 822.0,1287.61 820.0,1287.65 818.0,1287.69 816.0,1287.73 814.0,1287.77 812.0,1287.81 810.0,1287.85 808.0,1287.89 806.0,1287.94 804.0,1287.98 802.0,1288.02 800.0,1288.07 798.0,1288.11 796.0,1288.16 794.0,1288.20 792.0,1288.25 790.0,1288.30 788.0,1288.35 786.0,1288.39 784.0,1288.44 782.0,1288.49 780.0,1288.54 778.0,1288.59 776.0,1288.64 774.0,1288.69 772.0,1288.74 770.0,1288.79 768.0,1288.84 766.0,1288.89 764.0,1288.95 762.0,1289.00 760.0,1289.05 758.0,1289.11 756.0,1289.16 754.0,1289.21 752.0,1289.27 750.0,1289.32 748.0,1289.38 746.0,1289.43 744.0,1289.49 742.0,1289.55 740.0,1289.60 738.0,1289.66 736.0,1289.72 734.0,1289.77 732.0,1289.83 730.0,1289.89 728.0,1289.95 726.0,1290.01 724.0,1290.07 722.0,1290.13 720.0,1290.18 718.0,1290.24 716.0,1290.30 714.0,1290.36 712.0,1290.43 710.0,1290.49 708.0,1290.55 706.0,1290.61 704.0,1290.67 702.0,1290.73 700.0,1290.79 698.0,1290.86 696.0,1290.92 694.0,1290.98 692.0,1291.04 690.0,1291.11 688.0,1291.17 686.0,1291.23 684.0,1291.30 682.0,1291.36 680.0,1291.43 678.0,1291.49 676.0,1291.55 674.0,1291.62 672.0,1291.68 670.0,1291.75 668.0,1291.81 666.0,1291.88 664.0,1291.94 662.0,1292.01 660.0,1292.07 658.0,1292.14 656.0,1292.20 654.0,1292.27 652.0,1292.34 650.0,1292.40 648.0,1292.47 646.0,1292.53 644.0,1292.60 642.0,1292.67 640.0,1292.73 638.0,1292.80 636.0,1292.87 634.0,1292.93 632.0,1293.00 630.0,1293.06 628.0,1293.13 626.0,1293.20 624.0,1293.26 622.0,1293.33 620.0,1293.40 618.0,1293.46 616.0,1293.53 614.0,1293.60 612.0,1293.66 610.0,1293.73 608.0,1293.80 606.0,1293.86 604.0,1293.93 602.0,1294.00 600.0,1294.06 598.0,1294.13 596.0,1294.20 594.0,1294.26 592.0,1294.33 590.0,1294.40 588.0,1294.46 586.0,1294.53 584.0,1294.59 582.0,1294.66 580.0,1294.73 578.0,1294.79 576.0,1294.86 574.0,1294.92 572.0,1294.99 570.0,1295.05 568.0,1295.12 566.0,1295.18 564.0,1295.25 562.0,1295.31 560.0,1295.38 558.0,1295.44 556.0,1295.51 554.0,1295.57 552.0,1295.64 550.0,1295.70 548.0,1295.76 546.0,1295.83 544.0,1295.89 542.0,1295.95 540.0,1296.02 538.0,1296.08 536.0,1296.14 534.0,1296.21 532.0,1296.27 530.0,1296.33 528.0,1296.39 526.0,1296.45 524.0,1296.51 522.0,1296.58 520.0,1296.64 518.0,1296.70 516.0,1296.76 514.0,1296.82 512.0,1296.88 510.0,1296.94 508.0,1297.00 506.0,1297.05 504.0,1297.11 502.0,1297.17 500.0,1297.23 498.0,1297.29 496.0,1297.34 494.0,1297.40 492.0,1297.46 490.0,1297.52 488.0,1297.57 486.0,1297.63 484.0,1297.68 482.0,1297.74 480.0,1297.79 478.0,1297.85 476.0,1297.90 474.0,1297.96 472.0,1298.01 470.0,1298.06 468.0,1298.11 466.0,1298.17 464.0,1298.22 462.0,1298.27 460.0,1298.32 458.0,1298.37 456.0,1298.42 454.0,1298.47 452.0,1298.52 450.0,1298.57 448.0,1298.62 446.0,1298.67 444.0,1298.71 442.0,1298.76 440.0,1298.81 438.0,1298.86 436.0,1298.90 434.0,1298.95 432.0,1298.99 430.0,1299.04 428.0,1299.08 426.0,1299.12 424.0,1299.17 422.0,1299.21 420.0,1299.25 418.0,1299.29 416.0,1299.33 414.0,1299.37 412.0,1299.41 410.0,1299.45 408.0,1299.49 406.0,1299.53 404.0,1299.57 402.0,1299.60 400.0,1299.64 398.0,1299.68 396.0,1299.71 394.0,1299.75 392.0,1299.78 390.0,1299.82 388.0,1299.85 386.0,1299.88 384.0,1299.91 382.0,1299.95 380.0,1299.98 378.0,1300.01 376.0,1300.04 374.0,1300.07 372.0,1300.09 370.0,1300.12 368.0,1300.15 366.0,1300.17 364.0,1300.20 362.0,1300.23 360.0,1300.25 358.0,1300.27 356.0,1300.30 354.0,1300.32 352.0,1300.34 350.0,1300.36 348.0,1300.38 346.0,1300.40 344.0,1300.42 342.0,1300.44 340.0,1300.46 338.0,1300.47 336.0,1300.49 334.0,1300.51 332.0,1300.52 330.0,1300.53 328.0,1300.55 326.0,1300.56 324.0,1300.57 322.0,1300.58 320.0,1300.59 318.0,1300.60 316.0,1300.61 314.0,1300.62 312.0,1300.63 310.0,1300.63 308.0,1300.64 306.0,1300.64 304.0,1300.65 302.0,1300.65 300.0,1300.65 298.0,1300.65 296.0,1300.65 294.0,1300.65 292.0,1300.65 290.0,1300.65 288.0,1300.65 286.0,1300.64 284.0,1300.64 282.0,1300.63 280.0,1300.63 278.0,1300.62 276.0,1300.61 274.0,1300.60 272.0,1300.59 270.0,1300.58 268.0,1300.57" fill="#31AD65"/>
<polygon points="283.30,1315.97 302.50,1284.97 264.10,1284.97" fill="#31AD65"/>
<polygon points="396.21,1315.77 415.41,1284.77 377.01,1284.77" fill="#31AD65"/>
<polygon points="513.89,1313.17 533.09,1282.17 494.69,1282.17" fill="#31AD65"/>
<polygon points="631.57,1309.47 650.77,1278.47 612.37,1278.47" fill="#31AD65"/>
<polygon points="749.25,1304.37 768.45,1273.37 730.05,1273.37" fill="#31AD65"/>
<polygon points="866.93,1302.17 886.13,1271.17 847.73,1271.17" fill="#31AD65"/>
<polygon points="984.61,1293.07 1003.81,1262.07 965.41,1262.07" fill="#31AD65"/>
<polygon points="1102.29,1266.57 1121.49,1235.57 1083.09,1235.57" fill="#31AD65"/>
<polygon points="1219.30,1089.67 1238.50,1058.67 1200.10,1058.67" fill="#31AD65"/>
<polygon points="1338.60,463.87 1357.80,432.87 1319.40,432.87" fill="#31AD65"/>
<polygon points="1455.80,1080.67 1475.00,1049.67 1436.60,1049.67" fill="#31AD65"/>
<polygon points="1574.70,1263.67 1593.90,1232.67 1555.50,1232.67" fill="#31AD65"/>
<polygon points="1689.60,1284.97 1708.80,1253.97 1670.40,1253.97" fill="#31AD65"/>
<polygon points="1806.90,1291.67 1826.10,1260.67 1787.70,1260.67" fill="#31AD65"/>
<ellipse cx="1885.70" cy="1270.20" rx="16" ry="15.2" fill="#FF0000"/>
<polygon points="303.6,1279.2 319.2,1279.2 317.2,1288.0 301.6,1288.0" fill="#FF0000"/>
<polygon points="357.8,1279.2 378.4,1279.2 376.4,1288.0 355.8,1288.0" fill="#FF0000"/>
<polygon points="418.2,1278.0 436.4,1278.0 434.4,1286.8 416.2,1286.8" fill="#FF0000"/>
<polygon points="476.2,1278.0 496.9,1278.0 494.9,1285.5 474.2,1285.5" fill="#FF0000"/>
<polygon points="535.4,1274.2 554.9,1274.2 552.9,1284.3 533.4,1284.3" fill="#FF0000"/>
<polygon points="594.7,1273.0 614.1,1273.0 612.1,1283.0 592.7,1283.0" fill="#FF0000"/>
<polygon points="651.4,1271.7 673.3,1271.7 671.3,1280.5 649.4,1280.5" fill="#FF0000"/>
<polygon points="710.6,1269.6 731.3,1269.6 729.3,1279.6 708.6,1279.6" fill="#FF0000"/>
<polygon points="769.5,1267.5 793.8,1267.5 791.8,1278.5 767.5,1278.5" fill="#FF0000"/>
<polygon points="829.0,1267.5 851.2,1267.5 849.2,1278.5 827.0,1278.5" fill="#FF0000"/>
<polygon points="886.5,1265.4 906.0,1265.4 904.0,1274.5 884.5,1274.5" fill="#FF0000"/>

</g>
<g class="tk"><rect x="240.8" y="1316.75" width="22" height="9.5" fill="#000"/><text x="222.7" y="1342.50" text-anchor="end">0.0</text><rect x="240.8" y="1160.48" width="22" height="9.5" fill="#000"/><text x="222.7" y="1186.23" text-anchor="end">0.1</text><rect x="240.8" y="1004.21" width="22" height="9.5" fill="#000"/><text x="222.7" y="1029.96" text-anchor="end">0.2</text><rect x="240.8" y="847.94" width="22" height="9.5" fill="#000"/><text x="222.7" y="873.69" text-anchor="end">0.3</text><rect x="240.8" y="691.67" width="22" height="9.5" fill="#000"/><text x="222.7" y="717.42" text-anchor="end">0.4</text><rect x="240.8" y="535.40" width="22" height="9.5" fill="#000"/><text x="222.7" y="561.15" text-anchor="end">0.5</text><rect x="240.8" y="379.13" width="22" height="9.5" fill="#000"/><text x="222.7" y="404.88" text-anchor="end">0.6</text><rect x="240.8" y="222.86" width="22" height="9.5" fill="#000"/><text x="222.7" y="248.61" text-anchor="end">0.7</text><rect x="240.8" y="66.59" width="22" height="9.5" fill="#000"/><text x="222.7" y="92.34" text-anchor="end">0.8</text><rect x="320.40" y="1403" width="10.4" height="22" fill="#000"/><text x="325.60" y="1500.5" text-anchor="middle">50</text><rect x="614.60" y="1403" width="10.4" height="22" fill="#000"/><text x="619.80" y="1500.5" text-anchor="middle">100</text><rect x="908.80" y="1403" width="10.4" height="22" fill="#000"/><text x="914.00" y="1500.5" text-anchor="middle">150</text><rect x="1203.00" y="1403" width="10.4" height="22" fill="#000"/><text x="1208.20" y="1500.5" text-anchor="middle">200</text><rect x="1497.20" y="1403" width="10.4" height="22" fill="#000"/><text x="1501.10" y="1500.5" text-anchor="middle">250</text><rect x="1791.40" y="1403" width="10.4" height="22" fill="#000"/><text x="1794.90" y="1500.5" text-anchor="middle">300</text></g>
<g id="legend"><rect x="288.8" y="101.1" width="645.4" height="390" fill="none" stroke="#222" stroke-width="2.4"/><line x1="300.5" y1="153.8" x2="468" y2="153.8" stroke="#000000" stroke-width="10" stroke-linecap="round"/><text x="487.8" y="179.6" class="b">Pure PBa</text><line x1="295.5" y1="247.8" x2="473" y2="247.8" stroke="#FF0000" stroke-width="7.6" stroke-linecap="butt"/><text x="487.8" y="273.5" class="b">PBa/PCF-1%</text><line x1="300.5" y1="342.0" x2="468" y2="342.0" stroke="#1A68DC" stroke-width="10.8" stroke-linecap="round"/><text x="487.8" y="368.5" class="b">PBa/PCF-3%</text><line x1="295.5" y1="436.3" x2="473" y2="436.3" stroke="#31AD65" stroke-width="7.5" stroke-linecap="butt"/><text x="487.8" y="462.4" class="b">PBa/PCF-5%</text><rect x="369.10" y="140.20" width="29.8" height="27" fill="#000"/><ellipse cx="384.00" cy="247.30" rx="15.4" ry="15.8" fill="#FF0000"/><polygon points="382.5,320.1 401.4,352.8 363.6,352.8" fill="#1A68DC"/><polygon points="383,459.2 401.9,424.4 364.1,424.4" fill="#31AD65"/></g>
<g id="ann"><line x1="1490.9" y1="116" x2="1448.78" y2="134.91" stroke="#000" stroke-width="2.2"/><polygon points="1420.5,147.6 1447.25,126.61 1453.96,141.57" fill="#000"/><line x1="1336.6" y1="304.7" x2="1369.92" y2="368.34" stroke="#000" stroke-width="2.2"/><polygon points="1384.3,395.8 1361.73,370.37 1376.26,362.76" fill="#000"/><line x1="1528.9" y1="285.1" x2="1489.58" y2="314.67" stroke="#000" stroke-width="2.2"/><polygon points="1464.8,333.3 1486.25,306.91 1496.10,320.02" fill="#000"/><line x1="1233.7" y1="400.4" x2="1297.61" y2="423.26" stroke="#000" stroke-width="2.2"/><polygon points="1326.8,433.7 1292.97,430.31 1298.49,414.87" fill="#000"/><text x="1491" y="139.2" class="a">235</text><text x="1251.5" y="296.8" class="a">231</text><text x="1540" y="278.8" class="a">241</text><text x="1139" y="390.5" class="a">222</text></g>
<g id="titles"><text x="789.5" y="1600.2" class="t">Temperature</text><text x="1215.5" y="1600.2" style="font-family:Liberation Serif,serif;font-weight:normal;font-size:75px">(</text><text x="1245.8" y="1601.9" style="font-family:Liberation Serif,IPAGothic,sans-serif;font-weight:normal;font-size:68px">℃</text><text transform="translate(1322,1598) scale(1.17,1)" style="font-family:Liberation Serif,Noto Serif CJK SC,serif;font-weight:normal;font-size:66px">）</text><g transform="translate(99.5,827.6) rotate(-90)"><text x="0" y="0" style="font-size:79px">Tan</text></g><g transform="translate(98.9,697.5) rotate(-90)"><text x="0" y="0" style="font-family:Liberation Serif,serif;font-weight:normal;font-size:77px">δ</text></g></g>
</svg>
</body></html>
